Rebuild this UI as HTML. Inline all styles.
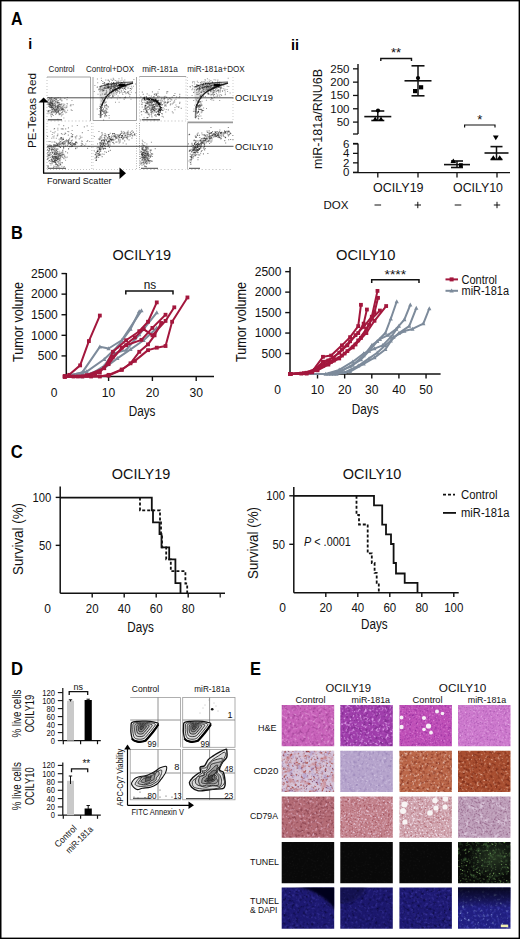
<!DOCTYPE html>
<html><head><meta charset="utf-8"><title>Figure</title>
<style>html,body{margin:0;padding:0;background:#fff;width:520px;height:939px;overflow:hidden}
text{font-family:"Liberation Sans", sans-serif}</style></head>
<body><svg width="520" height="939" viewBox="0 0 520 939" style="display:block;font-family:&quot;Liberation Sans&quot;, sans-serif"><rect x="0" y="0" width="520" height="1.4" fill="#000"/><rect x="0" y="937.6" width="520" height="1.4" fill="#000"/><rect x="0" y="0" width="1.5" height="939" fill="#000"/><rect x="518.6" y="0" width="1.4" height="939" fill="#000"/>
<text x="11.00" y="25.00" font-size="18" text-anchor="start" font-weight="bold" fill="#000" textLength="11.5" lengthAdjust="spacingAndGlyphs" >A</text>
<text x="11.00" y="238.50" font-size="18" text-anchor="start" font-weight="bold" fill="#000" textLength="11.8" lengthAdjust="spacingAndGlyphs" >B</text>
<text x="10.80" y="457.50" font-size="18" text-anchor="start" font-weight="bold" fill="#000" textLength="12" lengthAdjust="spacingAndGlyphs" >C</text>
<text x="11.00" y="674.50" font-size="18" text-anchor="start" font-weight="bold" fill="#000" textLength="12" lengthAdjust="spacingAndGlyphs" >D</text>
<text x="250.00" y="675.00" font-size="18" text-anchor="start" font-weight="bold" fill="#000" textLength="11" lengthAdjust="spacingAndGlyphs" >E</text>
<text x="28.30" y="48.80" font-size="14" text-anchor="start" font-weight="bold" fill="#000" >i</text>
<text x="291.00" y="49.80" font-size="14" text-anchor="start" font-weight="bold" fill="#000" textLength="8" lengthAdjust="spacingAndGlyphs" >ii</text>
<text x="61.60" y="72.30" font-size="8.6" text-anchor="middle" font-weight="normal" fill="#1a1a1a" textLength="26" lengthAdjust="spacingAndGlyphs" >Control</text>
<text x="110.00" y="72.30" font-size="8.6" text-anchor="middle" font-weight="normal" fill="#1a1a1a" textLength="48" lengthAdjust="spacingAndGlyphs" >Control+DOX</text>
<text x="160.00" y="72.30" font-size="8.6" text-anchor="middle" font-weight="normal" fill="#1a1a1a" textLength="35.7" lengthAdjust="spacingAndGlyphs" >miR-181a</text>
<text x="216.00" y="72.30" font-size="8.6" text-anchor="middle" font-weight="normal" fill="#1a1a1a" textLength="57.6" lengthAdjust="spacingAndGlyphs" >miR-181a+DOX</text>
<line x1="47.00" y1="77.00" x2="90.50" y2="77.00" stroke="#8a8a8a" stroke-width="0.8" />
<line x1="90.50" y1="77.00" x2="90.50" y2="121.00" stroke="#8a8a8a" stroke-width="0.8" />
<line x1="47.00" y1="77.00" x2="47.00" y2="121.00" stroke="#aaa" stroke-width="0.7" stroke-dasharray="1 2"/>
<line x1="47.00" y1="121.00" x2="90.50" y2="121.00" stroke="#bbb" stroke-width="0.7" stroke-dasharray="1.5 2"/>
<line x1="93.00" y1="77.00" x2="93.00" y2="120.50" stroke="#8a8a8a" stroke-width="0.8" />
<line x1="93.00" y1="120.50" x2="136.50" y2="120.50" stroke="#8a8a8a" stroke-width="0.8" />
<line x1="136.50" y1="77.00" x2="136.50" y2="120.50" stroke="#8a8a8a" stroke-width="0.8" />
<line x1="139.50" y1="76.50" x2="186.00" y2="76.50" stroke="#8a8a8a" stroke-width="0.8" />
<line x1="139.50" y1="76.50" x2="139.50" y2="121.00" stroke="#aaa" stroke-width="0.7" stroke-dasharray="1 2"/>
<line x1="186.00" y1="76.50" x2="186.00" y2="121.00" stroke="#aaa" stroke-width="0.7" stroke-dasharray="1 2"/>
<line x1="139.50" y1="121.00" x2="186.00" y2="121.00" stroke="#bbb" stroke-width="0.7" stroke-dasharray="1.5 2"/>
<line x1="187.50" y1="77.00" x2="187.50" y2="121.00" stroke="#bbb" stroke-width="0.7" stroke-dasharray="1 2"/>
<line x1="233.00" y1="77.00" x2="233.00" y2="121.00" stroke="#bbb" stroke-width="0.7" stroke-dasharray="1 2"/>
<line x1="47.00" y1="123.00" x2="47.00" y2="169.50" stroke="#aaa" stroke-width="0.7" stroke-dasharray="1 2"/>
<line x1="47.00" y1="169.50" x2="91.50" y2="169.50" stroke="#aaa" stroke-width="0.7" stroke-dasharray="1 2"/>
<line x1="91.50" y1="123.00" x2="91.50" y2="169.50" stroke="#bbb" stroke-width="0.7" stroke-dasharray="1 2"/>
<line x1="93.00" y1="123.00" x2="93.00" y2="169.50" stroke="#bbb" stroke-width="0.7" stroke-dasharray="1 2"/>
<line x1="93.00" y1="169.50" x2="136.50" y2="169.50" stroke="#bbb" stroke-width="0.7" stroke-dasharray="1 2"/>
<line x1="136.50" y1="123.00" x2="136.50" y2="169.50" stroke="#999" stroke-width="0.7" stroke-dasharray="1 1.5"/>
<line x1="139.50" y1="123.00" x2="139.50" y2="169.50" stroke="#999" stroke-width="0.9" stroke-dasharray="1 1.2"/>
<line x1="139.50" y1="169.50" x2="185.50" y2="169.50" stroke="#bbb" stroke-width="0.7" stroke-dasharray="1.5 2"/>
<line x1="187.50" y1="123.00" x2="187.50" y2="169.50" stroke="#aaa" stroke-width="0.8" />
<line x1="187.50" y1="169.50" x2="233.00" y2="169.50" stroke="#bbb" stroke-width="0.7" stroke-dasharray="1.5 2"/>
<path d="M54.4 108.3h1.1v1.1h-1.1zM59.6 106.8h1.1v1.1h-1.1zM51.9 102.9h1.1v1.1h-1.1zM52.8 114.9h1.1v1.1h-1.1zM58.0 106.8h1.1v1.1h-1.1zM57.2 97.3h1.1v1.1h-1.1zM57.4 105.1h1.1v1.1h-1.1zM55.9 98.3h1.1v1.1h-1.1zM49.6 106.8h1.1v1.1h-1.1zM59.9 106.3h1.1v1.1h-1.1zM49.2 112.5h1.1v1.1h-1.1zM50.2 114.3h1.1v1.1h-1.1zM52.8 103.2h1.1v1.1h-1.1zM49.9 104.7h1.1v1.1h-1.1zM52.3 108.9h1.1v1.1h-1.1zM54.7 107.0h1.1v1.1h-1.1zM53.7 103.4h1.1v1.1h-1.1zM57.0 106.8h1.1v1.1h-1.1zM53.2 104.9h1.1v1.1h-1.1zM58.9 113.7h1.1v1.1h-1.1zM58.2 97.2h1.1v1.1h-1.1zM55.1 113.9h1.1v1.1h-1.1zM56.0 109.3h1.1v1.1h-1.1zM51.3 97.4h1.1v1.1h-1.1zM58.5 114.2h1.1v1.1h-1.1zM55.1 102.1h1.1v1.1h-1.1zM61.3 104.5h1.1v1.1h-1.1zM48.0 110.0h1.1v1.1h-1.1zM55.2 111.2h1.1v1.1h-1.1zM47.6 111.3h1.1v1.1h-1.1zM62.6 105.7h1.1v1.1h-1.1zM48.9 102.2h1.1v1.1h-1.1zM49.2 101.9h1.1v1.1h-1.1zM50.7 107.5h1.1v1.1h-1.1zM58.1 107.2h1.1v1.1h-1.1zM57.3 118.8h1.1v1.1h-1.1zM51.8 105.0h1.1v1.1h-1.1zM59.0 106.0h1.1v1.1h-1.1zM62.2 107.8h1.1v1.1h-1.1zM60.8 115.4h1.1v1.1h-1.1zM63.9 111.2h1.1v1.1h-1.1zM52.0 106.9h1.1v1.1h-1.1zM58.0 106.6h1.1v1.1h-1.1zM55.0 106.3h1.1v1.1h-1.1zM57.2 104.4h1.1v1.1h-1.1zM51.3 114.1h1.1v1.1h-1.1zM61.4 109.3h1.1v1.1h-1.1zM54.9 109.5h1.1v1.1h-1.1zM54.1 110.3h1.1v1.1h-1.1zM58.6 105.6h1.1v1.1h-1.1zM51.2 102.0h1.1v1.1h-1.1zM54.5 97.7h1.1v1.1h-1.1zM47.4 103.2h1.1v1.1h-1.1zM51.5 106.3h1.1v1.1h-1.1zM50.3 103.5h1.1v1.1h-1.1zM50.3 100.4h1.1v1.1h-1.1zM48.0 104.2h1.1v1.1h-1.1zM50.4 100.0h1.1v1.1h-1.1zM49.9 100.5h1.1v1.1h-1.1zM54.2 102.2h1.1v1.1h-1.1zM51.0 108.6h1.1v1.1h-1.1zM52.3 99.4h1.1v1.1h-1.1zM49.2 104.5h1.1v1.1h-1.1zM50.9 101.7h1.1v1.1h-1.1zM52.6 103.4h1.1v1.1h-1.1zM49.6 112.6h1.1v1.1h-1.1zM52.6 98.6h1.1v1.1h-1.1zM50.3 99.1h1.1v1.1h-1.1zM49.0 104.1h1.1v1.1h-1.1zM49.0 102.0h1.1v1.1h-1.1zM49.6 104.1h1.1v1.1h-1.1zM47.4 99.9h1.1v1.1h-1.1zM51.6 104.7h1.1v1.1h-1.1zM60.9 111.9h1.1v1.1h-1.1zM70.7 109.3h1.1v1.1h-1.1zM66.8 97.0h1.1v1.1h-1.1zM70.4 104.0h1.1v1.1h-1.1zM58.3 103.4h1.1v1.1h-1.1zM53.6 106.2h1.1v1.1h-1.1zM69.8 105.2h1.1v1.1h-1.1zM61.0 108.6h1.1v1.1h-1.1zM58.2 112.8h1.1v1.1h-1.1zM66.5 106.5h1.1v1.1h-1.1zM62.5 113.6h1.1v1.1h-1.1zM71.4 100.0h1.1v1.1h-1.1zM57.7 111.3h1.1v1.1h-1.1z" fill="#000" fill-opacity="0.36400000000000005"/>
<path d="M54.5 103.7h1.1v1.1h-1.1zM57.0 106.5h1.1v1.1h-1.1zM56.7 105.2h1.1v1.1h-1.1zM57.7 112.0h1.1v1.1h-1.1zM53.7 100.2h1.1v1.1h-1.1zM55.6 112.6h1.1v1.1h-1.1zM49.6 110.0h1.1v1.1h-1.1zM57.9 102.1h1.1v1.1h-1.1zM61.2 108.6h1.1v1.1h-1.1zM56.4 107.8h1.1v1.1h-1.1zM59.3 108.4h1.1v1.1h-1.1zM57.7 104.6h1.1v1.1h-1.1zM59.6 105.6h1.1v1.1h-1.1zM54.9 103.8h1.1v1.1h-1.1zM60.0 110.2h1.1v1.1h-1.1zM57.7 105.5h1.1v1.1h-1.1zM55.4 110.5h1.1v1.1h-1.1zM53.7 109.1h1.1v1.1h-1.1zM54.5 105.1h1.1v1.1h-1.1zM48.6 103.5h1.1v1.1h-1.1zM56.2 112.0h1.1v1.1h-1.1zM59.6 103.8h1.1v1.1h-1.1zM56.3 109.0h1.1v1.1h-1.1zM60.5 109.6h1.1v1.1h-1.1zM51.9 114.0h1.1v1.1h-1.1zM57.0 107.7h1.1v1.1h-1.1zM52.5 111.1h1.1v1.1h-1.1zM56.7 102.1h1.1v1.1h-1.1zM61.4 114.3h1.1v1.1h-1.1zM50.5 105.4h1.1v1.1h-1.1zM57.6 111.0h1.1v1.1h-1.1zM59.5 109.8h1.1v1.1h-1.1zM59.1 102.3h1.1v1.1h-1.1zM58.3 103.9h1.1v1.1h-1.1zM60.8 109.1h1.1v1.1h-1.1zM51.7 109.2h1.1v1.1h-1.1zM56.6 110.0h1.1v1.1h-1.1zM52.0 100.8h1.1v1.1h-1.1zM55.2 108.3h1.1v1.1h-1.1zM49.8 101.8h1.1v1.1h-1.1zM50.7 98.1h1.1v1.1h-1.1zM55.2 108.3h1.1v1.1h-1.1zM54.2 109.8h1.1v1.1h-1.1zM55.4 106.4h1.1v1.1h-1.1zM57.2 100.1h1.1v1.1h-1.1zM53.9 97.9h1.1v1.1h-1.1zM55.4 108.7h1.1v1.1h-1.1zM54.3 111.3h1.1v1.1h-1.1zM59.4 105.5h1.1v1.1h-1.1zM58.9 108.4h1.1v1.1h-1.1zM55.5 97.4h1.1v1.1h-1.1zM62.8 108.3h1.1v1.1h-1.1zM47.5 99.2h1.1v1.1h-1.1zM52.9 108.1h1.1v1.1h-1.1zM51.2 97.1h1.1v1.1h-1.1zM51.6 104.9h1.1v1.1h-1.1zM50.7 97.9h1.1v1.1h-1.1zM50.2 103.2h1.1v1.1h-1.1zM48.7 103.0h1.1v1.1h-1.1zM52.2 103.9h1.1v1.1h-1.1zM51.7 107.2h1.1v1.1h-1.1zM50.8 111.9h1.1v1.1h-1.1zM51.4 106.3h1.1v1.1h-1.1zM52.7 100.6h1.1v1.1h-1.1zM49.4 106.7h1.1v1.1h-1.1zM50.5 106.6h1.1v1.1h-1.1zM48.0 97.0h1.1v1.1h-1.1zM50.5 97.7h1.1v1.1h-1.1zM49.7 109.7h1.1v1.1h-1.1zM50.9 105.5h1.1v1.1h-1.1zM50.7 105.1h1.1v1.1h-1.1zM50.4 99.3h1.1v1.1h-1.1zM51.3 103.0h1.1v1.1h-1.1zM56.2 111.3h1.1v1.1h-1.1zM66.8 103.3h1.1v1.1h-1.1zM65.9 106.7h1.1v1.1h-1.1zM55.3 99.3h1.1v1.1h-1.1zM64.6 110.7h1.1v1.1h-1.1zM58.2 110.2h1.1v1.1h-1.1zM66.5 102.9h1.1v1.1h-1.1zM52.5 107.5h1.1v1.1h-1.1zM59.8 103.8h1.1v1.1h-1.1zM63.3 103.5h1.1v1.1h-1.1zM65.1 112.2h1.1v1.1h-1.1zM66.3 105.2h1.1v1.1h-1.1zM61.7 107.8h1.1v1.1h-1.1z" fill="#000" fill-opacity="0.36400000000000005"/>
<path d="M51.7 104.3h1.1v1.1h-1.1zM48.8 110.2h1.1v1.1h-1.1zM57.5 101.9h1.1v1.1h-1.1zM53.0 101.4h1.1v1.1h-1.1zM53.4 112.2h1.1v1.1h-1.1zM47.4 103.7h1.1v1.1h-1.1zM58.1 110.7h1.1v1.1h-1.1zM53.6 98.5h1.1v1.1h-1.1zM56.9 101.4h1.1v1.1h-1.1zM61.8 108.9h1.1v1.1h-1.1zM47.6 102.0h1.1v1.1h-1.1zM56.7 109.0h1.1v1.1h-1.1zM51.9 110.7h1.1v1.1h-1.1zM61.1 99.8h1.1v1.1h-1.1zM56.8 106.2h1.1v1.1h-1.1zM58.5 108.6h1.1v1.1h-1.1zM54.1 107.6h1.1v1.1h-1.1zM56.6 102.6h1.1v1.1h-1.1zM59.5 99.0h1.1v1.1h-1.1zM54.1 108.9h1.1v1.1h-1.1zM54.9 106.5h1.1v1.1h-1.1zM66.4 99.1h1.1v1.1h-1.1zM49.3 97.1h1.1v1.1h-1.1zM61.3 100.3h1.1v1.1h-1.1zM59.4 104.5h1.1v1.1h-1.1zM61.4 99.8h1.1v1.1h-1.1zM55.9 106.1h1.1v1.1h-1.1zM55.4 110.0h1.1v1.1h-1.1zM52.8 110.3h1.1v1.1h-1.1zM54.7 105.3h1.1v1.1h-1.1zM54.7 98.5h1.1v1.1h-1.1zM55.5 109.9h1.1v1.1h-1.1zM51.8 101.2h1.1v1.1h-1.1zM56.6 102.9h1.1v1.1h-1.1zM59.0 112.7h1.1v1.1h-1.1zM63.0 104.8h1.1v1.1h-1.1zM55.3 104.4h1.1v1.1h-1.1zM66.1 111.7h1.1v1.1h-1.1zM47.7 111.1h1.1v1.1h-1.1zM56.6 106.5h1.1v1.1h-1.1zM62.3 110.9h1.1v1.1h-1.1zM52.5 104.8h1.1v1.1h-1.1zM55.6 100.9h1.1v1.1h-1.1zM54.9 98.5h1.1v1.1h-1.1zM47.9 105.8h1.1v1.1h-1.1zM52.4 108.3h1.1v1.1h-1.1zM62.1 110.8h1.1v1.1h-1.1zM57.8 110.4h1.1v1.1h-1.1zM50.8 106.5h1.1v1.1h-1.1zM56.3 105.8h1.1v1.1h-1.1zM52.7 108.6h1.1v1.1h-1.1zM52.2 99.9h1.1v1.1h-1.1zM49.4 97.8h1.1v1.1h-1.1zM48.4 101.4h1.1v1.1h-1.1zM48.5 103.4h1.1v1.1h-1.1zM50.3 100.8h1.1v1.1h-1.1zM50.0 102.2h1.1v1.1h-1.1zM51.6 104.6h1.1v1.1h-1.1zM49.7 103.9h1.1v1.1h-1.1zM49.2 104.4h1.1v1.1h-1.1zM51.3 102.8h1.1v1.1h-1.1zM50.1 103.5h1.1v1.1h-1.1zM49.2 110.5h1.1v1.1h-1.1zM51.5 101.5h1.1v1.1h-1.1zM50.4 104.7h1.1v1.1h-1.1zM49.4 103.3h1.1v1.1h-1.1zM52.3 101.6h1.1v1.1h-1.1zM50.3 104.7h1.1v1.1h-1.1zM51.7 103.0h1.1v1.1h-1.1zM51.4 111.8h1.1v1.1h-1.1zM50.1 104.9h1.1v1.1h-1.1zM48.8 106.0h1.1v1.1h-1.1zM48.2 103.3h1.1v1.1h-1.1zM72.6 104.1h1.1v1.1h-1.1zM61.4 107.4h1.1v1.1h-1.1zM64.1 109.6h1.1v1.1h-1.1zM54.1 109.5h1.1v1.1h-1.1zM55.4 100.4h1.1v1.1h-1.1zM60.7 106.9h1.1v1.1h-1.1zM61.9 111.9h1.1v1.1h-1.1zM57.4 109.7h1.1v1.1h-1.1zM64.3 98.0h1.1v1.1h-1.1zM63.3 117.4h1.1v1.1h-1.1zM62.7 109.0h1.1v1.1h-1.1zM61.4 105.9h1.1v1.1h-1.1zM60.4 112.9h1.1v1.1h-1.1z" fill="#000" fill-opacity="0.36400000000000005"/>
<path d="M59.9 107.8h1.1v1.1h-1.1zM57.5 108.2h1.1v1.1h-1.1zM56.7 107.6h1.1v1.1h-1.1zM54.1 104.9h1.1v1.1h-1.1zM52.2 106.8h1.1v1.1h-1.1zM55.0 101.0h1.1v1.1h-1.1zM61.2 107.4h1.1v1.1h-1.1zM51.6 102.5h1.1v1.1h-1.1zM51.0 110.8h1.1v1.1h-1.1zM57.5 108.5h1.1v1.1h-1.1zM54.7 111.1h1.1v1.1h-1.1zM55.9 111.8h1.1v1.1h-1.1zM61.3 103.0h1.1v1.1h-1.1zM60.5 98.5h1.1v1.1h-1.1zM56.1 108.6h1.1v1.1h-1.1zM63.5 107.2h1.1v1.1h-1.1zM51.0 106.8h1.1v1.1h-1.1zM65.2 107.4h1.1v1.1h-1.1zM55.2 110.7h1.1v1.1h-1.1zM59.8 97.5h1.1v1.1h-1.1zM58.6 106.2h1.1v1.1h-1.1zM59.1 104.0h1.1v1.1h-1.1zM57.9 100.2h1.1v1.1h-1.1zM55.5 99.2h1.1v1.1h-1.1zM47.6 113.2h1.1v1.1h-1.1zM60.0 113.6h1.1v1.1h-1.1zM61.1 104.0h1.1v1.1h-1.1zM55.8 112.7h1.1v1.1h-1.1zM47.9 99.5h1.1v1.1h-1.1zM53.1 106.7h1.1v1.1h-1.1zM53.2 111.4h1.1v1.1h-1.1zM56.1 99.0h1.1v1.1h-1.1zM49.3 104.8h1.1v1.1h-1.1zM58.6 109.6h1.1v1.1h-1.1zM54.3 102.9h1.1v1.1h-1.1zM57.7 110.4h1.1v1.1h-1.1zM51.4 103.5h1.1v1.1h-1.1zM57.9 108.1h1.1v1.1h-1.1zM56.7 101.6h1.1v1.1h-1.1zM53.9 100.1h1.1v1.1h-1.1zM62.7 109.9h1.1v1.1h-1.1zM57.3 107.5h1.1v1.1h-1.1zM52.9 105.4h1.1v1.1h-1.1zM57.1 111.2h1.1v1.1h-1.1zM51.7 109.5h1.1v1.1h-1.1zM57.4 106.4h1.1v1.1h-1.1zM59.5 99.5h1.1v1.1h-1.1zM60.4 104.3h1.1v1.1h-1.1zM56.9 111.7h1.1v1.1h-1.1zM54.5 109.2h1.1v1.1h-1.1zM57.7 105.2h1.1v1.1h-1.1zM51.7 107.2h1.1v1.1h-1.1zM50.5 104.4h1.1v1.1h-1.1zM48.8 99.1h1.1v1.1h-1.1zM50.1 102.2h1.1v1.1h-1.1zM48.9 103.6h1.1v1.1h-1.1zM51.2 105.9h1.1v1.1h-1.1zM49.3 98.0h1.1v1.1h-1.1zM51.3 101.8h1.1v1.1h-1.1zM51.4 112.8h1.1v1.1h-1.1zM51.3 99.1h1.1v1.1h-1.1zM52.3 103.6h1.1v1.1h-1.1zM53.1 103.5h1.1v1.1h-1.1zM49.3 106.3h1.1v1.1h-1.1zM52.9 108.0h1.1v1.1h-1.1zM47.7 110.6h1.1v1.1h-1.1zM50.4 102.2h1.1v1.1h-1.1zM51.2 102.5h1.1v1.1h-1.1zM49.7 100.6h1.1v1.1h-1.1zM49.3 103.5h1.1v1.1h-1.1zM50.5 106.5h1.1v1.1h-1.1zM49.4 106.0h1.1v1.1h-1.1zM64.2 104.3h1.1v1.1h-1.1zM62.3 106.5h1.1v1.1h-1.1zM50.8 116.1h1.1v1.1h-1.1zM52.5 106.2h1.1v1.1h-1.1zM71.6 110.0h1.1v1.1h-1.1zM63.2 108.9h1.1v1.1h-1.1zM59.3 113.8h1.1v1.1h-1.1zM70.5 105.2h1.1v1.1h-1.1zM61.7 109.0h1.1v1.1h-1.1zM57.4 107.3h1.1v1.1h-1.1zM57.6 107.6h1.1v1.1h-1.1zM67.0 109.7h1.1v1.1h-1.1zM58.5 102.4h1.1v1.1h-1.1zM64.4 106.6h1.1v1.1h-1.1z" fill="#000" fill-opacity="0.36400000000000005"/>
<g transform="translate(0,0)"><path d="M99.5,86.5 C106,83 118,82 133,82 C126,84.5 118,87 110,93 C105,97 102,101 100.5,106 C99.5,99 99,92 99.5,86.5 Z" fill="#cfcfcf" fill-opacity="0.65"/><path d="M100.5,111 C101.5,104 104,98 110,93 C116,88 124,85.5 133,83" fill="none" stroke="#222" stroke-width="1.5"/><path d="M99.5,87 C107,83.5 118,82.5 133,82" fill="none" stroke="#555" stroke-width="1.2"/><path d="M101,106 L100.5,118" fill="none" stroke="#777" stroke-width="1.6"/><path d="M101,90 C108,87 114,86 120,85" fill="none" stroke="#777" stroke-width="1"/><ellipse cx="122" cy="85" rx="3.5" ry="1.6" fill="#000"/></g>
<path d="M119.5 85.0h1.0v1.0h-1.0zM99.4 90.7h1.0v1.0h-1.0zM113.8 84.6h1.0v1.0h-1.0zM109.7 87.7h1.0v1.0h-1.0zM128.6 85.6h1.0v1.0h-1.0zM135.0 83.4h1.0v1.0h-1.0zM118.3 80.5h1.0v1.0h-1.0zM114.2 84.2h1.0v1.0h-1.0zM101.9 93.5h1.0v1.0h-1.0zM111.1 82.1h1.0v1.0h-1.0zM111.2 84.1h1.0v1.0h-1.0zM113.6 87.9h1.0v1.0h-1.0zM118.2 81.2h1.0v1.0h-1.0zM120.8 86.2h1.0v1.0h-1.0zM120.1 82.9h1.0v1.0h-1.0zM115.2 88.5h1.0v1.0h-1.0zM121.5 85.7h1.0v1.0h-1.0zM117.3 86.1h1.0v1.0h-1.0zM107.3 86.9h1.0v1.0h-1.0zM109.6 87.1h1.0v1.0h-1.0zM98.0 89.2h1.0v1.0h-1.0zM124.1 87.9h1.0v1.0h-1.0zM121.4 77.6h1.0v1.0h-1.0zM123.8 83.0h1.0v1.0h-1.0zM116.2 83.7h1.0v1.0h-1.0zM110.5 78.8h1.0v1.0h-1.0zM104.3 83.1h1.0v1.0h-1.0zM104.4 86.6h1.0v1.0h-1.0zM108.0 86.0h1.0v1.0h-1.0zM110.9 85.4h1.0v1.0h-1.0zM104.7 85.4h1.0v1.0h-1.0zM118.2 84.5h1.0v1.0h-1.0zM119.2 83.9h1.0v1.0h-1.0zM119.1 86.0h1.0v1.0h-1.0zM121.8 88.1h1.0v1.0h-1.0zM107.3 83.2h1.0v1.0h-1.0zM108.3 86.2h1.0v1.0h-1.0zM102.1 83.1h1.0v1.0h-1.0zM94.4 85.0h1.0v1.0h-1.0zM120.1 87.4h1.0v1.0h-1.0zM127.5 91.1h1.0v1.0h-1.0zM107.7 86.9h1.0v1.0h-1.0zM127.0 83.5h1.0v1.0h-1.0zM128.1 87.5h1.0v1.0h-1.0zM100.6 85.3h1.0v1.0h-1.0zM116.4 80.5h1.0v1.0h-1.0zM114.1 87.0h1.0v1.0h-1.0zM111.8 83.1h1.0v1.0h-1.0zM119.6 85.0h1.0v1.0h-1.0zM113.3 82.7h1.0v1.0h-1.0zM100.8 77.8h1.0v1.0h-1.0zM106.5 84.3h1.0v1.0h-1.0zM129.7 90.1h1.0v1.0h-1.0zM108.7 80.6h1.0v1.0h-1.0zM130.1 88.1h1.0v1.0h-1.0zM123.0 80.7h1.0v1.0h-1.0zM113.8 83.3h1.0v1.0h-1.0zM108.2 87.6h1.0v1.0h-1.0zM99.5 110.8h1.0v1.0h-1.0zM104.1 104.7h1.0v1.0h-1.0zM99.0 108.0h1.0v1.0h-1.0zM103.1 110.9h1.0v1.0h-1.0zM102.1 99.2h1.0v1.0h-1.0zM103.9 106.8h1.0v1.0h-1.0zM103.8 113.0h1.0v1.0h-1.0zM106.2 115.5h1.0v1.0h-1.0zM105.5 111.5h1.0v1.0h-1.0zM104.3 109.9h1.0v1.0h-1.0zM107.5 106.2h1.0v1.0h-1.0zM103.2 102.2h1.0v1.0h-1.0zM99.9 112.7h1.0v1.0h-1.0zM100.1 112.1h1.0v1.0h-1.0zM102.6 97.4h1.0v1.0h-1.0zM102.1 114.0h1.0v1.0h-1.0zM101.1 110.0h1.0v1.0h-1.0zM103.9 102.6h1.0v1.0h-1.0zM106.3 105.3h1.0v1.0h-1.0zM104.9 102.2h1.0v1.0h-1.0zM108.7 117.5h1.0v1.0h-1.0zM100.1 111.2h1.0v1.0h-1.0zM104.4 116.3h1.0v1.0h-1.0zM105.4 92.5h1.0v1.0h-1.0zM109.0 92.2h1.0v1.0h-1.0zM111.1 93.6h1.0v1.0h-1.0zM112.6 95.8h1.0v1.0h-1.0zM129.6 94.1h1.0v1.0h-1.0zM135.1 92.2h1.0v1.0h-1.0zM112.9 93.4h1.0v1.0h-1.0zM107.2 84.1h1.0v1.0h-1.0zM100.2 94.6h1.0v1.0h-1.0zM111.1 92.0h1.0v1.0h-1.0zM105.4 92.5h1.0v1.0h-1.0zM108.1 87.2h1.0v1.0h-1.0zM106.3 91.2h1.0v1.0h-1.0zM109.4 94.9h1.0v1.0h-1.0zM118.6 88.5h1.0v1.0h-1.0zM107.5 85.6h1.0v1.0h-1.0zM127.9 93.1h1.0v1.0h-1.0zM125.2 88.9h1.0v1.0h-1.0zM111.9 86.4h1.0v1.0h-1.0zM116.4 92.5h1.0v1.0h-1.0zM109.8 90.3h1.0v1.0h-1.0zM125.3 93.2h1.0v1.0h-1.0zM123.4 91.9h1.0v1.0h-1.0zM112.1 89.3h1.0v1.0h-1.0zM129.2 95.7h1.0v1.0h-1.0zM128.6 93.6h1.0v1.0h-1.0zM97.5 93.8h1.0v1.0h-1.0zM116.8 90.0h1.0v1.0h-1.0zM108.5 95.4h1.0v1.0h-1.0zM109.8 88.5h1.0v1.0h-1.0z" fill="#000" fill-opacity="0.41600000000000004"/>
<path d="M103.1 90.2h1.0v1.0h-1.0zM116.5 88.4h1.0v1.0h-1.0zM116.7 85.7h1.0v1.0h-1.0zM125.5 84.3h1.0v1.0h-1.0zM124.5 83.2h1.0v1.0h-1.0zM108.3 87.1h1.0v1.0h-1.0zM120.3 80.6h1.0v1.0h-1.0zM118.4 90.6h1.0v1.0h-1.0zM133.4 79.1h1.0v1.0h-1.0zM114.4 88.8h1.0v1.0h-1.0zM117.6 83.3h1.0v1.0h-1.0zM124.2 91.0h1.0v1.0h-1.0zM117.7 85.4h1.0v1.0h-1.0zM117.8 86.9h1.0v1.0h-1.0zM112.5 91.0h1.0v1.0h-1.0zM117.3 87.2h1.0v1.0h-1.0zM111.0 83.7h1.0v1.0h-1.0zM104.5 88.0h1.0v1.0h-1.0zM105.6 92.9h1.0v1.0h-1.0zM112.7 83.4h1.0v1.0h-1.0zM108.3 86.0h1.0v1.0h-1.0zM106.2 88.3h1.0v1.0h-1.0zM115.0 87.1h1.0v1.0h-1.0zM115.9 83.8h1.0v1.0h-1.0zM115.3 88.7h1.0v1.0h-1.0zM124.7 86.6h1.0v1.0h-1.0zM108.1 83.5h1.0v1.0h-1.0zM125.9 86.2h1.0v1.0h-1.0zM109.3 85.8h1.0v1.0h-1.0zM111.1 84.5h1.0v1.0h-1.0zM118.1 85.0h1.0v1.0h-1.0zM118.5 78.3h1.0v1.0h-1.0zM115.5 83.9h1.0v1.0h-1.0zM124.7 91.9h1.0v1.0h-1.0zM107.9 83.2h1.0v1.0h-1.0zM115.6 83.1h1.0v1.0h-1.0zM113.4 84.5h1.0v1.0h-1.0zM113.3 85.7h1.0v1.0h-1.0zM117.9 87.2h1.0v1.0h-1.0zM115.4 89.7h1.0v1.0h-1.0zM113.7 87.3h1.0v1.0h-1.0zM126.4 85.8h1.0v1.0h-1.0zM113.7 92.4h1.0v1.0h-1.0zM124.9 85.8h1.0v1.0h-1.0zM115.7 83.7h1.0v1.0h-1.0zM130.8 85.7h1.0v1.0h-1.0zM113.8 86.4h1.0v1.0h-1.0zM104.4 84.4h1.0v1.0h-1.0zM114.6 85.1h1.0v1.0h-1.0zM119.4 83.5h1.0v1.0h-1.0zM96.6 86.7h1.0v1.0h-1.0zM116.5 89.8h1.0v1.0h-1.0zM110.7 87.0h1.0v1.0h-1.0zM124.5 87.2h1.0v1.0h-1.0zM132.1 81.6h1.0v1.0h-1.0zM102.3 81.0h1.0v1.0h-1.0zM109.5 88.5h1.0v1.0h-1.0zM123.9 84.7h1.0v1.0h-1.0zM101.3 113.9h1.0v1.0h-1.0zM105.2 107.5h1.0v1.0h-1.0zM104.7 112.9h1.0v1.0h-1.0zM102.6 101.9h1.0v1.0h-1.0zM101.9 104.1h1.0v1.0h-1.0zM104.0 111.3h1.0v1.0h-1.0zM99.4 105.9h1.0v1.0h-1.0zM101.3 100.5h1.0v1.0h-1.0zM104.9 105.1h1.0v1.0h-1.0zM103.5 111.9h1.0v1.0h-1.0zM108.6 115.1h1.0v1.0h-1.0zM104.7 114.2h1.0v1.0h-1.0zM102.5 102.0h1.0v1.0h-1.0zM105.7 104.6h1.0v1.0h-1.0zM104.1 99.8h1.0v1.0h-1.0zM105.6 110.5h1.0v1.0h-1.0zM101.6 104.0h1.0v1.0h-1.0zM96.7 108.4h1.0v1.0h-1.0zM106.1 111.4h1.0v1.0h-1.0zM98.4 114.0h1.0v1.0h-1.0zM103.0 108.8h1.0v1.0h-1.0zM102.3 110.6h1.0v1.0h-1.0zM102.2 109.7h1.0v1.0h-1.0zM118.6 101.7h1.0v1.0h-1.0zM111.6 90.9h1.0v1.0h-1.0zM110.9 92.6h1.0v1.0h-1.0zM105.2 94.0h1.0v1.0h-1.0zM127.1 87.6h1.0v1.0h-1.0zM112.1 89.0h1.0v1.0h-1.0zM127.2 87.5h1.0v1.0h-1.0zM119.1 84.1h1.0v1.0h-1.0zM109.6 90.4h1.0v1.0h-1.0zM106.1 91.8h1.0v1.0h-1.0zM107.7 84.9h1.0v1.0h-1.0zM126.3 92.5h1.0v1.0h-1.0zM117.2 90.9h1.0v1.0h-1.0zM101.9 90.4h1.0v1.0h-1.0zM119.3 87.9h1.0v1.0h-1.0zM112.1 94.6h1.0v1.0h-1.0zM123.1 88.2h1.0v1.0h-1.0zM107.8 85.6h1.0v1.0h-1.0zM113.2 89.0h1.0v1.0h-1.0zM118.2 82.7h1.0v1.0h-1.0zM112.8 95.5h1.0v1.0h-1.0zM119.4 92.0h1.0v1.0h-1.0zM99.7 86.4h1.0v1.0h-1.0zM116.3 92.1h1.0v1.0h-1.0zM116.5 92.0h1.0v1.0h-1.0zM111.9 83.8h1.0v1.0h-1.0zM115.0 101.8h1.0v1.0h-1.0zM110.7 97.5h1.0v1.0h-1.0zM104.4 93.8h1.0v1.0h-1.0zM104.9 96.1h1.0v1.0h-1.0z" fill="#000" fill-opacity="0.41600000000000004"/>
<path d="M117.7 82.4h1.0v1.0h-1.0zM115.3 85.0h1.0v1.0h-1.0zM119.6 84.3h1.0v1.0h-1.0zM112.4 90.6h1.0v1.0h-1.0zM115.4 85.3h1.0v1.0h-1.0zM104.0 87.1h1.0v1.0h-1.0zM107.2 83.7h1.0v1.0h-1.0zM113.6 86.7h1.0v1.0h-1.0zM113.1 86.8h1.0v1.0h-1.0zM103.7 82.2h1.0v1.0h-1.0zM105.6 84.2h1.0v1.0h-1.0zM106.4 84.2h1.0v1.0h-1.0zM97.1 86.4h1.0v1.0h-1.0zM125.2 84.8h1.0v1.0h-1.0zM117.5 85.0h1.0v1.0h-1.0zM113.1 89.8h1.0v1.0h-1.0zM111.2 87.5h1.0v1.0h-1.0zM111.0 84.4h1.0v1.0h-1.0zM109.1 89.3h1.0v1.0h-1.0zM132.9 85.8h1.0v1.0h-1.0zM124.8 85.9h1.0v1.0h-1.0zM118.0 87.6h1.0v1.0h-1.0zM110.5 85.6h1.0v1.0h-1.0zM114.9 83.3h1.0v1.0h-1.0zM104.7 85.1h1.0v1.0h-1.0zM113.6 84.6h1.0v1.0h-1.0zM103.1 87.5h1.0v1.0h-1.0zM106.9 85.7h1.0v1.0h-1.0zM120.1 88.0h1.0v1.0h-1.0zM111.9 80.0h1.0v1.0h-1.0zM111.6 79.7h1.0v1.0h-1.0zM121.2 86.7h1.0v1.0h-1.0zM115.3 87.9h1.0v1.0h-1.0zM105.3 79.4h1.0v1.0h-1.0zM121.5 82.6h1.0v1.0h-1.0zM125.3 85.2h1.0v1.0h-1.0zM116.4 83.3h1.0v1.0h-1.0zM118.5 85.9h1.0v1.0h-1.0zM112.4 84.9h1.0v1.0h-1.0zM108.3 84.4h1.0v1.0h-1.0zM124.1 88.1h1.0v1.0h-1.0zM105.8 84.4h1.0v1.0h-1.0zM124.2 86.6h1.0v1.0h-1.0zM118.1 84.9h1.0v1.0h-1.0zM110.7 88.0h1.0v1.0h-1.0zM113.2 81.9h1.0v1.0h-1.0zM105.8 90.1h1.0v1.0h-1.0zM116.1 81.7h1.0v1.0h-1.0zM113.1 87.8h1.0v1.0h-1.0zM114.8 92.5h1.0v1.0h-1.0zM107.8 79.5h1.0v1.0h-1.0zM131.0 88.8h1.0v1.0h-1.0zM116.1 85.7h1.0v1.0h-1.0zM102.6 90.0h1.0v1.0h-1.0zM118.3 86.9h1.0v1.0h-1.0zM108.5 83.6h1.0v1.0h-1.0zM120.4 85.8h1.0v1.0h-1.0zM120.9 81.9h1.0v1.0h-1.0zM101.8 106.7h1.0v1.0h-1.0zM104.0 93.7h1.0v1.0h-1.0zM100.8 115.2h1.0v1.0h-1.0zM106.2 112.0h1.0v1.0h-1.0zM101.5 110.4h1.0v1.0h-1.0zM105.9 104.1h1.0v1.0h-1.0zM103.6 100.3h1.0v1.0h-1.0zM104.8 112.2h1.0v1.0h-1.0zM104.3 111.5h1.0v1.0h-1.0zM102.0 107.1h1.0v1.0h-1.0zM105.5 110.4h1.0v1.0h-1.0zM104.8 109.6h1.0v1.0h-1.0zM101.6 103.4h1.0v1.0h-1.0zM99.8 103.8h1.0v1.0h-1.0zM105.8 101.5h1.0v1.0h-1.0zM104.3 99.8h1.0v1.0h-1.0zM100.9 97.2h1.0v1.0h-1.0zM106.5 109.0h1.0v1.0h-1.0zM99.7 105.5h1.0v1.0h-1.0zM104.4 114.9h1.0v1.0h-1.0zM103.1 112.5h1.0v1.0h-1.0zM104.2 115.6h1.0v1.0h-1.0zM125.0 96.5h1.0v1.0h-1.0zM108.6 96.1h1.0v1.0h-1.0zM119.3 88.3h1.0v1.0h-1.0zM128.3 91.6h1.0v1.0h-1.0zM111.4 88.3h1.0v1.0h-1.0zM125.1 97.3h1.0v1.0h-1.0zM119.1 92.8h1.0v1.0h-1.0zM123.8 98.8h1.0v1.0h-1.0zM119.5 97.3h1.0v1.0h-1.0zM115.9 93.7h1.0v1.0h-1.0zM100.0 89.5h1.0v1.0h-1.0zM109.6 94.4h1.0v1.0h-1.0zM107.9 83.1h1.0v1.0h-1.0zM113.3 86.0h1.0v1.0h-1.0zM117.6 95.6h1.0v1.0h-1.0zM109.1 91.4h1.0v1.0h-1.0zM112.3 96.6h1.0v1.0h-1.0zM121.9 92.5h1.0v1.0h-1.0zM124.8 88.5h1.0v1.0h-1.0zM111.1 87.7h1.0v1.0h-1.0zM111.2 88.3h1.0v1.0h-1.0zM112.0 95.4h1.0v1.0h-1.0zM119.4 86.6h1.0v1.0h-1.0zM124.5 91.0h1.0v1.0h-1.0zM127.6 91.7h1.0v1.0h-1.0zM114.4 88.6h1.0v1.0h-1.0zM115.1 89.8h1.0v1.0h-1.0zM115.3 90.9h1.0v1.0h-1.0zM123.5 98.4h1.0v1.0h-1.0zM124.3 97.1h1.0v1.0h-1.0z" fill="#000" fill-opacity="0.41600000000000004"/>
<path d="M123.2 86.6h1.0v1.0h-1.0zM99.6 88.6h1.0v1.0h-1.0zM113.2 78.7h1.0v1.0h-1.0zM110.6 87.8h1.0v1.0h-1.0zM114.5 89.1h1.0v1.0h-1.0zM118.6 84.6h1.0v1.0h-1.0zM109.9 88.2h1.0v1.0h-1.0zM124.7 86.4h1.0v1.0h-1.0zM122.2 87.6h1.0v1.0h-1.0zM113.3 79.3h1.0v1.0h-1.0zM113.1 83.4h1.0v1.0h-1.0zM107.0 85.4h1.0v1.0h-1.0zM124.3 79.5h1.0v1.0h-1.0zM121.4 84.2h1.0v1.0h-1.0zM103.2 83.0h1.0v1.0h-1.0zM110.0 83.7h1.0v1.0h-1.0zM116.7 81.6h1.0v1.0h-1.0zM120.7 89.7h1.0v1.0h-1.0zM107.7 88.1h1.0v1.0h-1.0zM98.7 88.2h1.0v1.0h-1.0zM101.0 80.1h1.0v1.0h-1.0zM121.6 87.8h1.0v1.0h-1.0zM121.5 84.1h1.0v1.0h-1.0zM99.1 89.0h1.0v1.0h-1.0zM118.4 87.2h1.0v1.0h-1.0zM115.9 84.1h1.0v1.0h-1.0zM101.7 87.6h1.0v1.0h-1.0zM114.8 80.0h1.0v1.0h-1.0zM121.7 87.4h1.0v1.0h-1.0zM110.5 85.4h1.0v1.0h-1.0zM122.3 94.0h1.0v1.0h-1.0zM113.7 83.6h1.0v1.0h-1.0zM105.6 85.4h1.0v1.0h-1.0zM121.2 90.4h1.0v1.0h-1.0zM97.2 82.3h1.0v1.0h-1.0zM103.7 89.7h1.0v1.0h-1.0zM96.9 78.4h1.0v1.0h-1.0zM106.4 83.2h1.0v1.0h-1.0zM121.9 85.5h1.0v1.0h-1.0zM106.2 82.9h1.0v1.0h-1.0zM124.3 81.5h1.0v1.0h-1.0zM107.6 82.8h1.0v1.0h-1.0zM108.0 86.8h1.0v1.0h-1.0zM117.3 89.7h1.0v1.0h-1.0zM131.5 87.5h1.0v1.0h-1.0zM113.0 82.0h1.0v1.0h-1.0zM107.6 79.7h1.0v1.0h-1.0zM112.3 90.1h1.0v1.0h-1.0zM112.7 77.8h1.0v1.0h-1.0zM104.1 81.9h1.0v1.0h-1.0zM100.2 87.5h1.0v1.0h-1.0zM114.8 86.1h1.0v1.0h-1.0zM109.0 81.3h1.0v1.0h-1.0zM121.5 79.4h1.0v1.0h-1.0zM115.3 86.0h1.0v1.0h-1.0zM116.8 86.4h1.0v1.0h-1.0zM110.6 90.5h1.0v1.0h-1.0zM122.6 86.1h1.0v1.0h-1.0zM104.2 105.8h1.0v1.0h-1.0zM106.4 107.7h1.0v1.0h-1.0zM103.1 119.5h1.0v1.0h-1.0zM107.3 111.8h1.0v1.0h-1.0zM104.3 106.2h1.0v1.0h-1.0zM99.7 114.6h1.0v1.0h-1.0zM102.2 111.1h1.0v1.0h-1.0zM104.0 101.0h1.0v1.0h-1.0zM102.1 98.3h1.0v1.0h-1.0zM102.7 110.4h1.0v1.0h-1.0zM107.9 106.6h1.0v1.0h-1.0zM103.0 108.3h1.0v1.0h-1.0zM105.6 112.8h1.0v1.0h-1.0zM101.9 109.2h1.0v1.0h-1.0zM101.8 103.2h1.0v1.0h-1.0zM102.2 104.7h1.0v1.0h-1.0zM105.0 114.2h1.0v1.0h-1.0zM105.8 114.9h1.0v1.0h-1.0zM99.9 107.0h1.0v1.0h-1.0zM100.2 112.8h1.0v1.0h-1.0zM106.1 107.9h1.0v1.0h-1.0zM106.3 105.2h1.0v1.0h-1.0zM119.6 86.2h1.0v1.0h-1.0zM121.7 84.8h1.0v1.0h-1.0zM119.2 89.0h1.0v1.0h-1.0zM114.3 94.4h1.0v1.0h-1.0zM129.7 88.1h1.0v1.0h-1.0zM114.6 91.0h1.0v1.0h-1.0zM116.9 98.4h1.0v1.0h-1.0zM104.7 87.1h1.0v1.0h-1.0zM102.6 90.2h1.0v1.0h-1.0zM112.7 91.6h1.0v1.0h-1.0zM130.8 91.8h1.0v1.0h-1.0zM118.6 91.1h1.0v1.0h-1.0zM104.5 101.4h1.0v1.0h-1.0zM107.1 98.3h1.0v1.0h-1.0zM106.5 93.9h1.0v1.0h-1.0zM93.8 91.1h1.0v1.0h-1.0zM106.2 86.3h1.0v1.0h-1.0zM120.7 91.6h1.0v1.0h-1.0zM107.2 87.7h1.0v1.0h-1.0zM115.8 89.7h1.0v1.0h-1.0zM121.7 85.2h1.0v1.0h-1.0zM103.8 84.3h1.0v1.0h-1.0zM123.1 89.4h1.0v1.0h-1.0zM112.3 92.5h1.0v1.0h-1.0zM130.5 98.7h1.0v1.0h-1.0zM115.0 88.9h1.0v1.0h-1.0zM106.8 87.0h1.0v1.0h-1.0zM127.1 92.0h1.0v1.0h-1.0zM112.7 91.6h1.0v1.0h-1.0zM108.0 95.9h1.0v1.0h-1.0z" fill="#000" fill-opacity="0.41600000000000004"/>
<path d="M160.5 101.9h1.1v1.1h-1.1zM147.8 112.6h1.1v1.1h-1.1zM145.5 111.8h1.1v1.1h-1.1zM145.0 109.2h1.1v1.1h-1.1zM147.5 103.4h1.1v1.1h-1.1zM142.2 101.9h1.1v1.1h-1.1zM147.8 106.3h1.1v1.1h-1.1zM152.0 101.1h1.1v1.1h-1.1zM152.8 109.1h1.1v1.1h-1.1zM152.4 106.9h1.1v1.1h-1.1zM147.3 102.3h1.1v1.1h-1.1zM147.5 103.5h1.1v1.1h-1.1zM151.4 107.1h1.1v1.1h-1.1zM153.1 104.3h1.1v1.1h-1.1zM142.7 93.8h1.1v1.1h-1.1zM151.7 107.1h1.1v1.1h-1.1zM153.4 96.3h1.1v1.1h-1.1zM149.4 100.9h1.1v1.1h-1.1zM148.1 105.9h1.1v1.1h-1.1zM163.7 108.5h1.1v1.1h-1.1zM161.8 113.3h1.1v1.1h-1.1zM149.3 103.0h1.1v1.1h-1.1zM150.9 111.6h1.1v1.1h-1.1zM146.5 117.2h1.1v1.1h-1.1zM147.0 106.1h1.1v1.1h-1.1zM155.2 108.3h1.1v1.1h-1.1zM153.2 100.3h1.1v1.1h-1.1zM154.7 103.2h1.1v1.1h-1.1zM153.5 106.7h1.1v1.1h-1.1zM154.2 98.1h1.1v1.1h-1.1zM153.3 100.4h1.1v1.1h-1.1zM154.5 102.0h1.1v1.1h-1.1zM158.1 105.7h1.1v1.1h-1.1zM147.7 114.0h1.1v1.1h-1.1zM144.7 104.8h1.1v1.1h-1.1zM151.4 116.5h1.1v1.1h-1.1zM145.5 102.1h1.1v1.1h-1.1zM145.0 105.7h1.1v1.1h-1.1zM155.8 111.7h1.1v1.1h-1.1zM155.0 99.3h1.1v1.1h-1.1zM155.5 93.0h1.1v1.1h-1.1zM151.5 111.7h1.1v1.1h-1.1zM154.4 105.9h1.1v1.1h-1.1zM152.5 104.4h1.1v1.1h-1.1zM145.6 104.6h1.1v1.1h-1.1zM157.8 103.5h1.1v1.1h-1.1zM149.9 111.4h1.1v1.1h-1.1zM144.2 101.7h1.1v1.1h-1.1zM149.9 109.6h1.1v1.1h-1.1zM154.1 102.1h1.1v1.1h-1.1zM155.5 100.8h1.1v1.1h-1.1zM160.2 103.0h1.1v1.1h-1.1zM154.3 98.9h1.1v1.1h-1.1zM153.9 103.9h1.1v1.1h-1.1zM153.8 93.5h1.1v1.1h-1.1zM146.0 110.3h1.1v1.1h-1.1zM153.3 110.1h1.1v1.1h-1.1zM157.3 95.9h1.1v1.1h-1.1zM145.5 102.7h1.1v1.1h-1.1zM146.8 111.7h1.1v1.1h-1.1zM145.7 109.9h1.1v1.1h-1.1zM156.5 105.3h1.1v1.1h-1.1zM148.8 105.2h1.1v1.1h-1.1zM154.0 109.6h1.1v1.1h-1.1zM150.4 104.1h1.1v1.1h-1.1zM155.4 98.8h1.1v1.1h-1.1zM146.4 102.7h1.1v1.1h-1.1zM141.3 103.9h1.1v1.1h-1.1zM150.3 100.0h1.1v1.1h-1.1zM146.3 107.3h1.1v1.1h-1.1zM161.2 100.5h1.1v1.1h-1.1zM151.7 111.4h1.1v1.1h-1.1zM151.6 109.2h1.1v1.1h-1.1zM159.7 99.4h1.1v1.1h-1.1zM169.8 104.3h1.1v1.1h-1.1zM172.7 102.6h1.1v1.1h-1.1zM159.7 106.8h1.1v1.1h-1.1zM163.4 101.2h1.1v1.1h-1.1zM163.1 98.3h1.1v1.1h-1.1zM158.7 105.3h1.1v1.1h-1.1zM162.4 107.1h1.1v1.1h-1.1zM165.3 103.8h1.1v1.1h-1.1zM179.2 93.8h1.1v1.1h-1.1zM157.4 104.3h1.1v1.1h-1.1zM180.7 107.8h1.1v1.1h-1.1zM164.9 105.1h1.1v1.1h-1.1zM166.2 96.7h1.1v1.1h-1.1zM166.9 101.9h1.1v1.1h-1.1zM171.8 111.2h1.1v1.1h-1.1zM166.8 102.6h1.1v1.1h-1.1zM161.4 96.5h1.1v1.1h-1.1zM167.6 99.0h1.1v1.1h-1.1z" fill="#000" fill-opacity="0.39"/>
<path d="M147.3 103.4h1.1v1.1h-1.1zM161.7 103.9h1.1v1.1h-1.1zM142.1 97.8h1.1v1.1h-1.1zM156.1 94.0h1.1v1.1h-1.1zM157.4 96.7h1.1v1.1h-1.1zM154.3 115.0h1.1v1.1h-1.1zM151.2 115.5h1.1v1.1h-1.1zM141.2 99.3h1.1v1.1h-1.1zM155.1 113.9h1.1v1.1h-1.1zM156.8 105.3h1.1v1.1h-1.1zM150.3 105.3h1.1v1.1h-1.1zM152.5 99.2h1.1v1.1h-1.1zM152.5 109.1h1.1v1.1h-1.1zM146.9 102.0h1.1v1.1h-1.1zM148.8 100.2h1.1v1.1h-1.1zM151.3 111.0h1.1v1.1h-1.1zM141.8 91.6h1.1v1.1h-1.1zM143.7 100.0h1.1v1.1h-1.1zM151.7 108.8h1.1v1.1h-1.1zM153.8 119.2h1.1v1.1h-1.1zM155.7 98.4h1.1v1.1h-1.1zM151.8 107.5h1.1v1.1h-1.1zM153.9 109.4h1.1v1.1h-1.1zM162.9 116.4h1.1v1.1h-1.1zM151.3 109.5h1.1v1.1h-1.1zM153.0 104.2h1.1v1.1h-1.1zM151.7 105.7h1.1v1.1h-1.1zM148.7 104.0h1.1v1.1h-1.1zM146.5 101.0h1.1v1.1h-1.1zM152.0 107.6h1.1v1.1h-1.1zM157.5 95.4h1.1v1.1h-1.1zM155.5 115.9h1.1v1.1h-1.1zM145.2 107.9h1.1v1.1h-1.1zM144.7 112.2h1.1v1.1h-1.1zM150.4 105.2h1.1v1.1h-1.1zM153.9 106.0h1.1v1.1h-1.1zM150.7 102.8h1.1v1.1h-1.1zM150.9 108.5h1.1v1.1h-1.1zM151.4 101.9h1.1v1.1h-1.1zM141.1 114.2h1.1v1.1h-1.1zM155.7 94.8h1.1v1.1h-1.1zM147.9 101.2h1.1v1.1h-1.1zM160.8 103.5h1.1v1.1h-1.1zM148.7 101.8h1.1v1.1h-1.1zM155.8 103.9h1.1v1.1h-1.1zM150.7 112.1h1.1v1.1h-1.1zM150.5 109.8h1.1v1.1h-1.1zM154.1 114.5h1.1v1.1h-1.1zM152.6 112.5h1.1v1.1h-1.1zM145.5 103.0h1.1v1.1h-1.1zM156.5 107.7h1.1v1.1h-1.1zM154.3 109.9h1.1v1.1h-1.1zM150.8 95.6h1.1v1.1h-1.1zM151.8 105.0h1.1v1.1h-1.1zM147.3 101.8h1.1v1.1h-1.1zM147.8 109.0h1.1v1.1h-1.1zM155.9 111.7h1.1v1.1h-1.1zM155.0 104.4h1.1v1.1h-1.1zM159.8 100.5h1.1v1.1h-1.1zM143.5 117.2h1.1v1.1h-1.1zM141.3 99.9h1.1v1.1h-1.1zM141.5 103.4h1.1v1.1h-1.1zM158.1 99.8h1.1v1.1h-1.1zM144.9 104.9h1.1v1.1h-1.1zM143.2 111.0h1.1v1.1h-1.1zM149.7 102.0h1.1v1.1h-1.1zM153.8 107.9h1.1v1.1h-1.1zM143.9 98.4h1.1v1.1h-1.1zM153.6 109.6h1.1v1.1h-1.1zM162.3 109.7h1.1v1.1h-1.1zM146.8 117.2h1.1v1.1h-1.1zM150.7 101.3h1.1v1.1h-1.1zM149.2 108.4h1.1v1.1h-1.1zM165.0 101.5h1.1v1.1h-1.1zM167.6 101.8h1.1v1.1h-1.1zM169.6 98.2h1.1v1.1h-1.1zM153.0 109.3h1.1v1.1h-1.1zM165.8 96.7h1.1v1.1h-1.1zM170.3 98.6h1.1v1.1h-1.1zM161.2 98.7h1.1v1.1h-1.1zM175.4 104.5h1.1v1.1h-1.1zM176.4 106.1h1.1v1.1h-1.1zM171.8 103.4h1.1v1.1h-1.1zM165.6 96.9h1.1v1.1h-1.1zM166.2 92.6h1.1v1.1h-1.1zM174.1 101.5h1.1v1.1h-1.1zM156.3 103.5h1.1v1.1h-1.1zM174.1 95.0h1.1v1.1h-1.1zM167.4 98.3h1.1v1.1h-1.1zM175.4 98.7h1.1v1.1h-1.1zM179.1 103.0h1.1v1.1h-1.1z" fill="#000" fill-opacity="0.39"/>
<path d="M165.2 111.5h1.1v1.1h-1.1zM147.6 102.4h1.1v1.1h-1.1zM153.0 100.9h1.1v1.1h-1.1zM161.5 108.4h1.1v1.1h-1.1zM146.6 93.3h1.1v1.1h-1.1zM155.1 103.6h1.1v1.1h-1.1zM153.0 99.0h1.1v1.1h-1.1zM156.5 100.6h1.1v1.1h-1.1zM146.8 111.3h1.1v1.1h-1.1zM157.6 110.7h1.1v1.1h-1.1zM167.8 109.3h1.1v1.1h-1.1zM160.3 102.1h1.1v1.1h-1.1zM153.0 106.4h1.1v1.1h-1.1zM161.6 115.8h1.1v1.1h-1.1zM148.4 106.6h1.1v1.1h-1.1zM161.2 98.0h1.1v1.1h-1.1zM154.3 106.6h1.1v1.1h-1.1zM155.3 108.7h1.1v1.1h-1.1zM151.1 104.6h1.1v1.1h-1.1zM159.2 96.1h1.1v1.1h-1.1zM146.7 107.1h1.1v1.1h-1.1zM149.9 98.0h1.1v1.1h-1.1zM154.1 100.9h1.1v1.1h-1.1zM162.4 109.9h1.1v1.1h-1.1zM140.3 119.3h1.1v1.1h-1.1zM150.8 100.5h1.1v1.1h-1.1zM154.8 99.1h1.1v1.1h-1.1zM155.5 114.8h1.1v1.1h-1.1zM150.9 109.5h1.1v1.1h-1.1zM150.8 99.3h1.1v1.1h-1.1zM150.5 105.5h1.1v1.1h-1.1zM149.2 108.1h1.1v1.1h-1.1zM157.8 112.0h1.1v1.1h-1.1zM161.8 110.0h1.1v1.1h-1.1zM155.3 104.6h1.1v1.1h-1.1zM150.3 101.7h1.1v1.1h-1.1zM157.4 98.5h1.1v1.1h-1.1zM149.0 107.3h1.1v1.1h-1.1zM157.4 92.9h1.1v1.1h-1.1zM152.3 100.1h1.1v1.1h-1.1zM157.7 107.8h1.1v1.1h-1.1zM149.4 105.0h1.1v1.1h-1.1zM158.6 102.2h1.1v1.1h-1.1zM149.5 101.1h1.1v1.1h-1.1zM148.7 113.6h1.1v1.1h-1.1zM148.4 104.7h1.1v1.1h-1.1zM157.3 109.4h1.1v1.1h-1.1zM144.7 107.3h1.1v1.1h-1.1zM146.0 110.8h1.1v1.1h-1.1zM148.8 115.4h1.1v1.1h-1.1zM143.1 109.1h1.1v1.1h-1.1zM146.5 112.6h1.1v1.1h-1.1zM151.8 98.6h1.1v1.1h-1.1zM152.2 97.5h1.1v1.1h-1.1zM145.6 107.4h1.1v1.1h-1.1zM153.9 94.1h1.1v1.1h-1.1zM149.4 104.2h1.1v1.1h-1.1zM140.6 111.3h1.1v1.1h-1.1zM144.9 104.7h1.1v1.1h-1.1zM148.5 98.9h1.1v1.1h-1.1zM157.6 103.9h1.1v1.1h-1.1zM153.7 110.1h1.1v1.1h-1.1zM158.6 89.0h1.1v1.1h-1.1zM152.8 109.0h1.1v1.1h-1.1zM148.5 114.1h1.1v1.1h-1.1zM144.5 105.6h1.1v1.1h-1.1zM151.6 102.6h1.1v1.1h-1.1zM152.3 105.8h1.1v1.1h-1.1zM161.1 113.0h1.1v1.1h-1.1zM144.3 108.5h1.1v1.1h-1.1zM153.3 100.8h1.1v1.1h-1.1zM147.4 116.9h1.1v1.1h-1.1zM174.0 99.7h1.1v1.1h-1.1zM178.1 107.0h1.1v1.1h-1.1zM163.7 96.5h1.1v1.1h-1.1zM153.2 103.8h1.1v1.1h-1.1zM172.6 112.3h1.1v1.1h-1.1zM176.0 96.5h1.1v1.1h-1.1zM157.5 99.9h1.1v1.1h-1.1zM164.8 101.8h1.1v1.1h-1.1zM161.4 105.0h1.1v1.1h-1.1zM165.8 105.4h1.1v1.1h-1.1zM179.3 101.8h1.1v1.1h-1.1zM171.7 96.6h1.1v1.1h-1.1zM169.7 100.8h1.1v1.1h-1.1zM164.2 98.0h1.1v1.1h-1.1zM167.2 100.6h1.1v1.1h-1.1zM173.2 101.5h1.1v1.1h-1.1zM164.7 95.7h1.1v1.1h-1.1zM178.6 97.2h1.1v1.1h-1.1zM158.8 103.1h1.1v1.1h-1.1z" fill="#000" fill-opacity="0.39"/>
<path d="M148.5 94.7h1.1v1.1h-1.1zM141.1 110.9h1.1v1.1h-1.1zM155.7 105.5h1.1v1.1h-1.1zM155.6 94.3h1.1v1.1h-1.1zM150.1 107.5h1.1v1.1h-1.1zM145.0 99.8h1.1v1.1h-1.1zM159.9 111.1h1.1v1.1h-1.1zM144.2 106.6h1.1v1.1h-1.1zM146.0 109.6h1.1v1.1h-1.1zM152.2 102.0h1.1v1.1h-1.1zM155.7 100.3h1.1v1.1h-1.1zM157.4 91.4h1.1v1.1h-1.1zM141.0 101.2h1.1v1.1h-1.1zM151.1 113.2h1.1v1.1h-1.1zM168.1 101.5h1.1v1.1h-1.1zM152.3 103.9h1.1v1.1h-1.1zM151.9 91.3h1.1v1.1h-1.1zM151.3 108.5h1.1v1.1h-1.1zM150.7 101.6h1.1v1.1h-1.1zM155.3 110.5h1.1v1.1h-1.1zM154.2 99.3h1.1v1.1h-1.1zM158.3 115.0h1.1v1.1h-1.1zM154.6 111.5h1.1v1.1h-1.1zM149.6 101.9h1.1v1.1h-1.1zM164.0 105.3h1.1v1.1h-1.1zM152.4 105.3h1.1v1.1h-1.1zM153.8 111.3h1.1v1.1h-1.1zM150.6 101.6h1.1v1.1h-1.1zM144.9 99.3h1.1v1.1h-1.1zM151.1 103.5h1.1v1.1h-1.1zM156.7 101.8h1.1v1.1h-1.1zM146.3 111.3h1.1v1.1h-1.1zM155.9 94.5h1.1v1.1h-1.1zM157.6 103.5h1.1v1.1h-1.1zM152.5 108.0h1.1v1.1h-1.1zM158.8 106.4h1.1v1.1h-1.1zM154.2 106.3h1.1v1.1h-1.1zM142.3 98.9h1.1v1.1h-1.1zM147.1 109.5h1.1v1.1h-1.1zM151.8 110.9h1.1v1.1h-1.1zM163.8 101.8h1.1v1.1h-1.1zM145.5 108.4h1.1v1.1h-1.1zM155.6 93.8h1.1v1.1h-1.1zM148.4 102.3h1.1v1.1h-1.1zM156.8 111.0h1.1v1.1h-1.1zM153.5 107.7h1.1v1.1h-1.1zM155.5 98.5h1.1v1.1h-1.1zM146.8 101.1h1.1v1.1h-1.1zM156.6 105.9h1.1v1.1h-1.1zM152.6 107.3h1.1v1.1h-1.1zM154.5 108.2h1.1v1.1h-1.1zM143.5 97.6h1.1v1.1h-1.1zM153.3 96.3h1.1v1.1h-1.1zM146.3 102.7h1.1v1.1h-1.1zM150.7 100.5h1.1v1.1h-1.1zM145.5 105.5h1.1v1.1h-1.1zM155.7 102.9h1.1v1.1h-1.1zM153.2 105.6h1.1v1.1h-1.1zM149.3 100.0h1.1v1.1h-1.1zM155.8 108.8h1.1v1.1h-1.1zM144.3 108.5h1.1v1.1h-1.1zM161.6 103.9h1.1v1.1h-1.1zM155.8 101.4h1.1v1.1h-1.1zM146.3 99.5h1.1v1.1h-1.1zM156.1 105.6h1.1v1.1h-1.1zM150.7 114.1h1.1v1.1h-1.1zM154.2 107.6h1.1v1.1h-1.1zM152.1 100.2h1.1v1.1h-1.1zM147.0 102.7h1.1v1.1h-1.1zM151.5 107.2h1.1v1.1h-1.1zM140.3 96.3h1.1v1.1h-1.1zM141.7 106.5h1.1v1.1h-1.1zM163.8 99.5h1.1v1.1h-1.1zM163.9 103.5h1.1v1.1h-1.1zM174.4 106.9h1.1v1.1h-1.1zM169.0 97.7h1.1v1.1h-1.1zM161.7 100.3h1.1v1.1h-1.1zM163.4 103.2h1.1v1.1h-1.1zM165.7 109.0h1.1v1.1h-1.1zM174.4 109.2h1.1v1.1h-1.1zM166.6 102.2h1.1v1.1h-1.1zM179.1 95.8h1.1v1.1h-1.1zM163.6 96.5h1.1v1.1h-1.1zM164.0 98.2h1.1v1.1h-1.1zM170.2 103.3h1.1v1.1h-1.1zM173.0 95.0h1.1v1.1h-1.1zM174.4 93.0h1.1v1.1h-1.1zM178.3 106.1h1.1v1.1h-1.1zM167.2 91.1h1.1v1.1h-1.1zM166.4 91.1h1.1v1.1h-1.1zM171.2 99.3h1.1v1.1h-1.1z" fill="#000" fill-opacity="0.39"/>
<path d="M159.6 105.9h1.2v1.2h-1.2zM154.3 100.1h1.2v1.2h-1.2zM147.8 97.9h1.2v1.2h-1.2zM147.1 98.6h1.2v1.2h-1.2zM155.1 100.2h1.2v1.2h-1.2zM156.8 101.7h1.2v1.2h-1.2zM143.8 96.8h1.2v1.2h-1.2zM154.6 100.6h1.2v1.2h-1.2zM158.9 108.3h1.2v1.2h-1.2zM157.0 101.0h1.2v1.2h-1.2zM152.6 98.5h1.2v1.2h-1.2zM158.2 103.5h1.2v1.2h-1.2zM160.2 109.6h1.2v1.2h-1.2zM144.0 98.7h1.2v1.2h-1.2zM147.8 99.2h1.2v1.2h-1.2zM151.0 98.5h1.2v1.2h-1.2zM160.8 109.0h1.2v1.2h-1.2zM159.8 108.4h1.2v1.2h-1.2zM157.7 110.6h1.2v1.2h-1.2zM160.4 106.9h1.2v1.2h-1.2zM149.0 98.8h1.2v1.2h-1.2zM156.2 101.2h1.2v1.2h-1.2zM159.7 109.0h1.2v1.2h-1.2z" fill="#000" fill-opacity="0.7150000000000001"/>
<path d="M159.1 102.7h1.2v1.2h-1.2zM159.3 106.0h1.2v1.2h-1.2zM158.3 109.1h1.2v1.2h-1.2zM151.0 98.7h1.2v1.2h-1.2zM143.9 97.8h1.2v1.2h-1.2zM143.5 97.5h1.2v1.2h-1.2zM153.6 100.0h1.2v1.2h-1.2zM153.4 100.0h1.2v1.2h-1.2zM157.5 113.5h1.2v1.2h-1.2zM143.8 98.0h1.2v1.2h-1.2zM155.9 101.3h1.2v1.2h-1.2zM145.8 98.5h1.2v1.2h-1.2zM158.7 104.9h1.2v1.2h-1.2zM157.5 101.6h1.2v1.2h-1.2zM159.2 103.7h1.2v1.2h-1.2zM157.6 102.1h1.2v1.2h-1.2zM160.4 107.5h1.2v1.2h-1.2zM156.0 100.2h1.2v1.2h-1.2zM159.4 111.9h1.2v1.2h-1.2zM144.1 97.7h1.2v1.2h-1.2zM158.8 103.7h1.2v1.2h-1.2zM157.8 101.7h1.2v1.2h-1.2zM159.0 108.9h1.2v1.2h-1.2z" fill="#000" fill-opacity="0.7150000000000001"/>
<path d="M158.2 103.0h1.2v1.2h-1.2zM156.6 102.8h1.2v1.2h-1.2zM148.9 97.6h1.2v1.2h-1.2zM150.1 97.8h1.2v1.2h-1.2zM145.7 96.3h1.2v1.2h-1.2zM159.9 104.2h1.2v1.2h-1.2zM159.5 110.1h1.2v1.2h-1.2zM155.4 99.7h1.2v1.2h-1.2zM148.6 99.0h1.2v1.2h-1.2zM160.6 106.9h1.2v1.2h-1.2zM159.9 104.3h1.2v1.2h-1.2zM158.8 113.7h1.2v1.2h-1.2zM157.2 113.8h1.2v1.2h-1.2zM154.7 99.8h1.2v1.2h-1.2zM152.7 99.3h1.2v1.2h-1.2zM156.6 100.9h1.2v1.2h-1.2zM156.4 101.7h1.2v1.2h-1.2zM150.5 99.4h1.2v1.2h-1.2zM154.6 98.8h1.2v1.2h-1.2zM158.4 102.6h1.2v1.2h-1.2zM147.2 97.7h1.2v1.2h-1.2zM158.7 113.7h1.2v1.2h-1.2z" fill="#000" fill-opacity="0.7150000000000001"/>
<path d="M154.5 100.1h1.2v1.2h-1.2zM154.4 101.0h1.2v1.2h-1.2zM157.1 100.2h1.2v1.2h-1.2zM146.9 98.6h1.2v1.2h-1.2zM159.0 103.7h1.2v1.2h-1.2zM152.0 99.1h1.2v1.2h-1.2zM159.9 107.6h1.2v1.2h-1.2zM143.5 97.5h1.2v1.2h-1.2zM145.8 97.6h1.2v1.2h-1.2zM159.2 110.0h1.2v1.2h-1.2zM148.9 98.9h1.2v1.2h-1.2zM158.6 114.3h1.2v1.2h-1.2zM152.7 100.3h1.2v1.2h-1.2zM157.5 102.3h1.2v1.2h-1.2zM151.2 98.9h1.2v1.2h-1.2zM158.1 110.5h1.2v1.2h-1.2zM158.5 102.9h1.2v1.2h-1.2zM157.0 100.3h1.2v1.2h-1.2zM159.7 110.1h1.2v1.2h-1.2zM158.2 112.4h1.2v1.2h-1.2zM158.1 103.9h1.2v1.2h-1.2zM147.4 98.2h1.2v1.2h-1.2z" fill="#000" fill-opacity="0.7150000000000001"/>
<g transform="translate(95,0)"><path d="M99.5,86.5 C106,83 118,82 133,82 C126,84.5 118,87 110,93 C105,97 102,101 100.5,106 C99.5,99 99,92 99.5,86.5 Z" fill="#cfcfcf" fill-opacity="0.65"/><path d="M100.5,111 C101.5,104 104,98 110,93 C116,88 124,85.5 133,83" fill="none" stroke="#222" stroke-width="1.5"/><path d="M99.5,87 C107,83.5 118,82.5 133,82" fill="none" stroke="#555" stroke-width="1.2"/><path d="M101,106 L100.5,118" fill="none" stroke="#777" stroke-width="1.6"/><path d="M101,90 C108,87 114,86 120,85" fill="none" stroke="#777" stroke-width="1"/><ellipse cx="122" cy="85" rx="3.5" ry="1.6" fill="#000"/></g>
<path d="M203.3 85.8h1.0v1.0h-1.0zM212.5 92.1h1.0v1.0h-1.0zM202.1 87.4h1.0v1.0h-1.0zM205.1 83.3h1.0v1.0h-1.0zM194.2 83.5h1.0v1.0h-1.0zM213.6 79.3h1.0v1.0h-1.0zM203.0 83.3h1.0v1.0h-1.0zM199.9 85.9h1.0v1.0h-1.0zM199.1 86.5h1.0v1.0h-1.0zM206.8 81.5h1.0v1.0h-1.0zM198.8 89.8h1.0v1.0h-1.0zM208.4 86.2h1.0v1.0h-1.0zM194.1 81.6h1.0v1.0h-1.0zM205.9 87.0h1.0v1.0h-1.0zM201.6 90.2h1.0v1.0h-1.0zM220.6 86.8h1.0v1.0h-1.0zM218.8 83.6h1.0v1.0h-1.0zM211.3 87.0h1.0v1.0h-1.0zM196.1 83.9h1.0v1.0h-1.0zM209.8 82.8h1.0v1.0h-1.0zM209.8 82.5h1.0v1.0h-1.0zM218.4 86.9h1.0v1.0h-1.0zM206.9 78.3h1.0v1.0h-1.0zM203.1 83.3h1.0v1.0h-1.0zM220.4 87.3h1.0v1.0h-1.0zM220.4 84.0h1.0v1.0h-1.0zM209.2 80.9h1.0v1.0h-1.0zM213.3 83.7h1.0v1.0h-1.0zM215.7 89.6h1.0v1.0h-1.0zM198.5 89.8h1.0v1.0h-1.0zM227.1 91.1h1.0v1.0h-1.0zM206.9 84.2h1.0v1.0h-1.0zM210.0 91.1h1.0v1.0h-1.0zM201.0 91.5h1.0v1.0h-1.0zM217.3 89.7h1.0v1.0h-1.0zM213.6 93.7h1.0v1.0h-1.0zM218.8 86.5h1.0v1.0h-1.0zM197.6 84.4h1.0v1.0h-1.0zM204.3 86.5h1.0v1.0h-1.0zM203.7 87.2h1.0v1.0h-1.0zM205.8 82.8h1.0v1.0h-1.0zM215.0 82.5h1.0v1.0h-1.0zM196.3 84.8h1.0v1.0h-1.0zM206.7 92.5h1.0v1.0h-1.0zM218.4 83.8h1.0v1.0h-1.0zM196.0 86.6h1.0v1.0h-1.0zM210.4 84.0h1.0v1.0h-1.0zM204.8 85.9h1.0v1.0h-1.0zM204.8 82.7h1.0v1.0h-1.0zM212.1 89.5h1.0v1.0h-1.0zM210.5 84.3h1.0v1.0h-1.0zM206.6 86.2h1.0v1.0h-1.0zM211.6 82.7h1.0v1.0h-1.0zM199.2 88.9h1.0v1.0h-1.0zM220.8 82.4h1.0v1.0h-1.0zM189.8 86.6h1.0v1.0h-1.0zM206.4 86.0h1.0v1.0h-1.0zM223.2 88.2h1.0v1.0h-1.0zM197.8 101.9h1.0v1.0h-1.0zM199.5 105.5h1.0v1.0h-1.0zM197.8 111.0h1.0v1.0h-1.0zM201.5 100.8h1.0v1.0h-1.0zM195.7 108.8h1.0v1.0h-1.0zM200.6 108.9h1.0v1.0h-1.0zM197.5 115.1h1.0v1.0h-1.0zM201.0 109.4h1.0v1.0h-1.0zM201.3 104.5h1.0v1.0h-1.0zM199.2 105.1h1.0v1.0h-1.0zM195.3 111.2h1.0v1.0h-1.0zM203.1 110.0h1.0v1.0h-1.0zM200.4 105.2h1.0v1.0h-1.0zM195.9 112.4h1.0v1.0h-1.0zM198.0 105.3h1.0v1.0h-1.0zM197.9 112.0h1.0v1.0h-1.0zM196.0 103.9h1.0v1.0h-1.0zM199.1 106.9h1.0v1.0h-1.0zM197.1 112.2h1.0v1.0h-1.0zM197.5 106.7h1.0v1.0h-1.0zM201.5 111.6h1.0v1.0h-1.0zM201.4 117.9h1.0v1.0h-1.0zM213.4 90.1h1.0v1.0h-1.0zM202.9 91.3h1.0v1.0h-1.0zM193.7 91.4h1.0v1.0h-1.0zM212.2 98.1h1.0v1.0h-1.0zM213.1 90.4h1.0v1.0h-1.0zM210.8 96.9h1.0v1.0h-1.0zM213.8 87.4h1.0v1.0h-1.0zM210.9 98.0h1.0v1.0h-1.0zM199.8 101.0h1.0v1.0h-1.0zM210.6 85.8h1.0v1.0h-1.0zM207.7 93.4h1.0v1.0h-1.0zM221.4 87.8h1.0v1.0h-1.0zM215.1 89.1h1.0v1.0h-1.0zM210.3 99.1h1.0v1.0h-1.0zM205.5 85.7h1.0v1.0h-1.0zM207.7 92.4h1.0v1.0h-1.0zM219.8 91.6h1.0v1.0h-1.0zM207.7 93.9h1.0v1.0h-1.0zM207.9 87.4h1.0v1.0h-1.0zM213.1 94.4h1.0v1.0h-1.0zM203.1 94.4h1.0v1.0h-1.0zM210.3 91.5h1.0v1.0h-1.0zM218.7 94.5h1.0v1.0h-1.0zM220.4 94.1h1.0v1.0h-1.0zM198.6 90.7h1.0v1.0h-1.0zM206.4 86.8h1.0v1.0h-1.0zM208.5 93.4h1.0v1.0h-1.0zM200.2 95.7h1.0v1.0h-1.0zM222.0 90.7h1.0v1.0h-1.0zM209.7 93.8h1.0v1.0h-1.0z" fill="#000" fill-opacity="0.41600000000000004"/>
<path d="M213.6 82.9h1.0v1.0h-1.0zM206.2 85.0h1.0v1.0h-1.0zM220.3 85.7h1.0v1.0h-1.0zM207.0 89.2h1.0v1.0h-1.0zM219.3 81.5h1.0v1.0h-1.0zM221.1 83.7h1.0v1.0h-1.0zM199.8 84.5h1.0v1.0h-1.0zM208.8 87.8h1.0v1.0h-1.0zM201.6 84.4h1.0v1.0h-1.0zM216.1 84.4h1.0v1.0h-1.0zM192.2 88.3h1.0v1.0h-1.0zM212.1 87.7h1.0v1.0h-1.0zM204.9 83.8h1.0v1.0h-1.0zM212.7 89.2h1.0v1.0h-1.0zM203.1 82.9h1.0v1.0h-1.0zM203.2 88.7h1.0v1.0h-1.0zM211.5 85.4h1.0v1.0h-1.0zM208.9 84.1h1.0v1.0h-1.0zM202.0 83.8h1.0v1.0h-1.0zM201.5 86.2h1.0v1.0h-1.0zM215.0 85.3h1.0v1.0h-1.0zM203.1 84.8h1.0v1.0h-1.0zM209.6 86.2h1.0v1.0h-1.0zM211.6 82.1h1.0v1.0h-1.0zM193.8 89.2h1.0v1.0h-1.0zM209.6 87.9h1.0v1.0h-1.0zM199.8 95.3h1.0v1.0h-1.0zM208.7 79.5h1.0v1.0h-1.0zM200.4 83.5h1.0v1.0h-1.0zM212.2 84.0h1.0v1.0h-1.0zM228.3 85.9h1.0v1.0h-1.0zM197.8 91.6h1.0v1.0h-1.0zM207.6 84.7h1.0v1.0h-1.0zM216.1 88.0h1.0v1.0h-1.0zM204.1 85.5h1.0v1.0h-1.0zM219.3 82.0h1.0v1.0h-1.0zM198.9 87.7h1.0v1.0h-1.0zM218.6 81.9h1.0v1.0h-1.0zM209.4 85.5h1.0v1.0h-1.0zM209.9 87.0h1.0v1.0h-1.0zM201.6 82.3h1.0v1.0h-1.0zM209.7 90.0h1.0v1.0h-1.0zM205.0 83.0h1.0v1.0h-1.0zM194.3 86.4h1.0v1.0h-1.0zM197.6 84.9h1.0v1.0h-1.0zM217.4 79.5h1.0v1.0h-1.0zM212.4 87.5h1.0v1.0h-1.0zM205.2 82.2h1.0v1.0h-1.0zM201.9 85.2h1.0v1.0h-1.0zM213.8 86.2h1.0v1.0h-1.0zM196.8 80.7h1.0v1.0h-1.0zM200.4 86.6h1.0v1.0h-1.0zM199.6 88.3h1.0v1.0h-1.0zM206.8 86.6h1.0v1.0h-1.0zM220.4 86.2h1.0v1.0h-1.0zM198.8 86.9h1.0v1.0h-1.0zM203.6 81.8h1.0v1.0h-1.0zM199.4 108.8h1.0v1.0h-1.0zM202.1 110.1h1.0v1.0h-1.0zM197.0 112.7h1.0v1.0h-1.0zM200.5 102.6h1.0v1.0h-1.0zM199.7 104.5h1.0v1.0h-1.0zM196.4 105.1h1.0v1.0h-1.0zM196.0 106.4h1.0v1.0h-1.0zM199.6 101.2h1.0v1.0h-1.0zM198.0 106.3h1.0v1.0h-1.0zM199.4 101.9h1.0v1.0h-1.0zM200.0 105.8h1.0v1.0h-1.0zM198.2 118.4h1.0v1.0h-1.0zM198.0 111.0h1.0v1.0h-1.0zM199.3 105.1h1.0v1.0h-1.0zM199.0 113.7h1.0v1.0h-1.0zM199.1 105.3h1.0v1.0h-1.0zM198.5 101.6h1.0v1.0h-1.0zM199.7 108.9h1.0v1.0h-1.0zM193.2 99.9h1.0v1.0h-1.0zM198.6 115.7h1.0v1.0h-1.0zM194.3 104.7h1.0v1.0h-1.0zM200.7 112.3h1.0v1.0h-1.0zM196.1 115.9h1.0v1.0h-1.0zM200.6 91.6h1.0v1.0h-1.0zM213.1 95.4h1.0v1.0h-1.0zM229.6 92.4h1.0v1.0h-1.0zM214.1 94.1h1.0v1.0h-1.0zM205.4 90.1h1.0v1.0h-1.0zM212.8 91.4h1.0v1.0h-1.0zM211.5 91.2h1.0v1.0h-1.0zM208.5 89.4h1.0v1.0h-1.0zM224.7 91.4h1.0v1.0h-1.0zM214.0 96.8h1.0v1.0h-1.0zM222.2 90.2h1.0v1.0h-1.0zM217.6 85.2h1.0v1.0h-1.0zM220.1 90.3h1.0v1.0h-1.0zM211.1 94.1h1.0v1.0h-1.0zM199.6 95.9h1.0v1.0h-1.0zM201.7 85.3h1.0v1.0h-1.0zM214.4 91.7h1.0v1.0h-1.0zM201.1 97.6h1.0v1.0h-1.0zM202.8 85.3h1.0v1.0h-1.0zM217.8 90.5h1.0v1.0h-1.0zM219.6 90.2h1.0v1.0h-1.0zM219.2 100.1h1.0v1.0h-1.0zM216.7 87.8h1.0v1.0h-1.0zM191.6 95.0h1.0v1.0h-1.0zM218.3 88.9h1.0v1.0h-1.0zM197.9 93.7h1.0v1.0h-1.0zM226.6 89.0h1.0v1.0h-1.0zM206.4 89.0h1.0v1.0h-1.0zM214.6 85.8h1.0v1.0h-1.0zM197.2 88.1h1.0v1.0h-1.0z" fill="#000" fill-opacity="0.41600000000000004"/>
<path d="M217.1 82.4h1.0v1.0h-1.0zM212.6 88.2h1.0v1.0h-1.0zM207.6 86.1h1.0v1.0h-1.0zM207.6 89.6h1.0v1.0h-1.0zM199.9 82.1h1.0v1.0h-1.0zM203.4 90.6h1.0v1.0h-1.0zM216.1 86.6h1.0v1.0h-1.0zM205.7 86.9h1.0v1.0h-1.0zM210.1 86.5h1.0v1.0h-1.0zM219.0 83.5h1.0v1.0h-1.0zM217.9 87.0h1.0v1.0h-1.0zM206.7 83.3h1.0v1.0h-1.0zM205.6 84.7h1.0v1.0h-1.0zM217.6 82.3h1.0v1.0h-1.0zM205.0 82.9h1.0v1.0h-1.0zM202.8 84.1h1.0v1.0h-1.0zM197.6 82.1h1.0v1.0h-1.0zM212.2 82.4h1.0v1.0h-1.0zM208.1 83.0h1.0v1.0h-1.0zM209.3 85.8h1.0v1.0h-1.0zM208.7 84.1h1.0v1.0h-1.0zM216.5 84.4h1.0v1.0h-1.0zM209.7 83.2h1.0v1.0h-1.0zM199.8 91.7h1.0v1.0h-1.0zM219.3 87.0h1.0v1.0h-1.0zM207.8 88.9h1.0v1.0h-1.0zM210.9 89.6h1.0v1.0h-1.0zM206.9 88.3h1.0v1.0h-1.0zM192.1 82.3h1.0v1.0h-1.0zM227.7 77.7h1.0v1.0h-1.0zM217.1 89.7h1.0v1.0h-1.0zM204.6 79.0h1.0v1.0h-1.0zM202.0 85.4h1.0v1.0h-1.0zM214.8 88.1h1.0v1.0h-1.0zM202.1 88.5h1.0v1.0h-1.0zM207.7 87.5h1.0v1.0h-1.0zM207.6 85.9h1.0v1.0h-1.0zM202.1 87.2h1.0v1.0h-1.0zM192.5 80.9h1.0v1.0h-1.0zM217.2 80.8h1.0v1.0h-1.0zM198.9 93.3h1.0v1.0h-1.0zM208.1 82.4h1.0v1.0h-1.0zM200.7 82.6h1.0v1.0h-1.0zM198.4 85.0h1.0v1.0h-1.0zM211.1 83.3h1.0v1.0h-1.0zM210.3 84.8h1.0v1.0h-1.0zM215.2 87.3h1.0v1.0h-1.0zM192.5 86.3h1.0v1.0h-1.0zM202.9 87.6h1.0v1.0h-1.0zM207.1 83.0h1.0v1.0h-1.0zM211.3 88.7h1.0v1.0h-1.0zM206.7 82.9h1.0v1.0h-1.0zM213.7 84.6h1.0v1.0h-1.0zM208.8 82.4h1.0v1.0h-1.0zM198.8 86.3h1.0v1.0h-1.0zM191.8 85.1h1.0v1.0h-1.0zM210.4 80.1h1.0v1.0h-1.0zM198.6 101.1h1.0v1.0h-1.0zM195.6 110.8h1.0v1.0h-1.0zM206.0 108.1h1.0v1.0h-1.0zM195.9 107.1h1.0v1.0h-1.0zM198.7 109.1h1.0v1.0h-1.0zM199.0 104.3h1.0v1.0h-1.0zM196.5 105.7h1.0v1.0h-1.0zM192.9 110.8h1.0v1.0h-1.0zM199.1 106.0h1.0v1.0h-1.0zM196.8 100.8h1.0v1.0h-1.0zM199.4 108.8h1.0v1.0h-1.0zM197.9 104.8h1.0v1.0h-1.0zM196.6 105.3h1.0v1.0h-1.0zM200.6 94.2h1.0v1.0h-1.0zM200.8 110.6h1.0v1.0h-1.0zM205.9 99.8h1.0v1.0h-1.0zM199.5 106.6h1.0v1.0h-1.0zM197.8 118.0h1.0v1.0h-1.0zM195.1 117.5h1.0v1.0h-1.0zM200.4 115.4h1.0v1.0h-1.0zM196.2 104.4h1.0v1.0h-1.0zM197.0 111.4h1.0v1.0h-1.0zM200.5 103.4h1.0v1.0h-1.0zM217.1 94.5h1.0v1.0h-1.0zM211.7 93.5h1.0v1.0h-1.0zM196.4 92.0h1.0v1.0h-1.0zM218.3 92.3h1.0v1.0h-1.0zM198.9 87.6h1.0v1.0h-1.0zM201.5 87.3h1.0v1.0h-1.0zM218.2 90.0h1.0v1.0h-1.0zM208.0 93.3h1.0v1.0h-1.0zM201.2 92.1h1.0v1.0h-1.0zM218.5 85.7h1.0v1.0h-1.0zM210.4 89.3h1.0v1.0h-1.0zM203.3 89.2h1.0v1.0h-1.0zM214.2 90.8h1.0v1.0h-1.0zM204.8 92.3h1.0v1.0h-1.0zM213.8 85.7h1.0v1.0h-1.0zM204.8 96.0h1.0v1.0h-1.0zM213.7 87.6h1.0v1.0h-1.0zM205.6 89.2h1.0v1.0h-1.0zM219.3 95.7h1.0v1.0h-1.0zM213.2 99.8h1.0v1.0h-1.0zM215.7 91.3h1.0v1.0h-1.0zM196.5 93.6h1.0v1.0h-1.0zM197.4 97.9h1.0v1.0h-1.0zM202.9 96.0h1.0v1.0h-1.0zM196.2 99.8h1.0v1.0h-1.0zM220.5 87.4h1.0v1.0h-1.0zM217.1 95.7h1.0v1.0h-1.0zM211.0 88.2h1.0v1.0h-1.0zM195.5 98.5h1.0v1.0h-1.0zM212.5 87.9h1.0v1.0h-1.0z" fill="#000" fill-opacity="0.41600000000000004"/>
<path d="M215.6 86.8h1.0v1.0h-1.0zM196.9 86.3h1.0v1.0h-1.0zM213.3 86.0h1.0v1.0h-1.0zM210.9 85.5h1.0v1.0h-1.0zM203.7 87.5h1.0v1.0h-1.0zM207.8 81.7h1.0v1.0h-1.0zM196.6 94.1h1.0v1.0h-1.0zM226.7 85.8h1.0v1.0h-1.0zM206.0 88.1h1.0v1.0h-1.0zM213.4 86.5h1.0v1.0h-1.0zM214.3 84.0h1.0v1.0h-1.0zM203.6 86.8h1.0v1.0h-1.0zM215.2 79.4h1.0v1.0h-1.0zM214.0 84.5h1.0v1.0h-1.0zM217.2 86.7h1.0v1.0h-1.0zM207.0 85.6h1.0v1.0h-1.0zM206.6 86.7h1.0v1.0h-1.0zM196.9 84.5h1.0v1.0h-1.0zM204.8 80.2h1.0v1.0h-1.0zM195.5 86.2h1.0v1.0h-1.0zM213.3 85.8h1.0v1.0h-1.0zM211.8 87.1h1.0v1.0h-1.0zM219.0 85.1h1.0v1.0h-1.0zM219.9 88.8h1.0v1.0h-1.0zM191.5 89.3h1.0v1.0h-1.0zM209.2 87.6h1.0v1.0h-1.0zM218.4 90.8h1.0v1.0h-1.0zM189.6 86.1h1.0v1.0h-1.0zM213.2 91.9h1.0v1.0h-1.0zM207.9 86.2h1.0v1.0h-1.0zM213.0 86.6h1.0v1.0h-1.0zM210.8 85.4h1.0v1.0h-1.0zM204.7 86.1h1.0v1.0h-1.0zM214.4 89.9h1.0v1.0h-1.0zM215.8 84.0h1.0v1.0h-1.0zM208.2 86.7h1.0v1.0h-1.0zM203.5 81.2h1.0v1.0h-1.0zM201.8 87.6h1.0v1.0h-1.0zM208.1 89.9h1.0v1.0h-1.0zM210.9 84.9h1.0v1.0h-1.0zM223.4 85.5h1.0v1.0h-1.0zM206.4 82.4h1.0v1.0h-1.0zM210.6 89.8h1.0v1.0h-1.0zM209.4 87.2h1.0v1.0h-1.0zM216.3 90.8h1.0v1.0h-1.0zM196.0 89.6h1.0v1.0h-1.0zM212.1 81.8h1.0v1.0h-1.0zM208.8 83.7h1.0v1.0h-1.0zM207.2 85.9h1.0v1.0h-1.0zM205.5 87.6h1.0v1.0h-1.0zM211.8 81.2h1.0v1.0h-1.0zM197.6 88.0h1.0v1.0h-1.0zM222.5 84.6h1.0v1.0h-1.0zM198.1 84.9h1.0v1.0h-1.0zM213.5 82.7h1.0v1.0h-1.0zM201.4 80.9h1.0v1.0h-1.0zM213.2 87.0h1.0v1.0h-1.0zM202.1 110.1h1.0v1.0h-1.0zM203.1 107.4h1.0v1.0h-1.0zM198.2 111.4h1.0v1.0h-1.0zM200.5 108.8h1.0v1.0h-1.0zM196.1 106.4h1.0v1.0h-1.0zM201.3 104.4h1.0v1.0h-1.0zM197.8 116.3h1.0v1.0h-1.0zM193.7 111.0h1.0v1.0h-1.0zM197.2 105.7h1.0v1.0h-1.0zM198.0 110.8h1.0v1.0h-1.0zM199.8 95.5h1.0v1.0h-1.0zM202.1 110.2h1.0v1.0h-1.0zM197.2 106.4h1.0v1.0h-1.0zM198.0 108.3h1.0v1.0h-1.0zM198.1 102.2h1.0v1.0h-1.0zM201.3 105.2h1.0v1.0h-1.0zM193.5 108.5h1.0v1.0h-1.0zM199.5 104.5h1.0v1.0h-1.0zM198.1 106.2h1.0v1.0h-1.0zM198.2 109.3h1.0v1.0h-1.0zM201.4 108.8h1.0v1.0h-1.0zM197.7 104.9h1.0v1.0h-1.0zM212.6 92.9h1.0v1.0h-1.0zM215.6 95.7h1.0v1.0h-1.0zM211.5 99.6h1.0v1.0h-1.0zM199.5 88.9h1.0v1.0h-1.0zM203.9 91.1h1.0v1.0h-1.0zM209.8 90.1h1.0v1.0h-1.0zM213.4 88.1h1.0v1.0h-1.0zM207.6 92.4h1.0v1.0h-1.0zM212.3 94.2h1.0v1.0h-1.0zM213.7 82.9h1.0v1.0h-1.0zM221.1 95.0h1.0v1.0h-1.0zM219.4 83.2h1.0v1.0h-1.0zM216.9 85.3h1.0v1.0h-1.0zM224.3 90.1h1.0v1.0h-1.0zM193.0 91.9h1.0v1.0h-1.0zM224.5 88.8h1.0v1.0h-1.0zM217.8 85.4h1.0v1.0h-1.0zM203.5 88.8h1.0v1.0h-1.0zM215.9 93.2h1.0v1.0h-1.0zM224.9 93.4h1.0v1.0h-1.0zM197.5 86.1h1.0v1.0h-1.0zM212.8 89.4h1.0v1.0h-1.0zM210.5 95.2h1.0v1.0h-1.0zM219.8 87.8h1.0v1.0h-1.0zM205.3 88.6h1.0v1.0h-1.0zM224.7 94.2h1.0v1.0h-1.0zM210.5 90.4h1.0v1.0h-1.0zM208.3 90.9h1.0v1.0h-1.0zM202.5 90.4h1.0v1.0h-1.0zM207.4 85.6h1.0v1.0h-1.0z" fill="#000" fill-opacity="0.41600000000000004"/>
<path d="M58.3 161.0h1.1v1.1h-1.1zM53.0 161.1h1.1v1.1h-1.1zM52.1 161.3h1.1v1.1h-1.1zM48.8 147.5h1.1v1.1h-1.1zM54.5 150.6h1.1v1.1h-1.1zM54.6 153.7h1.1v1.1h-1.1zM60.2 158.7h1.1v1.1h-1.1zM55.2 149.5h1.1v1.1h-1.1zM58.4 166.6h1.1v1.1h-1.1zM59.2 157.9h1.1v1.1h-1.1zM56.7 144.3h1.1v1.1h-1.1zM54.0 144.3h1.1v1.1h-1.1zM54.2 157.7h1.1v1.1h-1.1zM48.4 140.9h1.1v1.1h-1.1zM61.5 155.6h1.1v1.1h-1.1zM57.2 158.2h1.1v1.1h-1.1zM56.9 166.5h1.1v1.1h-1.1zM52.8 156.4h1.1v1.1h-1.1zM55.9 167.4h1.1v1.1h-1.1zM51.8 155.9h1.1v1.1h-1.1zM51.1 158.3h1.1v1.1h-1.1zM55.7 159.9h1.1v1.1h-1.1zM53.1 146.0h1.1v1.1h-1.1zM54.0 161.1h1.1v1.1h-1.1zM47.9 165.6h1.1v1.1h-1.1zM62.0 149.8h1.1v1.1h-1.1zM65.3 157.2h1.1v1.1h-1.1zM58.1 144.8h1.1v1.1h-1.1zM58.7 146.2h1.1v1.1h-1.1zM47.1 146.6h1.1v1.1h-1.1zM59.8 160.3h1.1v1.1h-1.1zM52.7 156.3h1.1v1.1h-1.1zM54.9 164.1h1.1v1.1h-1.1zM55.1 161.4h1.1v1.1h-1.1zM63.4 153.8h1.1v1.1h-1.1zM57.9 153.2h1.1v1.1h-1.1zM58.0 165.5h1.1v1.1h-1.1zM64.2 155.6h1.1v1.1h-1.1zM50.5 154.0h1.1v1.1h-1.1zM52.0 156.2h1.1v1.1h-1.1zM53.1 157.6h1.1v1.1h-1.1zM54.7 152.1h1.1v1.1h-1.1zM49.0 154.6h1.1v1.1h-1.1zM62.6 149.5h1.1v1.1h-1.1zM54.4 160.5h1.1v1.1h-1.1zM62.2 151.2h1.1v1.1h-1.1zM58.0 156.0h1.1v1.1h-1.1zM56.2 148.3h1.1v1.1h-1.1zM57.3 154.7h1.1v1.1h-1.1zM58.3 155.8h1.1v1.1h-1.1zM54.2 145.4h1.1v1.1h-1.1zM61.4 153.5h1.1v1.1h-1.1zM55.2 155.9h1.1v1.1h-1.1zM53.2 165.6h1.1v1.1h-1.1zM54.1 152.8h1.1v1.1h-1.1zM60.0 146.9h1.1v1.1h-1.1zM50.9 148.7h1.1v1.1h-1.1zM50.7 149.1h1.1v1.1h-1.1zM49.2 162.7h1.1v1.1h-1.1zM54.5 166.1h1.1v1.1h-1.1zM50.9 159.3h1.1v1.1h-1.1zM54.6 156.9h1.1v1.1h-1.1zM55.1 161.9h1.1v1.1h-1.1zM57.6 157.3h1.1v1.1h-1.1zM60.2 152.9h1.1v1.1h-1.1zM59.4 152.4h1.1v1.1h-1.1zM52.8 157.8h1.1v1.1h-1.1zM60.0 156.5h1.1v1.1h-1.1zM60.0 164.0h1.1v1.1h-1.1zM55.4 163.5h1.1v1.1h-1.1zM57.4 164.8h1.1v1.1h-1.1zM51.9 152.6h1.1v1.1h-1.1zM50.3 162.9h1.1v1.1h-1.1zM54.2 162.0h1.1v1.1h-1.1zM56.1 158.1h1.1v1.1h-1.1zM49.7 152.1h1.1v1.1h-1.1zM65.0 159.7h1.1v1.1h-1.1zM58.7 144.5h1.1v1.1h-1.1zM62.2 138.6h1.1v1.1h-1.1zM63.7 141.5h1.1v1.1h-1.1zM84.2 145.0h1.1v1.1h-1.1zM62.6 137.5h1.1v1.1h-1.1zM76.0 141.8h1.1v1.1h-1.1zM60.6 137.3h1.1v1.1h-1.1zM60.8 144.5h1.1v1.1h-1.1zM63.7 143.3h1.1v1.1h-1.1zM71.4 135.8h1.1v1.1h-1.1zM67.0 145.0h1.1v1.1h-1.1zM81.8 142.9h1.1v1.1h-1.1zM76.7 142.5h1.1v1.1h-1.1zM75.0 142.1h1.1v1.1h-1.1zM73.4 142.9h1.1v1.1h-1.1zM68.2 139.3h1.1v1.1h-1.1zM66.0 139.2h1.1v1.1h-1.1zM75.1 147.6h1.1v1.1h-1.1zM73.7 144.2h1.1v1.1h-1.1zM53.7 141.3h1.1v1.1h-1.1zM53.3 137.5h1.1v1.1h-1.1zM72.0 136.0h1.1v1.1h-1.1zM82.3 144.1h1.1v1.1h-1.1zM53.7 132.4h1.1v1.1h-1.1zM62.4 128.6h1.1v1.1h-1.1zM55.8 137.7h1.1v1.1h-1.1zM60.9 133.1h1.1v1.1h-1.1zM79.6 135.6h1.1v1.1h-1.1zM70.8 133.0h1.1v1.1h-1.1zM65.1 128.3h1.1v1.1h-1.1zM67.3 130.9h1.1v1.1h-1.1zM71.9 145.6h1.1v1.1h-1.1zM68.2 131.2h1.1v1.1h-1.1zM71.7 125.5h1.1v1.1h-1.1zM53.6 135.4h1.1v1.1h-1.1zM76.8 124.9h1.1v1.1h-1.1zM59.1 142.7h1.1v1.1h-1.1zM67.9 141.1h1.1v1.1h-1.1zM57.9 143.8h1.1v1.1h-1.1zM60.1 141.1h1.1v1.1h-1.1zM50.7 145.1h1.1v1.1h-1.1zM68.4 143.4h1.1v1.1h-1.1zM58.5 144.6h1.1v1.1h-1.1zM56.3 144.9h1.1v1.1h-1.1zM54.8 144.4h1.1v1.1h-1.1zM72.3 143.0h1.1v1.1h-1.1zM61.9 142.5h1.1v1.1h-1.1zM73.1 143.8h1.1v1.1h-1.1zM60.7 142.9h1.1v1.1h-1.1zM54.7 145.4h1.1v1.1h-1.1zM59.4 143.3h1.1v1.1h-1.1z" fill="#000" fill-opacity="0.39"/>
<path d="M56.6 153.0h1.1v1.1h-1.1zM67.0 152.3h1.1v1.1h-1.1zM57.5 158.4h1.1v1.1h-1.1zM53.3 158.6h1.1v1.1h-1.1zM47.2 165.6h1.1v1.1h-1.1zM57.4 148.6h1.1v1.1h-1.1zM54.6 146.4h1.1v1.1h-1.1zM62.1 151.8h1.1v1.1h-1.1zM48.5 154.0h1.1v1.1h-1.1zM51.2 148.6h1.1v1.1h-1.1zM58.8 162.7h1.1v1.1h-1.1zM48.4 145.5h1.1v1.1h-1.1zM47.0 148.7h1.1v1.1h-1.1zM56.0 150.1h1.1v1.1h-1.1zM57.0 159.1h1.1v1.1h-1.1zM51.3 151.5h1.1v1.1h-1.1zM56.7 148.5h1.1v1.1h-1.1zM49.0 148.4h1.1v1.1h-1.1zM63.5 155.2h1.1v1.1h-1.1zM47.2 158.0h1.1v1.1h-1.1zM57.3 164.6h1.1v1.1h-1.1zM47.2 152.0h1.1v1.1h-1.1zM57.6 157.0h1.1v1.1h-1.1zM58.1 162.7h1.1v1.1h-1.1zM56.3 149.2h1.1v1.1h-1.1zM56.1 157.5h1.1v1.1h-1.1zM51.5 141.4h1.1v1.1h-1.1zM55.0 156.2h1.1v1.1h-1.1zM53.0 155.9h1.1v1.1h-1.1zM47.3 156.3h1.1v1.1h-1.1zM56.8 158.3h1.1v1.1h-1.1zM54.2 153.5h1.1v1.1h-1.1zM52.4 149.1h1.1v1.1h-1.1zM56.7 144.6h1.1v1.1h-1.1zM56.0 155.9h1.1v1.1h-1.1zM55.0 156.4h1.1v1.1h-1.1zM57.6 161.6h1.1v1.1h-1.1zM47.5 155.3h1.1v1.1h-1.1zM54.0 155.9h1.1v1.1h-1.1zM52.4 152.1h1.1v1.1h-1.1zM53.2 143.9h1.1v1.1h-1.1zM54.5 154.7h1.1v1.1h-1.1zM48.7 160.0h1.1v1.1h-1.1zM54.2 154.0h1.1v1.1h-1.1zM51.9 159.8h1.1v1.1h-1.1zM62.8 139.0h1.1v1.1h-1.1zM63.0 146.6h1.1v1.1h-1.1zM61.8 162.3h1.1v1.1h-1.1zM47.3 153.8h1.1v1.1h-1.1zM51.2 137.7h1.1v1.1h-1.1zM54.5 160.1h1.1v1.1h-1.1zM48.3 150.7h1.1v1.1h-1.1zM52.7 158.0h1.1v1.1h-1.1zM55.5 157.9h1.1v1.1h-1.1zM58.6 153.2h1.1v1.1h-1.1zM52.5 151.2h1.1v1.1h-1.1zM52.8 152.2h1.1v1.1h-1.1zM54.8 157.6h1.1v1.1h-1.1zM60.1 163.5h1.1v1.1h-1.1zM53.4 161.2h1.1v1.1h-1.1zM50.9 150.2h1.1v1.1h-1.1zM52.2 156.6h1.1v1.1h-1.1zM55.8 157.0h1.1v1.1h-1.1zM54.2 147.7h1.1v1.1h-1.1zM54.6 159.1h1.1v1.1h-1.1zM54.2 153.1h1.1v1.1h-1.1zM60.2 154.8h1.1v1.1h-1.1zM54.1 148.0h1.1v1.1h-1.1zM62.2 152.1h1.1v1.1h-1.1zM56.1 154.0h1.1v1.1h-1.1zM48.3 160.7h1.1v1.1h-1.1zM56.1 152.0h1.1v1.1h-1.1zM59.2 156.3h1.1v1.1h-1.1zM47.2 151.9h1.1v1.1h-1.1zM47.9 154.3h1.1v1.1h-1.1zM49.2 145.3h1.1v1.1h-1.1zM55.2 156.1h1.1v1.1h-1.1zM80.0 137.3h1.1v1.1h-1.1zM76.2 135.3h1.1v1.1h-1.1zM66.7 139.9h1.1v1.1h-1.1zM61.4 139.7h1.1v1.1h-1.1zM65.7 140.7h1.1v1.1h-1.1zM48.0 147.3h1.1v1.1h-1.1zM74.4 144.2h1.1v1.1h-1.1zM81.1 144.6h1.1v1.1h-1.1zM67.6 142.5h1.1v1.1h-1.1zM60.5 138.6h1.1v1.1h-1.1zM75.3 138.2h1.1v1.1h-1.1zM68.2 139.7h1.1v1.1h-1.1zM68.0 147.9h1.1v1.1h-1.1zM63.2 146.1h1.1v1.1h-1.1zM71.7 143.8h1.1v1.1h-1.1zM63.0 142.6h1.1v1.1h-1.1zM68.0 140.0h1.1v1.1h-1.1zM75.3 136.6h1.1v1.1h-1.1zM65.3 141.6h1.1v1.1h-1.1zM85.2 143.5h1.1v1.1h-1.1zM71.9 145.3h1.1v1.1h-1.1zM64.1 133.8h1.1v1.1h-1.1zM64.7 132.5h1.1v1.1h-1.1zM71.9 136.3h1.1v1.1h-1.1zM72.2 134.0h1.1v1.1h-1.1zM52.4 136.2h1.1v1.1h-1.1zM87.6 129.9h1.1v1.1h-1.1zM63.1 125.1h1.1v1.1h-1.1zM62.2 128.2h1.1v1.1h-1.1zM70.9 140.5h1.1v1.1h-1.1zM60.3 141.3h1.1v1.1h-1.1zM78.7 138.3h1.1v1.1h-1.1zM67.9 127.3h1.1v1.1h-1.1zM81.8 132.1h1.1v1.1h-1.1zM57.3 133.5h1.1v1.1h-1.1zM56.7 143.6h1.1v1.1h-1.1zM62.2 143.6h1.1v1.1h-1.1zM51.3 146.0h1.1v1.1h-1.1zM58.9 143.7h1.1v1.1h-1.1zM55.9 142.4h1.1v1.1h-1.1zM61.6 142.5h1.1v1.1h-1.1zM49.6 146.4h1.1v1.1h-1.1zM70.3 144.0h1.1v1.1h-1.1zM53.1 144.6h1.1v1.1h-1.1zM69.3 141.7h1.1v1.1h-1.1zM64.2 143.1h1.1v1.1h-1.1zM48.9 148.4h1.1v1.1h-1.1zM67.8 140.9h1.1v1.1h-1.1zM69.7 141.9h1.1v1.1h-1.1zM64.9 142.6h1.1v1.1h-1.1z" fill="#000" fill-opacity="0.39"/>
<path d="M54.2 151.8h1.1v1.1h-1.1zM56.1 160.2h1.1v1.1h-1.1zM50.6 159.1h1.1v1.1h-1.1zM54.7 148.7h1.1v1.1h-1.1zM50.4 154.5h1.1v1.1h-1.1zM47.3 166.8h1.1v1.1h-1.1zM57.7 158.8h1.1v1.1h-1.1zM51.7 160.5h1.1v1.1h-1.1zM49.2 144.2h1.1v1.1h-1.1zM49.1 159.9h1.1v1.1h-1.1zM54.6 148.4h1.1v1.1h-1.1zM59.7 162.3h1.1v1.1h-1.1zM54.0 159.6h1.1v1.1h-1.1zM53.8 153.2h1.1v1.1h-1.1zM59.5 157.8h1.1v1.1h-1.1zM51.3 162.2h1.1v1.1h-1.1zM63.0 157.4h1.1v1.1h-1.1zM50.1 152.4h1.1v1.1h-1.1zM58.8 154.2h1.1v1.1h-1.1zM53.0 149.1h1.1v1.1h-1.1zM49.1 154.8h1.1v1.1h-1.1zM62.6 153.8h1.1v1.1h-1.1zM64.4 156.4h1.1v1.1h-1.1zM58.7 155.2h1.1v1.1h-1.1zM56.4 157.2h1.1v1.1h-1.1zM49.0 152.7h1.1v1.1h-1.1zM59.8 154.7h1.1v1.1h-1.1zM55.9 163.2h1.1v1.1h-1.1zM59.2 150.7h1.1v1.1h-1.1zM55.5 159.8h1.1v1.1h-1.1zM48.1 157.6h1.1v1.1h-1.1zM49.5 156.6h1.1v1.1h-1.1zM61.3 165.7h1.1v1.1h-1.1zM49.0 148.1h1.1v1.1h-1.1zM55.9 164.2h1.1v1.1h-1.1zM54.6 152.6h1.1v1.1h-1.1zM61.4 162.0h1.1v1.1h-1.1zM47.0 149.4h1.1v1.1h-1.1zM54.4 154.1h1.1v1.1h-1.1zM52.3 156.7h1.1v1.1h-1.1zM55.8 153.2h1.1v1.1h-1.1zM56.6 156.8h1.1v1.1h-1.1zM47.8 144.7h1.1v1.1h-1.1zM50.4 144.8h1.1v1.1h-1.1zM58.9 159.1h1.1v1.1h-1.1zM54.5 150.6h1.1v1.1h-1.1zM50.4 164.5h1.1v1.1h-1.1zM51.7 163.2h1.1v1.1h-1.1zM49.6 140.9h1.1v1.1h-1.1zM56.8 161.2h1.1v1.1h-1.1zM62.0 157.0h1.1v1.1h-1.1zM48.2 150.1h1.1v1.1h-1.1zM58.9 160.0h1.1v1.1h-1.1zM52.8 161.3h1.1v1.1h-1.1zM55.1 154.1h1.1v1.1h-1.1zM57.7 155.7h1.1v1.1h-1.1zM55.9 157.6h1.1v1.1h-1.1zM64.2 156.5h1.1v1.1h-1.1zM54.4 161.2h1.1v1.1h-1.1zM54.8 151.2h1.1v1.1h-1.1zM55.6 154.0h1.1v1.1h-1.1zM56.5 157.1h1.1v1.1h-1.1zM50.8 160.6h1.1v1.1h-1.1zM63.2 144.3h1.1v1.1h-1.1zM56.7 152.3h1.1v1.1h-1.1zM50.3 157.0h1.1v1.1h-1.1zM54.8 156.3h1.1v1.1h-1.1zM55.0 162.5h1.1v1.1h-1.1zM57.4 151.0h1.1v1.1h-1.1zM54.7 157.0h1.1v1.1h-1.1zM66.6 156.6h1.1v1.1h-1.1zM60.0 155.4h1.1v1.1h-1.1zM59.4 165.0h1.1v1.1h-1.1zM56.9 158.8h1.1v1.1h-1.1zM55.7 154.1h1.1v1.1h-1.1zM58.3 154.2h1.1v1.1h-1.1zM53.4 160.3h1.1v1.1h-1.1zM62.6 139.0h1.1v1.1h-1.1zM75.8 141.9h1.1v1.1h-1.1zM70.3 145.8h1.1v1.1h-1.1zM61.0 136.9h1.1v1.1h-1.1zM86.4 140.9h1.1v1.1h-1.1zM75.3 141.0h1.1v1.1h-1.1zM71.2 145.1h1.1v1.1h-1.1zM81.7 140.8h1.1v1.1h-1.1zM66.8 140.6h1.1v1.1h-1.1zM62.2 133.7h1.1v1.1h-1.1zM81.4 136.7h1.1v1.1h-1.1zM70.3 142.6h1.1v1.1h-1.1zM71.4 142.4h1.1v1.1h-1.1zM65.0 145.7h1.1v1.1h-1.1zM58.5 138.7h1.1v1.1h-1.1zM81.0 140.5h1.1v1.1h-1.1zM74.7 136.4h1.1v1.1h-1.1zM70.0 144.0h1.1v1.1h-1.1zM64.5 140.5h1.1v1.1h-1.1zM71.0 145.3h1.1v1.1h-1.1zM65.4 140.1h1.1v1.1h-1.1zM71.8 139.6h1.1v1.1h-1.1zM54.6 131.2h1.1v1.1h-1.1zM50.2 130.7h1.1v1.1h-1.1zM52.3 131.9h1.1v1.1h-1.1zM86.6 125.3h1.1v1.1h-1.1zM70.7 136.3h1.1v1.1h-1.1zM71.8 134.5h1.1v1.1h-1.1zM65.1 132.9h1.1v1.1h-1.1zM51.7 133.9h1.1v1.1h-1.1zM53.6 128.4h1.1v1.1h-1.1zM56.7 135.3h1.1v1.1h-1.1zM70.7 140.2h1.1v1.1h-1.1zM71.6 129.9h1.1v1.1h-1.1zM65.2 144.5h1.1v1.1h-1.1zM75.0 142.0h1.1v1.1h-1.1zM58.8 142.1h1.1v1.1h-1.1zM60.1 143.8h1.1v1.1h-1.1zM55.3 144.6h1.1v1.1h-1.1zM62.2 141.8h1.1v1.1h-1.1zM71.9 142.2h1.1v1.1h-1.1zM67.4 142.3h1.1v1.1h-1.1zM74.5 143.7h1.1v1.1h-1.1zM67.6 143.7h1.1v1.1h-1.1zM73.4 143.1h1.1v1.1h-1.1zM69.1 142.8h1.1v1.1h-1.1zM68.6 142.8h1.1v1.1h-1.1zM67.3 143.7h1.1v1.1h-1.1zM59.1 140.5h1.1v1.1h-1.1zM55.2 144.8h1.1v1.1h-1.1z" fill="#000" fill-opacity="0.39"/>
<path d="M53.8 157.3h1.1v1.1h-1.1zM57.6 154.1h1.1v1.1h-1.1zM58.3 154.4h1.1v1.1h-1.1zM47.5 152.2h1.1v1.1h-1.1zM51.8 152.1h1.1v1.1h-1.1zM54.1 159.9h1.1v1.1h-1.1zM49.3 148.6h1.1v1.1h-1.1zM56.0 150.2h1.1v1.1h-1.1zM57.5 159.5h1.1v1.1h-1.1zM53.0 166.9h1.1v1.1h-1.1zM63.0 147.8h1.1v1.1h-1.1zM52.5 147.5h1.1v1.1h-1.1zM54.8 158.1h1.1v1.1h-1.1zM56.8 150.9h1.1v1.1h-1.1zM63.5 158.2h1.1v1.1h-1.1zM56.2 165.9h1.1v1.1h-1.1zM60.3 156.7h1.1v1.1h-1.1zM47.8 154.8h1.1v1.1h-1.1zM56.4 155.3h1.1v1.1h-1.1zM52.7 158.7h1.1v1.1h-1.1zM57.0 164.3h1.1v1.1h-1.1zM65.1 151.1h1.1v1.1h-1.1zM53.2 147.1h1.1v1.1h-1.1zM57.4 156.5h1.1v1.1h-1.1zM59.4 164.0h1.1v1.1h-1.1zM55.4 159.9h1.1v1.1h-1.1zM53.9 149.6h1.1v1.1h-1.1zM54.0 156.0h1.1v1.1h-1.1zM58.4 157.7h1.1v1.1h-1.1zM58.5 152.2h1.1v1.1h-1.1zM49.3 148.3h1.1v1.1h-1.1zM50.8 147.1h1.1v1.1h-1.1zM53.0 154.2h1.1v1.1h-1.1zM56.6 156.1h1.1v1.1h-1.1zM60.9 151.8h1.1v1.1h-1.1zM62.2 153.9h1.1v1.1h-1.1zM63.0 146.9h1.1v1.1h-1.1zM55.9 156.4h1.1v1.1h-1.1zM58.8 145.8h1.1v1.1h-1.1zM60.7 154.3h1.1v1.1h-1.1zM51.6 159.2h1.1v1.1h-1.1zM52.1 147.9h1.1v1.1h-1.1zM53.5 144.8h1.1v1.1h-1.1zM47.1 158.8h1.1v1.1h-1.1zM61.7 154.4h1.1v1.1h-1.1zM54.5 161.6h1.1v1.1h-1.1zM56.1 143.0h1.1v1.1h-1.1zM50.3 161.0h1.1v1.1h-1.1zM57.4 157.7h1.1v1.1h-1.1zM51.5 147.0h1.1v1.1h-1.1zM55.4 159.9h1.1v1.1h-1.1zM53.8 157.5h1.1v1.1h-1.1zM61.9 153.7h1.1v1.1h-1.1zM52.4 149.4h1.1v1.1h-1.1zM56.2 151.7h1.1v1.1h-1.1zM56.9 153.5h1.1v1.1h-1.1zM59.3 154.8h1.1v1.1h-1.1zM63.2 166.7h1.1v1.1h-1.1zM52.0 155.0h1.1v1.1h-1.1zM55.7 159.4h1.1v1.1h-1.1zM49.5 145.7h1.1v1.1h-1.1zM51.4 155.9h1.1v1.1h-1.1zM60.3 152.5h1.1v1.1h-1.1zM56.0 153.2h1.1v1.1h-1.1zM57.9 157.8h1.1v1.1h-1.1zM56.5 164.0h1.1v1.1h-1.1zM51.0 149.5h1.1v1.1h-1.1zM48.7 150.1h1.1v1.1h-1.1zM57.0 153.3h1.1v1.1h-1.1zM51.9 156.7h1.1v1.1h-1.1zM55.1 162.2h1.1v1.1h-1.1zM52.2 161.0h1.1v1.1h-1.1zM61.3 155.5h1.1v1.1h-1.1zM63.7 165.9h1.1v1.1h-1.1zM54.7 159.1h1.1v1.1h-1.1zM59.2 153.3h1.1v1.1h-1.1zM89.2 141.0h1.1v1.1h-1.1zM75.0 144.2h1.1v1.1h-1.1zM88.4 145.9h1.1v1.1h-1.1zM54.6 141.7h1.1v1.1h-1.1zM80.8 142.7h1.1v1.1h-1.1zM70.6 146.1h1.1v1.1h-1.1zM68.6 139.2h1.1v1.1h-1.1zM74.7 142.9h1.1v1.1h-1.1zM59.8 146.8h1.1v1.1h-1.1zM51.9 149.0h1.1v1.1h-1.1zM75.1 148.1h1.1v1.1h-1.1zM63.8 141.2h1.1v1.1h-1.1zM76.6 147.2h1.1v1.1h-1.1zM87.0 147.8h1.1v1.1h-1.1zM61.8 142.8h1.1v1.1h-1.1zM68.0 148.6h1.1v1.1h-1.1zM74.9 143.1h1.1v1.1h-1.1zM80.5 145.0h1.1v1.1h-1.1zM62.8 138.6h1.1v1.1h-1.1zM68.9 146.1h1.1v1.1h-1.1zM59.7 138.3h1.1v1.1h-1.1zM73.4 144.5h1.1v1.1h-1.1zM63.1 147.6h1.1v1.1h-1.1zM83.8 126.3h1.1v1.1h-1.1zM58.4 124.2h1.1v1.1h-1.1zM57.3 127.7h1.1v1.1h-1.1zM57.3 129.5h1.1v1.1h-1.1zM54.0 128.0h1.1v1.1h-1.1zM87.1 140.1h1.1v1.1h-1.1zM69.1 137.8h1.1v1.1h-1.1zM67.8 134.6h1.1v1.1h-1.1zM60.8 128.3h1.1v1.1h-1.1zM61.0 138.2h1.1v1.1h-1.1zM57.2 134.7h1.1v1.1h-1.1zM60.3 137.1h1.1v1.1h-1.1zM47.0 136.0h1.1v1.1h-1.1zM70.3 143.5h1.1v1.1h-1.1zM73.3 144.1h1.1v1.1h-1.1zM69.8 141.9h1.1v1.1h-1.1zM68.6 143.0h1.1v1.1h-1.1zM57.9 142.9h1.1v1.1h-1.1zM57.1 144.8h1.1v1.1h-1.1zM63.2 141.1h1.1v1.1h-1.1zM68.0 141.9h1.1v1.1h-1.1zM74.1 142.9h1.1v1.1h-1.1zM63.4 141.4h1.1v1.1h-1.1zM55.7 144.9h1.1v1.1h-1.1zM62.9 143.4h1.1v1.1h-1.1zM75.2 143.5h1.1v1.1h-1.1zM57.8 142.8h1.1v1.1h-1.1zM56.7 143.6h1.1v1.1h-1.1z" fill="#000" fill-opacity="0.39"/>
<path d="M107.3 141.4h1.1v1.1h-1.1zM101.6 146.0h1.1v1.1h-1.1zM126.4 134.5h1.1v1.1h-1.1zM108.9 137.9h1.1v1.1h-1.1zM103.5 142.3h1.1v1.1h-1.1zM119.5 137.1h1.1v1.1h-1.1zM95.8 159.1h1.1v1.1h-1.1zM108.7 140.0h1.1v1.1h-1.1zM110.5 139.2h1.1v1.1h-1.1zM115.2 137.2h1.1v1.1h-1.1zM98.2 153.5h1.1v1.1h-1.1zM124.1 132.9h1.1v1.1h-1.1zM96.5 156.3h1.1v1.1h-1.1zM132.6 131.9h1.1v1.1h-1.1zM100.2 145.8h1.1v1.1h-1.1zM97.0 150.9h1.1v1.1h-1.1zM122.0 135.1h1.1v1.1h-1.1zM131.2 133.5h1.1v1.1h-1.1zM96.5 152.9h1.1v1.1h-1.1zM108.1 144.1h1.1v1.1h-1.1zM97.0 152.9h1.1v1.1h-1.1zM100.1 149.2h1.1v1.1h-1.1zM113.9 136.0h1.1v1.1h-1.1zM94.6 154.1h1.1v1.1h-1.1zM133.7 134.5h1.1v1.1h-1.1zM111.1 139.2h1.1v1.1h-1.1zM131.4 137.6h1.1v1.1h-1.1zM131.1 133.1h1.1v1.1h-1.1zM123.9 131.8h1.1v1.1h-1.1zM102.1 146.6h1.1v1.1h-1.1zM118.5 136.1h1.1v1.1h-1.1zM97.3 154.4h1.1v1.1h-1.1zM94.6 157.6h1.1v1.1h-1.1zM96.4 147.5h1.1v1.1h-1.1zM111.0 138.8h1.1v1.1h-1.1zM97.9 152.9h1.1v1.1h-1.1zM114.7 136.6h1.1v1.1h-1.1zM93.9 150.4h1.1v1.1h-1.1zM101.3 143.7h1.1v1.1h-1.1zM100.8 142.7h1.1v1.1h-1.1zM101.3 142.9h1.1v1.1h-1.1zM109.5 144.7h1.1v1.1h-1.1zM99.9 148.7h1.1v1.1h-1.1zM108.9 146.8h1.1v1.1h-1.1zM99.1 147.5h1.1v1.1h-1.1zM109.4 137.7h1.1v1.1h-1.1zM105.0 148.2h1.1v1.1h-1.1zM102.6 148.3h1.1v1.1h-1.1zM104.2 134.7h1.1v1.1h-1.1zM102.4 147.4h1.1v1.1h-1.1zM101.3 145.8h1.1v1.1h-1.1zM100.1 136.3h1.1v1.1h-1.1zM108.2 141.0h1.1v1.1h-1.1zM105.3 134.6h1.1v1.1h-1.1zM108.1 134.3h1.1v1.1h-1.1zM101.7 153.5h1.1v1.1h-1.1zM104.0 137.7h1.1v1.1h-1.1zM107.4 143.1h1.1v1.1h-1.1zM101.6 140.2h1.1v1.1h-1.1zM105.9 140.5h1.1v1.1h-1.1zM107.9 134.3h1.1v1.1h-1.1zM118.6 142.4h1.1v1.1h-1.1zM115.4 141.6h1.1v1.1h-1.1zM108.0 135.6h1.1v1.1h-1.1zM117.6 136.6h1.1v1.1h-1.1zM113.9 133.0h1.1v1.1h-1.1zM122.6 142.4h1.1v1.1h-1.1zM126.7 135.7h1.1v1.1h-1.1zM112.0 139.1h1.1v1.1h-1.1zM107.8 137.5h1.1v1.1h-1.1zM124.4 136.8h1.1v1.1h-1.1zM124.1 140.3h1.1v1.1h-1.1zM108.8 136.3h1.1v1.1h-1.1zM112.0 133.1h1.1v1.1h-1.1zM102.2 134.4h1.1v1.1h-1.1zM116.4 134.1h1.1v1.1h-1.1zM112.8 133.0h1.1v1.1h-1.1zM121.0 136.9h1.1v1.1h-1.1zM134.2 133.1h1.1v1.1h-1.1zM116.6 134.3h1.1v1.1h-1.1zM119.9 133.2h1.1v1.1h-1.1z" fill="#000" fill-opacity="0.42900000000000005"/>
<path d="M96.7 150.9h1.1v1.1h-1.1zM104.3 147.8h1.1v1.1h-1.1zM97.2 147.0h1.1v1.1h-1.1zM127.8 132.5h1.1v1.1h-1.1zM125.0 135.5h1.1v1.1h-1.1zM99.5 148.0h1.1v1.1h-1.1zM121.5 136.1h1.1v1.1h-1.1zM127.2 133.8h1.1v1.1h-1.1zM96.0 157.3h1.1v1.1h-1.1zM130.3 133.4h1.1v1.1h-1.1zM118.9 137.1h1.1v1.1h-1.1zM105.7 143.5h1.1v1.1h-1.1zM109.7 141.4h1.1v1.1h-1.1zM99.1 148.2h1.1v1.1h-1.1zM112.5 141.9h1.1v1.1h-1.1zM125.4 132.5h1.1v1.1h-1.1zM98.4 146.7h1.1v1.1h-1.1zM121.0 133.0h1.1v1.1h-1.1zM129.8 131.8h1.1v1.1h-1.1zM128.1 134.1h1.1v1.1h-1.1zM95.7 151.9h1.1v1.1h-1.1zM131.7 130.2h1.1v1.1h-1.1zM106.6 138.6h1.1v1.1h-1.1zM97.4 150.6h1.1v1.1h-1.1zM129.4 134.3h1.1v1.1h-1.1zM103.8 144.9h1.1v1.1h-1.1zM98.1 156.8h1.1v1.1h-1.1zM116.2 136.7h1.1v1.1h-1.1zM95.8 160.0h1.1v1.1h-1.1zM117.9 138.4h1.1v1.1h-1.1zM131.1 130.7h1.1v1.1h-1.1zM109.9 138.4h1.1v1.1h-1.1zM118.1 139.2h1.1v1.1h-1.1zM100.1 142.9h1.1v1.1h-1.1zM107.7 140.9h1.1v1.1h-1.1zM122.6 133.5h1.1v1.1h-1.1zM111.0 138.7h1.1v1.1h-1.1zM101.8 145.8h1.1v1.1h-1.1zM108.0 145.1h1.1v1.1h-1.1zM101.2 137.3h1.1v1.1h-1.1zM101.4 142.7h1.1v1.1h-1.1zM104.1 140.1h1.1v1.1h-1.1zM99.2 148.3h1.1v1.1h-1.1zM107.2 137.1h1.1v1.1h-1.1zM104.6 142.5h1.1v1.1h-1.1zM107.0 137.5h1.1v1.1h-1.1zM99.8 142.9h1.1v1.1h-1.1zM99.3 142.3h1.1v1.1h-1.1zM104.4 136.5h1.1v1.1h-1.1zM101.6 133.5h1.1v1.1h-1.1zM99.2 148.9h1.1v1.1h-1.1zM99.4 136.7h1.1v1.1h-1.1zM98.4 131.0h1.1v1.1h-1.1zM99.6 142.8h1.1v1.1h-1.1zM99.6 144.4h1.1v1.1h-1.1zM105.6 138.9h1.1v1.1h-1.1zM109.8 149.8h1.1v1.1h-1.1zM103.0 143.0h1.1v1.1h-1.1zM109.4 143.4h1.1v1.1h-1.1zM99.0 139.1h1.1v1.1h-1.1zM122.4 137.9h1.1v1.1h-1.1zM118.0 140.4h1.1v1.1h-1.1zM126.7 137.4h1.1v1.1h-1.1zM118.9 135.1h1.1v1.1h-1.1zM121.1 137.2h1.1v1.1h-1.1zM123.5 136.2h1.1v1.1h-1.1zM111.8 138.6h1.1v1.1h-1.1zM128.5 139.3h1.1v1.1h-1.1zM126.6 135.7h1.1v1.1h-1.1zM119.4 141.7h1.1v1.1h-1.1zM132.1 135.3h1.1v1.1h-1.1zM114.8 134.3h1.1v1.1h-1.1zM112.4 135.9h1.1v1.1h-1.1zM104.5 133.0h1.1v1.1h-1.1zM110.3 138.9h1.1v1.1h-1.1zM121.0 134.9h1.1v1.1h-1.1zM121.8 134.9h1.1v1.1h-1.1zM113.8 135.4h1.1v1.1h-1.1zM128.2 136.2h1.1v1.1h-1.1zM104.4 135.1h1.1v1.1h-1.1zM125.7 143.5h1.1v1.1h-1.1z" fill="#000" fill-opacity="0.42900000000000005"/>
<path d="M99.6 153.7h1.1v1.1h-1.1zM112.4 140.0h1.1v1.1h-1.1zM117.7 136.0h1.1v1.1h-1.1zM100.2 154.5h1.1v1.1h-1.1zM127.2 131.7h1.1v1.1h-1.1zM107.2 142.3h1.1v1.1h-1.1zM95.5 159.9h1.1v1.1h-1.1zM118.6 134.7h1.1v1.1h-1.1zM114.7 136.2h1.1v1.1h-1.1zM99.2 154.2h1.1v1.1h-1.1zM115.8 137.8h1.1v1.1h-1.1zM126.6 133.1h1.1v1.1h-1.1zM101.8 142.1h1.1v1.1h-1.1zM127.7 130.5h1.1v1.1h-1.1zM104.9 146.0h1.1v1.1h-1.1zM131.5 134.8h1.1v1.1h-1.1zM97.1 149.6h1.1v1.1h-1.1zM120.7 136.7h1.1v1.1h-1.1zM95.4 152.6h1.1v1.1h-1.1zM104.2 139.7h1.1v1.1h-1.1zM98.9 151.8h1.1v1.1h-1.1zM108.4 139.3h1.1v1.1h-1.1zM129.6 135.6h1.1v1.1h-1.1zM117.3 135.2h1.1v1.1h-1.1zM101.3 147.5h1.1v1.1h-1.1zM109.4 138.5h1.1v1.1h-1.1zM96.8 151.1h1.1v1.1h-1.1zM104.9 143.5h1.1v1.1h-1.1zM125.7 137.1h1.1v1.1h-1.1zM134.4 134.6h1.1v1.1h-1.1zM96.6 150.5h1.1v1.1h-1.1zM104.0 140.6h1.1v1.1h-1.1zM100.1 150.9h1.1v1.1h-1.1zM110.6 139.7h1.1v1.1h-1.1zM96.3 154.5h1.1v1.1h-1.1zM113.2 139.4h1.1v1.1h-1.1zM96.2 155.5h1.1v1.1h-1.1zM102.1 139.3h1.1v1.1h-1.1zM112.4 141.8h1.1v1.1h-1.1zM104.6 138.6h1.1v1.1h-1.1zM101.0 135.3h1.1v1.1h-1.1zM102.9 143.9h1.1v1.1h-1.1zM101.6 156.1h1.1v1.1h-1.1zM108.0 150.8h1.1v1.1h-1.1zM98.5 150.6h1.1v1.1h-1.1zM109.1 141.1h1.1v1.1h-1.1zM100.1 146.7h1.1v1.1h-1.1zM102.1 139.7h1.1v1.1h-1.1zM103.5 153.8h1.1v1.1h-1.1zM97.0 143.3h1.1v1.1h-1.1zM103.2 139.1h1.1v1.1h-1.1zM103.2 144.2h1.1v1.1h-1.1zM104.4 139.1h1.1v1.1h-1.1zM102.9 148.2h1.1v1.1h-1.1zM99.2 154.9h1.1v1.1h-1.1zM108.5 134.0h1.1v1.1h-1.1zM99.7 144.3h1.1v1.1h-1.1zM98.8 148.6h1.1v1.1h-1.1zM100.9 139.8h1.1v1.1h-1.1zM103.0 143.7h1.1v1.1h-1.1zM113.5 139.3h1.1v1.1h-1.1zM115.5 137.0h1.1v1.1h-1.1zM119.4 140.6h1.1v1.1h-1.1zM116.4 141.5h1.1v1.1h-1.1zM110.2 138.8h1.1v1.1h-1.1zM105.8 136.2h1.1v1.1h-1.1zM107.8 133.9h1.1v1.1h-1.1zM108.7 135.9h1.1v1.1h-1.1zM112.6 137.5h1.1v1.1h-1.1zM99.2 138.0h1.1v1.1h-1.1zM112.2 133.3h1.1v1.1h-1.1zM114.1 135.2h1.1v1.1h-1.1zM103.7 136.9h1.1v1.1h-1.1zM111.1 135.5h1.1v1.1h-1.1zM114.7 135.3h1.1v1.1h-1.1zM123.2 133.2h1.1v1.1h-1.1zM124.8 134.8h1.1v1.1h-1.1zM121.9 138.6h1.1v1.1h-1.1zM119.8 134.1h1.1v1.1h-1.1zM121.1 135.2h1.1v1.1h-1.1z" fill="#000" fill-opacity="0.42900000000000005"/>
<path d="M129.7 133.8h1.1v1.1h-1.1zM114.9 138.4h1.1v1.1h-1.1zM103.4 143.1h1.1v1.1h-1.1zM122.0 135.4h1.1v1.1h-1.1zM98.7 148.3h1.1v1.1h-1.1zM123.2 137.1h1.1v1.1h-1.1zM119.7 134.3h1.1v1.1h-1.1zM98.2 153.3h1.1v1.1h-1.1zM98.0 155.0h1.1v1.1h-1.1zM132.8 131.4h1.1v1.1h-1.1zM118.1 134.4h1.1v1.1h-1.1zM95.1 154.1h1.1v1.1h-1.1zM112.6 138.9h1.1v1.1h-1.1zM124.4 134.6h1.1v1.1h-1.1zM98.8 154.6h1.1v1.1h-1.1zM96.1 156.0h1.1v1.1h-1.1zM105.4 143.4h1.1v1.1h-1.1zM107.1 144.5h1.1v1.1h-1.1zM98.7 149.1h1.1v1.1h-1.1zM101.9 145.9h1.1v1.1h-1.1zM119.6 139.3h1.1v1.1h-1.1zM99.0 153.6h1.1v1.1h-1.1zM107.2 140.9h1.1v1.1h-1.1zM122.6 137.2h1.1v1.1h-1.1zM95.9 156.7h1.1v1.1h-1.1zM100.1 144.9h1.1v1.1h-1.1zM121.3 132.1h1.1v1.1h-1.1zM110.6 140.0h1.1v1.1h-1.1zM100.5 147.4h1.1v1.1h-1.1zM100.0 150.2h1.1v1.1h-1.1zM102.4 145.0h1.1v1.1h-1.1zM102.6 144.1h1.1v1.1h-1.1zM100.5 147.6h1.1v1.1h-1.1zM95.6 156.6h1.1v1.1h-1.1zM126.7 131.7h1.1v1.1h-1.1zM103.0 148.4h1.1v1.1h-1.1zM97.1 151.2h1.1v1.1h-1.1zM98.5 146.9h1.1v1.1h-1.1zM107.3 145.9h1.1v1.1h-1.1zM110.2 138.7h1.1v1.1h-1.1zM93.8 136.0h1.1v1.1h-1.1zM97.9 138.5h1.1v1.1h-1.1zM103.1 142.6h1.1v1.1h-1.1zM103.0 140.0h1.1v1.1h-1.1zM107.0 142.3h1.1v1.1h-1.1zM108.3 140.4h1.1v1.1h-1.1zM101.0 140.6h1.1v1.1h-1.1zM100.3 141.7h1.1v1.1h-1.1zM99.6 142.1h1.1v1.1h-1.1zM104.5 147.8h1.1v1.1h-1.1zM104.2 151.2h1.1v1.1h-1.1zM102.8 143.4h1.1v1.1h-1.1zM102.5 144.5h1.1v1.1h-1.1zM101.4 132.1h1.1v1.1h-1.1zM104.4 145.1h1.1v1.1h-1.1zM101.1 143.9h1.1v1.1h-1.1zM100.9 140.3h1.1v1.1h-1.1zM100.4 149.0h1.1v1.1h-1.1zM105.9 151.8h1.1v1.1h-1.1zM110.9 140.3h1.1v1.1h-1.1zM103.4 141.4h1.1v1.1h-1.1zM122.7 131.2h1.1v1.1h-1.1zM120.8 130.8h1.1v1.1h-1.1zM126.8 138.3h1.1v1.1h-1.1zM109.2 136.3h1.1v1.1h-1.1zM103.7 140.7h1.1v1.1h-1.1zM116.6 137.7h1.1v1.1h-1.1zM108.3 141.6h1.1v1.1h-1.1zM109.7 132.7h1.1v1.1h-1.1zM106.0 139.9h1.1v1.1h-1.1zM110.9 136.8h1.1v1.1h-1.1zM112.8 135.2h1.1v1.1h-1.1zM123.1 138.4h1.1v1.1h-1.1zM99.8 138.4h1.1v1.1h-1.1zM115.5 135.9h1.1v1.1h-1.1zM99.9 138.5h1.1v1.1h-1.1zM126.4 136.9h1.1v1.1h-1.1zM113.4 143.1h1.1v1.1h-1.1zM133.8 134.0h1.1v1.1h-1.1zM114.0 133.3h1.1v1.1h-1.1z" fill="#000" fill-opacity="0.42900000000000005"/>
<path d="M143.4 164.2h1.1v1.1h-1.1zM147.4 152.8h1.1v1.1h-1.1zM143.1 157.7h1.1v1.1h-1.1zM147.6 151.1h1.1v1.1h-1.1zM142.0 149.3h1.1v1.1h-1.1zM144.3 165.8h1.1v1.1h-1.1zM148.1 146.4h1.1v1.1h-1.1zM147.1 158.1h1.1v1.1h-1.1zM146.2 161.6h1.1v1.1h-1.1zM144.7 156.0h1.1v1.1h-1.1zM144.1 150.2h1.1v1.1h-1.1zM143.8 151.2h1.1v1.1h-1.1zM144.4 157.0h1.1v1.1h-1.1zM144.2 151.5h1.1v1.1h-1.1zM146.6 154.3h1.1v1.1h-1.1zM141.0 154.0h1.1v1.1h-1.1zM142.3 147.9h1.1v1.1h-1.1zM140.0 163.5h1.1v1.1h-1.1zM146.3 158.2h1.1v1.1h-1.1zM147.9 155.3h1.1v1.1h-1.1zM145.1 149.5h1.1v1.1h-1.1zM143.1 157.2h1.1v1.1h-1.1zM147.5 153.2h1.1v1.1h-1.1zM140.2 160.7h1.1v1.1h-1.1zM144.1 157.9h1.1v1.1h-1.1zM143.7 155.2h1.1v1.1h-1.1zM142.8 163.5h1.1v1.1h-1.1zM144.7 156.9h1.1v1.1h-1.1zM144.4 158.9h1.1v1.1h-1.1zM145.4 155.7h1.1v1.1h-1.1zM142.0 156.3h1.1v1.1h-1.1zM142.1 154.6h1.1v1.1h-1.1zM151.2 152.9h1.1v1.1h-1.1zM149.1 154.3h1.1v1.1h-1.1zM142.9 151.8h1.1v1.1h-1.1zM146.5 155.5h1.1v1.1h-1.1zM142.5 149.5h1.1v1.1h-1.1zM145.7 150.7h1.1v1.1h-1.1zM145.3 147.8h1.1v1.1h-1.1zM145.3 157.5h1.1v1.1h-1.1zM145.5 165.9h1.1v1.1h-1.1zM141.6 156.8h1.1v1.1h-1.1zM144.4 155.8h1.1v1.1h-1.1zM147.5 153.4h1.1v1.1h-1.1zM146.3 145.8h1.1v1.1h-1.1zM141.5 148.6h1.1v1.1h-1.1zM146.8 157.7h1.1v1.1h-1.1zM141.1 156.7h1.1v1.1h-1.1zM141.7 142.9h1.1v1.1h-1.1zM143.1 151.7h1.1v1.1h-1.1zM145.2 146.6h1.1v1.1h-1.1zM142.5 161.8h1.1v1.1h-1.1zM141.8 139.7h1.1v1.1h-1.1zM143.6 152.9h1.1v1.1h-1.1zM145.8 146.7h1.1v1.1h-1.1zM147.9 148.3h1.1v1.1h-1.1z" fill="#000" fill-opacity="0.41600000000000004"/>
<path d="M145.6 150.5h1.1v1.1h-1.1zM140.7 154.0h1.1v1.1h-1.1zM141.5 162.4h1.1v1.1h-1.1zM146.1 163.5h1.1v1.1h-1.1zM141.4 160.0h1.1v1.1h-1.1zM140.3 151.8h1.1v1.1h-1.1zM141.9 144.5h1.1v1.1h-1.1zM142.6 154.2h1.1v1.1h-1.1zM145.8 160.8h1.1v1.1h-1.1zM144.9 146.7h1.1v1.1h-1.1zM140.3 150.6h1.1v1.1h-1.1zM149.4 161.3h1.1v1.1h-1.1zM142.0 154.8h1.1v1.1h-1.1zM144.5 155.2h1.1v1.1h-1.1zM149.7 156.8h1.1v1.1h-1.1zM146.2 148.5h1.1v1.1h-1.1zM140.4 156.3h1.1v1.1h-1.1zM145.0 154.3h1.1v1.1h-1.1zM143.3 145.0h1.1v1.1h-1.1zM142.5 161.7h1.1v1.1h-1.1zM148.3 160.9h1.1v1.1h-1.1zM141.5 158.8h1.1v1.1h-1.1zM142.3 156.2h1.1v1.1h-1.1zM144.2 157.3h1.1v1.1h-1.1zM141.1 153.7h1.1v1.1h-1.1zM143.1 162.0h1.1v1.1h-1.1zM147.5 155.2h1.1v1.1h-1.1zM146.2 156.6h1.1v1.1h-1.1zM145.0 152.9h1.1v1.1h-1.1zM143.0 147.0h1.1v1.1h-1.1zM142.1 151.9h1.1v1.1h-1.1zM147.3 159.2h1.1v1.1h-1.1zM152.1 153.6h1.1v1.1h-1.1zM145.9 147.3h1.1v1.1h-1.1zM148.3 159.5h1.1v1.1h-1.1zM147.5 153.0h1.1v1.1h-1.1zM141.0 151.4h1.1v1.1h-1.1zM144.2 145.0h1.1v1.1h-1.1zM143.3 159.8h1.1v1.1h-1.1zM142.4 152.7h1.1v1.1h-1.1zM141.5 164.7h1.1v1.1h-1.1zM150.8 155.4h1.1v1.1h-1.1zM148.5 160.0h1.1v1.1h-1.1zM151.1 153.6h1.1v1.1h-1.1zM146.7 160.6h1.1v1.1h-1.1zM149.6 149.3h1.1v1.1h-1.1zM142.4 141.1h1.1v1.1h-1.1zM144.6 149.2h1.1v1.1h-1.1zM145.7 156.8h1.1v1.1h-1.1zM146.4 153.8h1.1v1.1h-1.1zM144.7 159.6h1.1v1.1h-1.1zM146.6 154.4h1.1v1.1h-1.1zM146.7 147.6h1.1v1.1h-1.1zM141.5 152.9h1.1v1.1h-1.1zM147.7 159.8h1.1v1.1h-1.1z" fill="#000" fill-opacity="0.41600000000000004"/>
<path d="M143.4 148.8h1.1v1.1h-1.1zM149.7 156.1h1.1v1.1h-1.1zM142.7 149.3h1.1v1.1h-1.1zM140.9 163.2h1.1v1.1h-1.1zM145.1 160.8h1.1v1.1h-1.1zM143.3 152.2h1.1v1.1h-1.1zM140.0 157.9h1.1v1.1h-1.1zM145.6 166.3h1.1v1.1h-1.1zM141.1 152.9h1.1v1.1h-1.1zM142.3 153.5h1.1v1.1h-1.1zM141.9 159.4h1.1v1.1h-1.1zM145.2 153.0h1.1v1.1h-1.1zM143.3 160.8h1.1v1.1h-1.1zM143.7 157.0h1.1v1.1h-1.1zM142.3 157.7h1.1v1.1h-1.1zM145.9 160.0h1.1v1.1h-1.1zM144.6 162.1h1.1v1.1h-1.1zM141.3 148.4h1.1v1.1h-1.1zM145.7 162.7h1.1v1.1h-1.1zM143.6 157.1h1.1v1.1h-1.1zM151.3 160.3h1.1v1.1h-1.1zM143.0 156.0h1.1v1.1h-1.1zM147.2 153.4h1.1v1.1h-1.1zM147.8 156.2h1.1v1.1h-1.1zM150.8 149.6h1.1v1.1h-1.1zM144.2 152.4h1.1v1.1h-1.1zM147.0 159.3h1.1v1.1h-1.1zM142.7 154.1h1.1v1.1h-1.1zM144.4 151.7h1.1v1.1h-1.1zM144.0 149.7h1.1v1.1h-1.1zM143.7 163.0h1.1v1.1h-1.1zM142.1 158.9h1.1v1.1h-1.1zM144.2 165.4h1.1v1.1h-1.1zM150.1 160.2h1.1v1.1h-1.1zM147.3 158.6h1.1v1.1h-1.1zM141.7 157.1h1.1v1.1h-1.1zM149.9 152.2h1.1v1.1h-1.1zM150.1 150.2h1.1v1.1h-1.1zM146.3 143.4h1.1v1.1h-1.1zM143.7 156.8h1.1v1.1h-1.1zM143.6 158.9h1.1v1.1h-1.1zM144.4 154.6h1.1v1.1h-1.1zM141.2 150.9h1.1v1.1h-1.1zM148.9 162.7h1.1v1.1h-1.1zM144.1 160.5h1.1v1.1h-1.1zM141.9 152.3h1.1v1.1h-1.1zM141.6 147.4h1.1v1.1h-1.1zM147.9 159.8h1.1v1.1h-1.1zM141.6 154.7h1.1v1.1h-1.1zM147.6 157.5h1.1v1.1h-1.1zM141.2 154.8h1.1v1.1h-1.1zM144.2 155.3h1.1v1.1h-1.1zM144.0 154.0h1.1v1.1h-1.1zM141.2 154.8h1.1v1.1h-1.1zM150.9 141.7h1.1v1.1h-1.1z" fill="#000" fill-opacity="0.41600000000000004"/>
<path d="M144.8 158.6h1.1v1.1h-1.1zM144.3 142.2h1.1v1.1h-1.1zM142.6 153.9h1.1v1.1h-1.1zM146.6 157.1h1.1v1.1h-1.1zM150.2 154.6h1.1v1.1h-1.1zM144.9 149.5h1.1v1.1h-1.1zM146.4 153.3h1.1v1.1h-1.1zM143.1 156.7h1.1v1.1h-1.1zM151.8 155.9h1.1v1.1h-1.1zM145.0 149.4h1.1v1.1h-1.1zM148.7 157.9h1.1v1.1h-1.1zM144.5 157.0h1.1v1.1h-1.1zM140.5 162.1h1.1v1.1h-1.1zM142.6 144.6h1.1v1.1h-1.1zM151.4 160.9h1.1v1.1h-1.1zM147.0 150.6h1.1v1.1h-1.1zM145.3 152.6h1.1v1.1h-1.1zM146.4 148.8h1.1v1.1h-1.1zM141.9 147.1h1.1v1.1h-1.1zM143.2 150.1h1.1v1.1h-1.1zM149.5 156.0h1.1v1.1h-1.1zM141.8 153.7h1.1v1.1h-1.1zM140.8 145.4h1.1v1.1h-1.1zM146.0 151.6h1.1v1.1h-1.1zM144.8 162.1h1.1v1.1h-1.1zM145.8 153.1h1.1v1.1h-1.1zM146.3 154.8h1.1v1.1h-1.1zM145.9 148.8h1.1v1.1h-1.1zM147.5 152.4h1.1v1.1h-1.1zM142.4 154.5h1.1v1.1h-1.1zM149.4 160.0h1.1v1.1h-1.1zM146.4 151.5h1.1v1.1h-1.1zM142.8 151.8h1.1v1.1h-1.1zM145.6 158.6h1.1v1.1h-1.1zM141.6 147.1h1.1v1.1h-1.1zM142.7 145.2h1.1v1.1h-1.1zM148.0 154.1h1.1v1.1h-1.1zM146.3 151.2h1.1v1.1h-1.1zM147.1 147.1h1.1v1.1h-1.1zM147.3 162.3h1.1v1.1h-1.1zM144.1 155.0h1.1v1.1h-1.1zM146.7 153.4h1.1v1.1h-1.1zM144.5 159.4h1.1v1.1h-1.1zM149.4 155.7h1.1v1.1h-1.1zM146.3 163.2h1.1v1.1h-1.1zM147.2 151.9h1.1v1.1h-1.1zM149.6 150.5h1.1v1.1h-1.1zM145.3 150.2h1.1v1.1h-1.1zM154.7 148.1h1.1v1.1h-1.1zM148.1 155.2h1.1v1.1h-1.1zM142.1 148.8h1.1v1.1h-1.1zM145.3 155.6h1.1v1.1h-1.1zM142.6 157.6h1.1v1.1h-1.1zM148.6 160.3h1.1v1.1h-1.1zM144.5 152.6h1.1v1.1h-1.1z" fill="#000" fill-opacity="0.41600000000000004"/>
<path d="M219.3 132.3h1.1v1.1h-1.1zM219.3 129.5h1.1v1.1h-1.1zM211.4 135.6h1.1v1.1h-1.1zM192.6 149.1h1.1v1.1h-1.1zM196.5 145.4h1.1v1.1h-1.1zM194.0 143.4h1.1v1.1h-1.1zM203.7 143.4h1.1v1.1h-1.1zM215.0 131.9h1.1v1.1h-1.1zM204.1 140.5h1.1v1.1h-1.1zM214.4 135.0h1.1v1.1h-1.1zM191.0 157.1h1.1v1.1h-1.1zM194.2 147.8h1.1v1.1h-1.1zM194.9 150.5h1.1v1.1h-1.1zM195.5 151.0h1.1v1.1h-1.1zM189.7 153.5h1.1v1.1h-1.1zM220.7 132.0h1.1v1.1h-1.1zM197.5 144.4h1.1v1.1h-1.1zM195.1 146.5h1.1v1.1h-1.1zM227.8 131.5h1.1v1.1h-1.1zM201.6 142.6h1.1v1.1h-1.1zM202.5 140.0h1.1v1.1h-1.1zM208.6 137.4h1.1v1.1h-1.1zM215.1 134.1h1.1v1.1h-1.1zM202.3 139.6h1.1v1.1h-1.1zM210.5 137.6h1.1v1.1h-1.1zM197.6 143.4h1.1v1.1h-1.1zM190.3 163.9h1.1v1.1h-1.1zM192.1 153.8h1.1v1.1h-1.1zM191.1 158.9h1.1v1.1h-1.1zM228.7 131.1h1.1v1.1h-1.1zM194.4 150.1h1.1v1.1h-1.1zM210.1 138.4h1.1v1.1h-1.1zM224.9 132.6h1.1v1.1h-1.1zM230.2 133.1h1.1v1.1h-1.1zM221.4 133.3h1.1v1.1h-1.1zM188.8 151.0h1.1v1.1h-1.1zM211.1 137.6h1.1v1.1h-1.1zM205.3 140.2h1.1v1.1h-1.1zM212.2 134.9h1.1v1.1h-1.1zM194.5 154.9h1.1v1.1h-1.1zM204.0 145.9h1.1v1.1h-1.1zM202.2 140.0h1.1v1.1h-1.1zM203.1 140.7h1.1v1.1h-1.1zM210.4 133.0h1.1v1.1h-1.1zM217.8 133.4h1.1v1.1h-1.1zM202.5 142.0h1.1v1.1h-1.1zM193.7 147.8h1.1v1.1h-1.1zM199.2 145.1h1.1v1.1h-1.1zM197.5 146.3h1.1v1.1h-1.1zM203.4 139.5h1.1v1.1h-1.1zM198.2 154.3h1.1v1.1h-1.1zM195.3 146.2h1.1v1.1h-1.1zM204.7 138.1h1.1v1.1h-1.1zM197.2 142.9h1.1v1.1h-1.1zM200.1 152.7h1.1v1.1h-1.1zM192.7 149.2h1.1v1.1h-1.1zM195.5 152.0h1.1v1.1h-1.1zM199.2 148.7h1.1v1.1h-1.1zM195.5 149.8h1.1v1.1h-1.1zM189.4 150.5h1.1v1.1h-1.1zM202.9 153.3h1.1v1.1h-1.1zM194.3 151.9h1.1v1.1h-1.1zM199.2 154.5h1.1v1.1h-1.1zM199.2 136.9h1.1v1.1h-1.1zM197.2 151.6h1.1v1.1h-1.1zM196.8 146.7h1.1v1.1h-1.1zM200.0 142.8h1.1v1.1h-1.1zM196.8 149.4h1.1v1.1h-1.1zM188.9 150.0h1.1v1.1h-1.1zM198.8 143.7h1.1v1.1h-1.1zM201.0 142.0h1.1v1.1h-1.1zM214.5 133.9h1.1v1.1h-1.1zM208.6 136.4h1.1v1.1h-1.1zM203.9 138.0h1.1v1.1h-1.1zM228.3 130.4h1.1v1.1h-1.1zM230.1 139.0h1.1v1.1h-1.1zM219.3 129.5h1.1v1.1h-1.1zM224.2 140.1h1.1v1.1h-1.1zM220.4 133.6h1.1v1.1h-1.1zM210.4 141.6h1.1v1.1h-1.1zM218.0 132.0h1.1v1.1h-1.1zM217.8 136.4h1.1v1.1h-1.1zM220.8 135.6h1.1v1.1h-1.1zM226.9 132.5h1.1v1.1h-1.1zM208.0 140.0h1.1v1.1h-1.1zM196.8 133.4h1.1v1.1h-1.1zM205.2 139.5h1.1v1.1h-1.1zM225.0 137.2h1.1v1.1h-1.1zM203.3 134.3h1.1v1.1h-1.1zM215.3 134.4h1.1v1.1h-1.1zM220.3 134.9h1.1v1.1h-1.1zM207.5 132.0h1.1v1.1h-1.1zM205.5 136.0h1.1v1.1h-1.1zM224.6 131.1h1.1v1.1h-1.1zM222.8 135.6h1.1v1.1h-1.1zM209.4 137.7h1.1v1.1h-1.1zM210.4 126.9h1.1v1.1h-1.1z" fill="#000" fill-opacity="0.46799999999999997"/>
<path d="M203.7 139.9h1.1v1.1h-1.1zM188.5 160.5h1.1v1.1h-1.1zM195.9 147.0h1.1v1.1h-1.1zM205.0 140.1h1.1v1.1h-1.1zM204.5 135.5h1.1v1.1h-1.1zM190.4 159.2h1.1v1.1h-1.1zM218.8 137.2h1.1v1.1h-1.1zM220.2 132.8h1.1v1.1h-1.1zM205.4 142.4h1.1v1.1h-1.1zM194.7 147.0h1.1v1.1h-1.1zM210.3 137.2h1.1v1.1h-1.1zM213.2 133.4h1.1v1.1h-1.1zM206.0 137.5h1.1v1.1h-1.1zM215.8 135.8h1.1v1.1h-1.1zM224.0 130.3h1.1v1.1h-1.1zM193.8 153.7h1.1v1.1h-1.1zM212.1 134.9h1.1v1.1h-1.1zM224.8 131.2h1.1v1.1h-1.1zM200.3 147.4h1.1v1.1h-1.1zM193.8 152.2h1.1v1.1h-1.1zM189.6 156.0h1.1v1.1h-1.1zM203.7 142.2h1.1v1.1h-1.1zM197.0 144.2h1.1v1.1h-1.1zM196.2 150.1h1.1v1.1h-1.1zM206.5 134.5h1.1v1.1h-1.1zM193.3 149.8h1.1v1.1h-1.1zM213.3 132.9h1.1v1.1h-1.1zM189.6 159.1h1.1v1.1h-1.1zM197.2 146.7h1.1v1.1h-1.1zM196.0 149.1h1.1v1.1h-1.1zM197.6 146.4h1.1v1.1h-1.1zM214.4 133.1h1.1v1.1h-1.1zM190.3 149.9h1.1v1.1h-1.1zM190.5 160.3h1.1v1.1h-1.1zM210.7 135.1h1.1v1.1h-1.1zM193.1 153.5h1.1v1.1h-1.1zM198.2 143.6h1.1v1.1h-1.1zM192.6 155.6h1.1v1.1h-1.1zM222.8 132.3h1.1v1.1h-1.1zM195.1 154.7h1.1v1.1h-1.1zM194.4 155.5h1.1v1.1h-1.1zM220.4 132.9h1.1v1.1h-1.1zM189.8 161.9h1.1v1.1h-1.1zM194.8 147.0h1.1v1.1h-1.1zM195.0 153.5h1.1v1.1h-1.1zM194.5 139.9h1.1v1.1h-1.1zM192.8 148.1h1.1v1.1h-1.1zM203.8 146.3h1.1v1.1h-1.1zM204.1 137.0h1.1v1.1h-1.1zM197.6 149.3h1.1v1.1h-1.1zM202.6 138.0h1.1v1.1h-1.1zM203.5 148.5h1.1v1.1h-1.1zM196.1 143.9h1.1v1.1h-1.1zM197.9 150.0h1.1v1.1h-1.1zM192.8 156.0h1.1v1.1h-1.1zM195.1 142.0h1.1v1.1h-1.1zM201.4 141.9h1.1v1.1h-1.1zM189.4 149.6h1.1v1.1h-1.1zM197.7 140.4h1.1v1.1h-1.1zM197.4 159.2h1.1v1.1h-1.1zM193.5 151.4h1.1v1.1h-1.1zM197.2 145.4h1.1v1.1h-1.1zM194.1 144.1h1.1v1.1h-1.1zM194.8 135.6h1.1v1.1h-1.1zM199.8 139.5h1.1v1.1h-1.1zM200.5 145.0h1.1v1.1h-1.1zM199.6 147.4h1.1v1.1h-1.1zM207.3 152.9h1.1v1.1h-1.1zM197.5 148.4h1.1v1.1h-1.1zM198.8 148.8h1.1v1.1h-1.1zM204.7 147.9h1.1v1.1h-1.1zM208.1 141.1h1.1v1.1h-1.1zM208.7 133.2h1.1v1.1h-1.1zM203.8 134.5h1.1v1.1h-1.1zM214.6 131.8h1.1v1.1h-1.1zM209.0 138.2h1.1v1.1h-1.1zM211.1 137.0h1.1v1.1h-1.1zM195.7 136.8h1.1v1.1h-1.1zM209.9 132.6h1.1v1.1h-1.1zM216.1 133.0h1.1v1.1h-1.1zM201.7 134.2h1.1v1.1h-1.1zM206.8 131.7h1.1v1.1h-1.1zM214.5 133.8h1.1v1.1h-1.1zM204.3 137.5h1.1v1.1h-1.1zM195.6 135.9h1.1v1.1h-1.1zM188.5 134.1h1.1v1.1h-1.1zM217.7 132.9h1.1v1.1h-1.1zM210.1 137.5h1.1v1.1h-1.1zM208.6 139.3h1.1v1.1h-1.1zM220.0 137.4h1.1v1.1h-1.1zM213.8 136.1h1.1v1.1h-1.1zM206.5 134.0h1.1v1.1h-1.1zM224.3 136.3h1.1v1.1h-1.1zM207.2 135.6h1.1v1.1h-1.1zM205.6 138.7h1.1v1.1h-1.1zM225.1 142.4h1.1v1.1h-1.1zM217.8 134.9h1.1v1.1h-1.1z" fill="#000" fill-opacity="0.46799999999999997"/>
<path d="M213.2 133.4h1.1v1.1h-1.1zM214.7 134.7h1.1v1.1h-1.1zM218.5 134.3h1.1v1.1h-1.1zM227.8 126.9h1.1v1.1h-1.1zM190.3 162.5h1.1v1.1h-1.1zM190.8 157.6h1.1v1.1h-1.1zM217.3 133.5h1.1v1.1h-1.1zM220.1 132.3h1.1v1.1h-1.1zM222.6 134.6h1.1v1.1h-1.1zM218.1 134.0h1.1v1.1h-1.1zM210.2 135.4h1.1v1.1h-1.1zM190.5 156.3h1.1v1.1h-1.1zM226.4 130.8h1.1v1.1h-1.1zM228.1 130.8h1.1v1.1h-1.1zM201.6 142.5h1.1v1.1h-1.1zM216.9 135.0h1.1v1.1h-1.1zM193.5 149.7h1.1v1.1h-1.1zM197.2 146.1h1.1v1.1h-1.1zM203.7 138.1h1.1v1.1h-1.1zM196.9 142.9h1.1v1.1h-1.1zM199.9 143.6h1.1v1.1h-1.1zM206.7 139.4h1.1v1.1h-1.1zM206.8 138.2h1.1v1.1h-1.1zM215.3 132.5h1.1v1.1h-1.1zM197.4 145.2h1.1v1.1h-1.1zM213.6 134.5h1.1v1.1h-1.1zM212.1 134.0h1.1v1.1h-1.1zM206.1 141.3h1.1v1.1h-1.1zM194.5 146.2h1.1v1.1h-1.1zM226.3 132.4h1.1v1.1h-1.1zM192.1 149.3h1.1v1.1h-1.1zM198.0 149.7h1.1v1.1h-1.1zM193.8 146.3h1.1v1.1h-1.1zM190.8 154.2h1.1v1.1h-1.1zM192.5 149.3h1.1v1.1h-1.1zM213.0 134.2h1.1v1.1h-1.1zM223.3 133.4h1.1v1.1h-1.1zM202.7 143.0h1.1v1.1h-1.1zM217.5 133.7h1.1v1.1h-1.1zM208.2 136.2h1.1v1.1h-1.1zM215.2 135.7h1.1v1.1h-1.1zM191.1 151.2h1.1v1.1h-1.1zM191.1 155.8h1.1v1.1h-1.1zM201.3 137.9h1.1v1.1h-1.1zM211.7 132.4h1.1v1.1h-1.1zM190.7 145.8h1.1v1.1h-1.1zM194.9 149.3h1.1v1.1h-1.1zM194.0 148.8h1.1v1.1h-1.1zM196.4 150.9h1.1v1.1h-1.1zM195.2 137.0h1.1v1.1h-1.1zM201.5 149.9h1.1v1.1h-1.1zM204.1 149.3h1.1v1.1h-1.1zM193.9 142.7h1.1v1.1h-1.1zM194.3 143.5h1.1v1.1h-1.1zM200.9 144.1h1.1v1.1h-1.1zM199.5 146.0h1.1v1.1h-1.1zM197.3 152.1h1.1v1.1h-1.1zM198.8 148.3h1.1v1.1h-1.1zM193.5 146.2h1.1v1.1h-1.1zM191.5 144.2h1.1v1.1h-1.1zM192.7 146.9h1.1v1.1h-1.1zM196.4 140.3h1.1v1.1h-1.1zM197.5 149.6h1.1v1.1h-1.1zM196.3 143.4h1.1v1.1h-1.1zM194.8 147.0h1.1v1.1h-1.1zM198.6 143.4h1.1v1.1h-1.1zM201.3 132.4h1.1v1.1h-1.1zM202.8 147.3h1.1v1.1h-1.1zM193.4 140.1h1.1v1.1h-1.1zM192.9 145.0h1.1v1.1h-1.1zM200.9 146.0h1.1v1.1h-1.1zM211.7 134.1h1.1v1.1h-1.1zM217.5 136.8h1.1v1.1h-1.1zM214.8 134.2h1.1v1.1h-1.1zM216.5 131.6h1.1v1.1h-1.1zM209.0 135.1h1.1v1.1h-1.1zM214.6 130.9h1.1v1.1h-1.1zM208.7 137.7h1.1v1.1h-1.1zM224.3 131.6h1.1v1.1h-1.1zM219.1 136.5h1.1v1.1h-1.1zM202.7 137.5h1.1v1.1h-1.1zM218.8 131.1h1.1v1.1h-1.1zM196.6 134.4h1.1v1.1h-1.1zM209.0 143.0h1.1v1.1h-1.1zM199.9 140.1h1.1v1.1h-1.1zM210.9 132.1h1.1v1.1h-1.1zM227.9 135.3h1.1v1.1h-1.1zM209.6 135.8h1.1v1.1h-1.1zM197.9 142.2h1.1v1.1h-1.1zM220.8 137.7h1.1v1.1h-1.1zM212.9 136.5h1.1v1.1h-1.1zM212.0 130.9h1.1v1.1h-1.1zM208.7 134.2h1.1v1.1h-1.1zM211.3 140.3h1.1v1.1h-1.1zM228.1 139.2h1.1v1.1h-1.1zM197.6 132.5h1.1v1.1h-1.1zM187.9 143.3h1.1v1.1h-1.1z" fill="#000" fill-opacity="0.46799999999999997"/>
<path d="M205.2 138.9h1.1v1.1h-1.1zM199.2 140.3h1.1v1.1h-1.1zM216.8 135.3h1.1v1.1h-1.1zM192.0 150.1h1.1v1.1h-1.1zM227.5 134.1h1.1v1.1h-1.1zM207.1 140.9h1.1v1.1h-1.1zM221.4 131.7h1.1v1.1h-1.1zM208.7 133.1h1.1v1.1h-1.1zM211.6 138.4h1.1v1.1h-1.1zM197.0 145.6h1.1v1.1h-1.1zM201.0 143.1h1.1v1.1h-1.1zM194.4 147.7h1.1v1.1h-1.1zM205.1 138.2h1.1v1.1h-1.1zM220.5 131.8h1.1v1.1h-1.1zM203.4 140.3h1.1v1.1h-1.1zM192.4 157.6h1.1v1.1h-1.1zM192.3 157.0h1.1v1.1h-1.1zM200.6 139.7h1.1v1.1h-1.1zM192.9 152.0h1.1v1.1h-1.1zM193.8 148.9h1.1v1.1h-1.1zM196.9 149.0h1.1v1.1h-1.1zM193.8 151.8h1.1v1.1h-1.1zM195.0 152.2h1.1v1.1h-1.1zM192.9 149.5h1.1v1.1h-1.1zM223.8 132.6h1.1v1.1h-1.1zM215.3 136.1h1.1v1.1h-1.1zM200.7 138.5h1.1v1.1h-1.1zM191.4 154.9h1.1v1.1h-1.1zM203.9 143.5h1.1v1.1h-1.1zM198.8 148.1h1.1v1.1h-1.1zM192.1 147.5h1.1v1.1h-1.1zM209.4 140.3h1.1v1.1h-1.1zM191.3 151.3h1.1v1.1h-1.1zM218.3 135.1h1.1v1.1h-1.1zM199.6 145.8h1.1v1.1h-1.1zM229.7 132.8h1.1v1.1h-1.1zM200.9 140.8h1.1v1.1h-1.1zM229.5 132.3h1.1v1.1h-1.1zM224.8 132.0h1.1v1.1h-1.1zM198.4 144.0h1.1v1.1h-1.1zM200.2 141.5h1.1v1.1h-1.1zM206.0 137.8h1.1v1.1h-1.1zM221.2 131.9h1.1v1.1h-1.1zM190.4 156.2h1.1v1.1h-1.1zM192.3 144.8h1.1v1.1h-1.1zM195.6 144.3h1.1v1.1h-1.1zM194.0 147.6h1.1v1.1h-1.1zM194.2 142.8h1.1v1.1h-1.1zM196.8 147.0h1.1v1.1h-1.1zM193.6 146.4h1.1v1.1h-1.1zM203.8 144.7h1.1v1.1h-1.1zM195.2 140.6h1.1v1.1h-1.1zM197.5 156.9h1.1v1.1h-1.1zM190.6 148.8h1.1v1.1h-1.1zM195.9 144.0h1.1v1.1h-1.1zM195.2 144.3h1.1v1.1h-1.1zM196.3 154.1h1.1v1.1h-1.1zM199.3 148.0h1.1v1.1h-1.1zM198.8 134.8h1.1v1.1h-1.1zM195.1 148.2h1.1v1.1h-1.1zM198.1 148.5h1.1v1.1h-1.1zM200.3 147.1h1.1v1.1h-1.1zM196.8 150.0h1.1v1.1h-1.1zM199.8 146.3h1.1v1.1h-1.1zM204.1 144.5h1.1v1.1h-1.1zM195.3 141.6h1.1v1.1h-1.1zM193.7 139.5h1.1v1.1h-1.1zM195.9 148.1h1.1v1.1h-1.1zM194.9 145.2h1.1v1.1h-1.1zM191.4 142.8h1.1v1.1h-1.1zM200.8 150.8h1.1v1.1h-1.1zM206.5 130.5h1.1v1.1h-1.1zM209.2 136.3h1.1v1.1h-1.1zM202.3 141.6h1.1v1.1h-1.1zM219.1 137.0h1.1v1.1h-1.1zM208.6 130.3h1.1v1.1h-1.1zM207.1 137.4h1.1v1.1h-1.1zM197.0 135.0h1.1v1.1h-1.1zM204.5 134.5h1.1v1.1h-1.1zM216.2 135.3h1.1v1.1h-1.1zM232.4 139.1h1.1v1.1h-1.1zM216.4 135.0h1.1v1.1h-1.1zM220.3 138.5h1.1v1.1h-1.1zM216.5 131.0h1.1v1.1h-1.1zM209.1 132.4h1.1v1.1h-1.1zM216.8 134.1h1.1v1.1h-1.1zM218.4 135.9h1.1v1.1h-1.1zM229.5 132.3h1.1v1.1h-1.1zM228.9 134.1h1.1v1.1h-1.1zM232.3 135.0h1.1v1.1h-1.1zM205.1 135.0h1.1v1.1h-1.1zM210.9 132.1h1.1v1.1h-1.1zM226.6 130.7h1.1v1.1h-1.1zM218.3 135.3h1.1v1.1h-1.1zM202.0 141.0h1.1v1.1h-1.1zM225.0 136.9h1.1v1.1h-1.1zM189.0 133.8h1.1v1.1h-1.1z" fill="#000" fill-opacity="0.46799999999999997"/>
<line x1="48.00" y1="119.80" x2="62.00" y2="119.80" stroke="#333" stroke-width="1.1" />
<line x1="142.00" y1="119.80" x2="160.00" y2="119.80" stroke="#333" stroke-width="1.1" />
<line x1="187.50" y1="122.30" x2="233.00" y2="122.30" stroke="#9a9a9a" stroke-width="1.8" />
<line x1="48.00" y1="168.30" x2="66.00" y2="168.30" stroke="#444" stroke-width="1.0" />
<line x1="141.00" y1="168.30" x2="158.00" y2="168.30" stroke="#444" stroke-width="1.0" />
<line x1="189.00" y1="168.30" x2="200.00" y2="168.30" stroke="#444" stroke-width="1.0" />
<line x1="47.00" y1="97.80" x2="233.50" y2="97.80" stroke="#222" stroke-width="0.8" />
<line x1="47.00" y1="146.30" x2="233.50" y2="146.30" stroke="#222" stroke-width="0.8" />
<text x="235.00" y="101.30" font-size="9.4" text-anchor="start" font-weight="normal" fill="#111" textLength="38" lengthAdjust="spacingAndGlyphs" >OCILY19</text>
<text x="235.00" y="150.20" font-size="9.4" text-anchor="start" font-weight="normal" fill="#111" textLength="38" lengthAdjust="spacingAndGlyphs" >OCILY10</text>
<line x1="43.60" y1="102.00" x2="43.60" y2="173.20" stroke="#000" stroke-width="1.3" />
<line x1="43.00" y1="173.20" x2="120.00" y2="173.20" stroke="#000" stroke-width="1.3" />
<path d="M38.5,102.5 L43.6,97.6 L48.7,102.5 Z" fill="#000"/>
<path d="M119.5,167.5 L126,173.2 L119.5,178.9 Z" fill="#000"/>
<text x="0" y="0" font-size="11.6" text-anchor="middle" font-weight="normal" fill="#111" transform="translate(36.00,110.50) rotate(-90)" textLength="75" lengthAdjust="spacingAndGlyphs">PE-Texas Red</text>
<text x="47.00" y="184.00" font-size="9.2" text-anchor="start" font-weight="normal" fill="#111" textLength="64.5" lengthAdjust="spacingAndGlyphs" >Forward Scatter</text>
<line x1="358.00" y1="64.00" x2="358.00" y2="134.00" stroke="#111" stroke-width="1.4" />
<line x1="358.00" y1="143.50" x2="358.00" y2="172.60" stroke="#111" stroke-width="1.4" />
<line x1="353.00" y1="172.60" x2="510.00" y2="172.60" stroke="#111" stroke-width="1.4" />
<line x1="353.00" y1="134.00" x2="358.00" y2="134.00" stroke="#111" stroke-width="1.3" />
<line x1="353.00" y1="143.50" x2="358.00" y2="143.50" stroke="#111" stroke-width="1.3" />
<line x1="353.00" y1="68.83" x2="358.00" y2="68.83" stroke="#111" stroke-width="1.3" />
<text x="349.50" y="72.83" font-size="11.5" text-anchor="end" font-weight="normal" fill="#111" >250</text>
<line x1="353.00" y1="82.14" x2="358.00" y2="82.14" stroke="#111" stroke-width="1.3" />
<text x="349.50" y="86.14" font-size="11.5" text-anchor="end" font-weight="normal" fill="#111" >200</text>
<line x1="353.00" y1="95.46" x2="358.00" y2="95.46" stroke="#111" stroke-width="1.3" />
<text x="349.50" y="99.46" font-size="11.5" text-anchor="end" font-weight="normal" fill="#111" >150</text>
<line x1="353.00" y1="108.77" x2="358.00" y2="108.77" stroke="#111" stroke-width="1.3" />
<text x="349.50" y="112.77" font-size="11.5" text-anchor="end" font-weight="normal" fill="#111" >100</text>
<line x1="353.00" y1="122.09" x2="358.00" y2="122.09" stroke="#111" stroke-width="1.3" />
<text x="349.50" y="126.09" font-size="11.5" text-anchor="end" font-weight="normal" fill="#111" >50</text>
<line x1="353.00" y1="143.92" x2="358.00" y2="143.92" stroke="#111" stroke-width="1.3" />
<text x="349.50" y="147.92" font-size="11.5" text-anchor="end" font-weight="normal" fill="#111" >6</text>
<line x1="353.00" y1="153.38" x2="358.00" y2="153.38" stroke="#111" stroke-width="1.3" />
<text x="349.50" y="157.38" font-size="11.5" text-anchor="end" font-weight="normal" fill="#111" >4</text>
<line x1="353.00" y1="162.84" x2="358.00" y2="162.84" stroke="#111" stroke-width="1.3" />
<text x="349.50" y="166.84" font-size="11.5" text-anchor="end" font-weight="normal" fill="#111" >2</text>
<line x1="353.00" y1="172.30" x2="358.00" y2="172.30" stroke="#111" stroke-width="1.3" />
<text x="349.50" y="176.30" font-size="11.5" text-anchor="end" font-weight="normal" fill="#111" >0</text>
<text x="0" y="0" font-size="12.5" text-anchor="middle" font-weight="normal" fill="#111" transform="translate(322.00,119.00) rotate(-90)" textLength="100" lengthAdjust="spacingAndGlyphs">miR-181a/RNU6B</text>
<line x1="377.80" y1="172.60" x2="377.80" y2="177.50" stroke="#111" stroke-width="1.3" />
<line x1="418.00" y1="172.60" x2="418.00" y2="177.50" stroke="#111" stroke-width="1.3" />
<line x1="457.00" y1="172.60" x2="457.00" y2="177.50" stroke="#111" stroke-width="1.3" />
<line x1="497.00" y1="172.60" x2="497.00" y2="177.50" stroke="#111" stroke-width="1.3" />
<line x1="364.30" y1="116.60" x2="391.30" y2="116.60" stroke="#111" stroke-width="1.6" />
<line x1="377.80" y1="111.00" x2="377.80" y2="120.50" stroke="#111" stroke-width="1.5" />
<line x1="371.30" y1="111.00" x2="384.30" y2="111.00" stroke="#111" stroke-width="1.6" />
<line x1="371.30" y1="120.50" x2="384.30" y2="120.50" stroke="#111" stroke-width="1.6" />
<circle cx="378" cy="110.6" r="2.1" fill="#000"/>
<path d="M372.5,121 L375.2,116.5 L377.9,121 Z M378.3,121 L381,116.5 L383.7,121 Z" fill="#000"/>
<line x1="404.50" y1="80.80" x2="431.50" y2="80.80" stroke="#111" stroke-width="1.6" />
<line x1="418.00" y1="65.80" x2="418.00" y2="95.80" stroke="#111" stroke-width="1.5" />
<line x1="411.50" y1="65.80" x2="424.50" y2="65.80" stroke="#111" stroke-width="1.6" />
<line x1="411.50" y1="95.80" x2="424.50" y2="95.80" stroke="#111" stroke-width="1.6" />
<circle cx="418" cy="78" r="2.1" fill="#000"/>
<rect x="419" y="85.2" width="4.2" height="4.2" fill="#000"/><rect x="413" y="89" width="4.2" height="4.2" fill="#000"/>
<line x1="444.00" y1="164.60" x2="470.00" y2="164.60" stroke="#111" stroke-width="1.6" />
<line x1="457.00" y1="161.00" x2="457.00" y2="167.50" stroke="#111" stroke-width="1.5" />
<line x1="451.00" y1="161.00" x2="463.00" y2="161.00" stroke="#111" stroke-width="1.6" />
<line x1="451.00" y1="167.50" x2="463.00" y2="167.50" stroke="#111" stroke-width="1.6" />
<path d="M450.5,163 L453.3,158.6 L456.1,163 Z" fill="#000"/><rect x="459" y="163.2" width="3.8" height="3.8" fill="#000"/>
<line x1="484.50" y1="153.00" x2="508.50" y2="153.00" stroke="#111" stroke-width="1.6" />
<line x1="496.50" y1="146.60" x2="496.50" y2="159.50" stroke="#111" stroke-width="1.5" />
<line x1="490.50" y1="146.60" x2="502.50" y2="146.60" stroke="#111" stroke-width="1.6" />
<line x1="490.50" y1="159.50" x2="502.50" y2="159.50" stroke="#111" stroke-width="1.6" />
<path d="M492.9,135.6 L498.7,135.6 L495.8,140.3 Z" fill="#000"/>
<path d="M490.5,159.6 L493.3,155.2 L496.1,159.6 Z M496.9,159.6 L499.7,155.2 L502.5,159.6 Z" fill="#000"/>
<path d="M380.8,61 V58.5 H411.5 V61" fill="none" stroke="#111" stroke-width="1.4"/>
<text x="396.00" y="57.00" font-size="13" text-anchor="middle" font-weight="normal" fill="#111" >**</text>
<path d="M464.6,127.5 V125 H495 V127.5" fill="none" stroke="#111" stroke-width="1.2"/>
<text x="479.80" y="123.50" font-size="13" text-anchor="middle" font-weight="normal" fill="#111" >*</text>
<text x="398.30" y="192.30" font-size="12.3" text-anchor="middle" font-weight="normal" fill="#111" textLength="50.5" lengthAdjust="spacingAndGlyphs" >OCILY19</text>
<text x="478.00" y="192.30" font-size="12.3" text-anchor="middle" font-weight="normal" fill="#111" textLength="50" lengthAdjust="spacingAndGlyphs" >OCILY10</text>
<text x="323.50" y="209.00" font-size="11.5" text-anchor="start" font-weight="normal" fill="#111" textLength="25" lengthAdjust="spacingAndGlyphs" >DOX</text>
<line x1="374.50" y1="205.00" x2="381.10" y2="205.00" stroke="#111" stroke-width="1.0" />
<line x1="454.70" y1="205.00" x2="461.30" y2="205.00" stroke="#111" stroke-width="1.0" />
<line x1="414.60" y1="205.00" x2="421.00" y2="205.00" stroke="#111" stroke-width="1.0" />
<line x1="417.80" y1="201.80" x2="417.80" y2="208.20" stroke="#111" stroke-width="1.0" />
<line x1="493.80" y1="205.00" x2="500.20" y2="205.00" stroke="#111" stroke-width="1.0" />
<line x1="497.00" y1="201.80" x2="497.00" y2="208.20" stroke="#111" stroke-width="1.0" />
<line x1="66.30" y1="273.00" x2="66.30" y2="376.50" stroke="#111" stroke-width="1.5" />
<line x1="66.30" y1="376.50" x2="214.00" y2="376.50" stroke="#111" stroke-width="1.5" />
<line x1="61.50" y1="273.55" x2="66.30" y2="273.55" stroke="#111" stroke-width="1.4" />
<text x="57.80" y="277.75" font-size="12" text-anchor="end" font-weight="normal" fill="#111" textLength="26.8" lengthAdjust="spacingAndGlyphs" >2500</text>
<line x1="61.50" y1="294.14" x2="66.30" y2="294.14" stroke="#111" stroke-width="1.4" />
<text x="57.80" y="298.34" font-size="12" text-anchor="end" font-weight="normal" fill="#111" textLength="26.8" lengthAdjust="spacingAndGlyphs" >2000</text>
<line x1="61.50" y1="314.73" x2="66.30" y2="314.73" stroke="#111" stroke-width="1.4" />
<text x="57.80" y="318.93" font-size="12" text-anchor="end" font-weight="normal" fill="#111" textLength="26.8" lengthAdjust="spacingAndGlyphs" >1500</text>
<line x1="61.50" y1="335.32" x2="66.30" y2="335.32" stroke="#111" stroke-width="1.4" />
<text x="57.80" y="339.52" font-size="12" text-anchor="end" font-weight="normal" fill="#111" textLength="26.8" lengthAdjust="spacingAndGlyphs" >1000</text>
<line x1="61.50" y1="355.91" x2="66.30" y2="355.91" stroke="#111" stroke-width="1.4" />
<text x="57.80" y="360.11" font-size="12" text-anchor="end" font-weight="normal" fill="#111" textLength="20" lengthAdjust="spacingAndGlyphs" >500</text>
<line x1="108.60" y1="376.50" x2="108.60" y2="381.00" stroke="#111" stroke-width="1.4" />
<text x="108.60" y="396.70" font-size="12" text-anchor="middle" font-weight="normal" fill="#111" textLength="13.5" lengthAdjust="spacingAndGlyphs" >10</text>
<line x1="152.40" y1="376.50" x2="152.40" y2="381.00" stroke="#111" stroke-width="1.4" />
<text x="152.40" y="396.70" font-size="12" text-anchor="middle" font-weight="normal" fill="#111" textLength="13.5" lengthAdjust="spacingAndGlyphs" >20</text>
<line x1="196.20" y1="376.50" x2="196.20" y2="381.00" stroke="#111" stroke-width="1.4" />
<text x="196.20" y="396.70" font-size="12" text-anchor="middle" font-weight="normal" fill="#111" textLength="13.5" lengthAdjust="spacingAndGlyphs" >30</text>
<text x="54.00" y="396.70" font-size="12" text-anchor="middle" font-weight="normal" fill="#111" >0</text>
<text x="0" y="0" font-size="14" text-anchor="middle" font-weight="normal" fill="#111" transform="translate(22.50,322.00) rotate(-90)" textLength="80" lengthAdjust="spacingAndGlyphs">Tumor volume</text>
<text x="142.10" y="415.60" font-size="13.8" text-anchor="middle" font-weight="normal" fill="#111" textLength="26.8" lengthAdjust="spacingAndGlyphs" >Days</text>
<text x="141.80" y="260.00" font-size="14.2" text-anchor="middle" font-weight="normal" fill="#111" textLength="58.5" lengthAdjust="spacingAndGlyphs" >OCILY19</text>
<polyline points="64.80,376.50 82.32,372.38 99.84,346.85 108.60,348.50 121.74,340.26 141.45,310.61" fill="none" stroke="#7d8b9b" stroke-width="2.0" stroke-linejoin="round"/>
<polyline points="64.80,376.50 86.70,371.56 104.22,359.20 117.36,346.85 130.50,329.14 139.26,311.44" fill="none" stroke="#7d8b9b" stroke-width="2.0" stroke-linejoin="round"/>
<polyline points="64.80,376.50 91.08,374.03 104.22,365.79 112.98,353.44 126.12,350.14 139.26,334.50 156.78,312.67" fill="none" stroke="#7d8b9b" stroke-width="2.0" stroke-linejoin="round"/>
<polyline points="64.80,376.50 82.32,376.50 104.22,368.26 117.36,358.38 130.50,349.32 143.64,340.26 156.78,327.91" fill="none" stroke="#7d8b9b" stroke-width="2.0" stroke-linejoin="round"/>
<path d="M80.22,374.06 L82.32,370.07 L84.42,374.06 Z" fill="#7d8b9b"/><path d="M97.74,348.53 L99.84,344.54 L101.94,348.53 Z" fill="#7d8b9b"/><path d="M106.50,350.18 L108.60,346.19 L110.70,350.18 Z" fill="#7d8b9b"/><path d="M119.64,341.94 L121.74,337.95 L123.84,341.94 Z" fill="#7d8b9b"/><path d="M139.35,312.29 L141.45,308.30 L143.55,312.29 Z" fill="#7d8b9b"/><path d="M84.60,373.24 L86.70,369.25 L88.80,373.24 Z" fill="#7d8b9b"/><path d="M102.12,360.88 L104.22,356.89 L106.32,360.88 Z" fill="#7d8b9b"/><path d="M115.26,348.53 L117.36,344.54 L119.46,348.53 Z" fill="#7d8b9b"/><path d="M128.40,330.82 L130.50,326.83 L132.60,330.82 Z" fill="#7d8b9b"/><path d="M137.16,313.12 L139.26,309.13 L141.36,313.12 Z" fill="#7d8b9b"/><path d="M88.98,375.71 L91.08,371.72 L93.18,375.71 Z" fill="#7d8b9b"/><path d="M102.12,367.47 L104.22,363.48 L106.32,367.47 Z" fill="#7d8b9b"/><path d="M110.88,355.12 L112.98,351.13 L115.08,355.12 Z" fill="#7d8b9b"/><path d="M124.02,351.82 L126.12,347.83 L128.22,351.82 Z" fill="#7d8b9b"/><path d="M137.16,336.18 L139.26,332.19 L141.36,336.18 Z" fill="#7d8b9b"/><path d="M154.68,314.35 L156.78,310.36 L158.88,314.35 Z" fill="#7d8b9b"/><path d="M80.22,378.18 L82.32,374.19 L84.42,378.18 Z" fill="#7d8b9b"/><path d="M102.12,369.94 L104.22,365.95 L106.32,369.94 Z" fill="#7d8b9b"/><path d="M115.26,360.06 L117.36,356.07 L119.46,360.06 Z" fill="#7d8b9b"/><path d="M128.40,351.00 L130.50,347.01 L132.60,351.00 Z" fill="#7d8b9b"/><path d="M141.54,341.94 L143.64,337.95 L145.74,341.94 Z" fill="#7d8b9b"/><path d="M154.68,329.59 L156.78,325.60 L158.88,329.59 Z" fill="#7d8b9b"/>
<polyline points="64.80,376.50 69.18,374.85 80.13,365.38 88.89,341.09 99.84,315.55" fill="none" stroke="#a3173d" stroke-width="2.0" stroke-linejoin="round"/>
<polyline points="64.80,376.50 73.56,376.50 86.70,375.26 104.22,368.26 112.98,351.79 126.12,340.26 139.26,331.20 148.02,321.73 156.78,302.38" fill="none" stroke="#a3173d" stroke-width="2.0" stroke-linejoin="round"/>
<polyline points="64.80,376.50 77.94,376.50 99.84,376.50 108.60,374.85 121.74,369.50 134.88,360.85 148.02,350.14 156.78,347.67 165.54,346.03 172.11,321.73 187.44,297.43" fill="none" stroke="#a3173d" stroke-width="2.0" stroke-linejoin="round"/>
<polyline points="64.80,376.50 82.32,376.50 95.46,374.03 108.60,364.15 121.74,347.67 134.88,337.38 143.64,329.14 152.40,335.32 165.54,320.91 174.30,307.32" fill="none" stroke="#a3173d" stroke-width="2.0" stroke-linejoin="round"/>
<polyline points="64.80,376.50 86.70,375.68 99.84,372.38 112.98,356.73 126.12,345.20 141.45,339.85 152.40,327.91 165.54,314.73" fill="none" stroke="#a3173d" stroke-width="2.0" stroke-linejoin="round"/>
<polyline points="64.80,376.50 91.08,376.50 108.60,375.68 121.74,369.91 130.50,363.32 139.26,351.79 148.02,344.38 154.59,335.32 161.16,322.97" fill="none" stroke="#a3173d" stroke-width="2.0" stroke-linejoin="round"/>
<rect x="62.90" y="374.60" width="3.8" height="3.8" fill="#a3173d"/><rect x="67.28" y="372.95" width="3.8" height="3.8" fill="#a3173d"/><rect x="78.23" y="363.48" width="3.8" height="3.8" fill="#a3173d"/><rect x="86.99" y="339.19" width="3.8" height="3.8" fill="#a3173d"/><rect x="97.94" y="313.65" width="3.8" height="3.8" fill="#a3173d"/><rect x="62.90" y="374.60" width="3.8" height="3.8" fill="#a3173d"/><rect x="71.66" y="374.60" width="3.8" height="3.8" fill="#a3173d"/><rect x="84.80" y="373.36" width="3.8" height="3.8" fill="#a3173d"/><rect x="102.32" y="366.36" width="3.8" height="3.8" fill="#a3173d"/><rect x="111.08" y="349.89" width="3.8" height="3.8" fill="#a3173d"/><rect x="124.22" y="338.36" width="3.8" height="3.8" fill="#a3173d"/><rect x="137.36" y="329.30" width="3.8" height="3.8" fill="#a3173d"/><rect x="146.12" y="319.83" width="3.8" height="3.8" fill="#a3173d"/><rect x="154.88" y="300.48" width="3.8" height="3.8" fill="#a3173d"/><rect x="62.90" y="374.60" width="3.8" height="3.8" fill="#a3173d"/><rect x="76.04" y="374.60" width="3.8" height="3.8" fill="#a3173d"/><rect x="97.94" y="374.60" width="3.8" height="3.8" fill="#a3173d"/><rect x="106.70" y="372.95" width="3.8" height="3.8" fill="#a3173d"/><rect x="119.84" y="367.60" width="3.8" height="3.8" fill="#a3173d"/><rect x="132.98" y="358.95" width="3.8" height="3.8" fill="#a3173d"/><rect x="146.12" y="348.24" width="3.8" height="3.8" fill="#a3173d"/><rect x="154.88" y="345.77" width="3.8" height="3.8" fill="#a3173d"/><rect x="163.64" y="344.13" width="3.8" height="3.8" fill="#a3173d"/><rect x="170.21" y="319.83" width="3.8" height="3.8" fill="#a3173d"/><rect x="185.54" y="295.53" width="3.8" height="3.8" fill="#a3173d"/><rect x="62.90" y="374.60" width="3.8" height="3.8" fill="#a3173d"/><rect x="80.42" y="374.60" width="3.8" height="3.8" fill="#a3173d"/><rect x="93.56" y="372.13" width="3.8" height="3.8" fill="#a3173d"/><rect x="106.70" y="362.25" width="3.8" height="3.8" fill="#a3173d"/><rect x="119.84" y="345.77" width="3.8" height="3.8" fill="#a3173d"/><rect x="132.98" y="335.48" width="3.8" height="3.8" fill="#a3173d"/><rect x="141.74" y="327.24" width="3.8" height="3.8" fill="#a3173d"/><rect x="150.50" y="333.42" width="3.8" height="3.8" fill="#a3173d"/><rect x="163.64" y="319.01" width="3.8" height="3.8" fill="#a3173d"/><rect x="172.40" y="305.42" width="3.8" height="3.8" fill="#a3173d"/><rect x="62.90" y="374.60" width="3.8" height="3.8" fill="#a3173d"/><rect x="84.80" y="373.78" width="3.8" height="3.8" fill="#a3173d"/><rect x="97.94" y="370.48" width="3.8" height="3.8" fill="#a3173d"/><rect x="111.08" y="354.83" width="3.8" height="3.8" fill="#a3173d"/><rect x="124.22" y="343.30" width="3.8" height="3.8" fill="#a3173d"/><rect x="139.55" y="337.95" width="3.8" height="3.8" fill="#a3173d"/><rect x="150.50" y="326.01" width="3.8" height="3.8" fill="#a3173d"/><rect x="163.64" y="312.83" width="3.8" height="3.8" fill="#a3173d"/><rect x="62.90" y="374.60" width="3.8" height="3.8" fill="#a3173d"/><rect x="89.18" y="374.60" width="3.8" height="3.8" fill="#a3173d"/><rect x="106.70" y="373.78" width="3.8" height="3.8" fill="#a3173d"/><rect x="119.84" y="368.01" width="3.8" height="3.8" fill="#a3173d"/><rect x="128.60" y="361.42" width="3.8" height="3.8" fill="#a3173d"/><rect x="137.36" y="349.89" width="3.8" height="3.8" fill="#a3173d"/><rect x="146.12" y="342.48" width="3.8" height="3.8" fill="#a3173d"/><rect x="152.69" y="333.42" width="3.8" height="3.8" fill="#a3173d"/><rect x="159.26" y="321.07" width="3.8" height="3.8" fill="#a3173d"/>
<path d="M125.8,294.6 V291 H173 V294.6" fill="none" stroke="#111" stroke-width="1.5"/>
<text x="150.00" y="288.50" font-size="12" text-anchor="middle" font-weight="normal" fill="#111" textLength="12.5" lengthAdjust="spacingAndGlyphs" >ns</text>
<line x1="290.00" y1="267.00" x2="290.00" y2="374.00" stroke="#111" stroke-width="1.5" />
<line x1="290.00" y1="374.00" x2="440.60" y2="374.00" stroke="#111" stroke-width="1.5" />
<line x1="285.20" y1="271.65" x2="290.00" y2="271.65" stroke="#111" stroke-width="1.4" />
<text x="281.50" y="275.85" font-size="12" text-anchor="end" font-weight="normal" fill="#111" textLength="26.8" lengthAdjust="spacingAndGlyphs" >2500</text>
<line x1="285.20" y1="292.12" x2="290.00" y2="292.12" stroke="#111" stroke-width="1.4" />
<text x="281.50" y="296.32" font-size="12" text-anchor="end" font-weight="normal" fill="#111" textLength="26.8" lengthAdjust="spacingAndGlyphs" >2000</text>
<line x1="285.20" y1="312.59" x2="290.00" y2="312.59" stroke="#111" stroke-width="1.4" />
<text x="281.50" y="316.79" font-size="12" text-anchor="end" font-weight="normal" fill="#111" textLength="26.8" lengthAdjust="spacingAndGlyphs" >1500</text>
<line x1="285.20" y1="333.06" x2="290.00" y2="333.06" stroke="#111" stroke-width="1.4" />
<text x="281.50" y="337.26" font-size="12" text-anchor="end" font-weight="normal" fill="#111" textLength="26.8" lengthAdjust="spacingAndGlyphs" >1000</text>
<line x1="285.20" y1="353.53" x2="290.00" y2="353.53" stroke="#111" stroke-width="1.4" />
<text x="281.50" y="357.73" font-size="12" text-anchor="end" font-weight="normal" fill="#111" textLength="20" lengthAdjust="spacingAndGlyphs" >500</text>
<line x1="317.53" y1="374.00" x2="317.53" y2="378.50" stroke="#111" stroke-width="1.4" />
<text x="317.53" y="394.20" font-size="12" text-anchor="middle" font-weight="normal" fill="#111" textLength="13.5" lengthAdjust="spacingAndGlyphs" >10</text>
<line x1="344.66" y1="374.00" x2="344.66" y2="378.50" stroke="#111" stroke-width="1.4" />
<text x="344.66" y="394.20" font-size="12" text-anchor="middle" font-weight="normal" fill="#111" textLength="13.5" lengthAdjust="spacingAndGlyphs" >20</text>
<line x1="371.79" y1="374.00" x2="371.79" y2="378.50" stroke="#111" stroke-width="1.4" />
<text x="371.79" y="394.20" font-size="12" text-anchor="middle" font-weight="normal" fill="#111" textLength="13.5" lengthAdjust="spacingAndGlyphs" >30</text>
<line x1="398.92" y1="374.00" x2="398.92" y2="378.50" stroke="#111" stroke-width="1.4" />
<text x="398.92" y="394.20" font-size="12" text-anchor="middle" font-weight="normal" fill="#111" textLength="13.5" lengthAdjust="spacingAndGlyphs" >40</text>
<line x1="426.05" y1="374.00" x2="426.05" y2="378.50" stroke="#111" stroke-width="1.4" />
<text x="426.05" y="394.20" font-size="12" text-anchor="middle" font-weight="normal" fill="#111" textLength="13.5" lengthAdjust="spacingAndGlyphs" >50</text>
<text x="277.50" y="394.20" font-size="12" text-anchor="middle" font-weight="normal" fill="#111" >0</text>
<text x="0" y="0" font-size="14" text-anchor="middle" font-weight="normal" fill="#111" transform="translate(246.20,322.00) rotate(-90)" textLength="80" lengthAdjust="spacingAndGlyphs">Tumor volume</text>
<text x="365.20" y="413.50" font-size="13.8" text-anchor="middle" font-weight="normal" fill="#111" textLength="26.8" lengthAdjust="spacingAndGlyphs" >Days</text>
<text x="365.70" y="260.00" font-size="14.2" text-anchor="middle" font-weight="normal" fill="#111" textLength="59.4" lengthAdjust="spacingAndGlyphs" >OCILY10</text>
<polyline points="290.40,374.00 328.38,374.00 339.23,371.54 350.09,366.63 360.94,359.67 369.08,351.07 377.22,341.25 385.35,333.06 390.78,318.73 396.75,301.54" fill="none" stroke="#7d8b9b" stroke-width="2.0" stroke-linejoin="round"/>
<polyline points="290.40,374.00 331.09,374.00 341.95,370.72 352.80,364.99 363.65,355.58 371.79,345.34 379.93,339.20 388.07,335.11 396.21,328.97 404.35,319.55 410.31,304.81" fill="none" stroke="#7d8b9b" stroke-width="2.0" stroke-linejoin="round"/>
<polyline points="290.40,374.00 333.81,374.00 344.66,372.36 358.22,365.81 369.08,358.44 377.22,352.71 385.35,345.34 390.78,340.84 398.92,333.06 409.23,326.10 416.28,308.09" fill="none" stroke="#7d8b9b" stroke-width="2.0" stroke-linejoin="round"/>
<polyline points="290.40,374.00 336.52,374.00 350.09,371.54 363.65,363.76 374.50,357.62 385.35,349.44 393.49,337.15 404.35,331.01 412.49,328.97 423.34,323.64 429.31,308.50" fill="none" stroke="#7d8b9b" stroke-width="2.0" stroke-linejoin="round"/>
<polyline points="290.40,374.00 325.67,374.00 339.23,369.91 352.80,361.72 363.65,353.53 374.50,348.62 382.64,345.34 390.78,337.15 398.92,326.10" fill="none" stroke="#7d8b9b" stroke-width="2.0" stroke-linejoin="round"/>
<path d="M326.28,375.68 L328.38,371.69 L330.48,375.68 Z" fill="#7d8b9b"/><path d="M337.13,373.22 L339.23,369.23 L341.33,373.22 Z" fill="#7d8b9b"/><path d="M347.99,368.31 L350.09,364.32 L352.19,368.31 Z" fill="#7d8b9b"/><path d="M358.84,361.35 L360.94,357.36 L363.04,361.35 Z" fill="#7d8b9b"/><path d="M366.98,352.75 L369.08,348.76 L371.18,352.75 Z" fill="#7d8b9b"/><path d="M375.12,342.93 L377.22,338.94 L379.32,342.93 Z" fill="#7d8b9b"/><path d="M383.25,334.74 L385.35,330.75 L387.45,334.74 Z" fill="#7d8b9b"/><path d="M388.68,320.41 L390.78,316.42 L392.88,320.41 Z" fill="#7d8b9b"/><path d="M394.65,303.22 L396.75,299.23 L398.85,303.22 Z" fill="#7d8b9b"/><path d="M328.99,375.68 L331.09,371.69 L333.19,375.68 Z" fill="#7d8b9b"/><path d="M339.85,372.40 L341.95,368.41 L344.05,372.40 Z" fill="#7d8b9b"/><path d="M350.70,366.67 L352.80,362.68 L354.90,366.67 Z" fill="#7d8b9b"/><path d="M361.55,357.26 L363.65,353.27 L365.75,357.26 Z" fill="#7d8b9b"/><path d="M369.69,347.02 L371.79,343.03 L373.89,347.02 Z" fill="#7d8b9b"/><path d="M377.83,340.88 L379.93,336.89 L382.03,340.88 Z" fill="#7d8b9b"/><path d="M385.97,336.79 L388.07,332.80 L390.17,336.79 Z" fill="#7d8b9b"/><path d="M394.11,330.65 L396.21,326.66 L398.31,330.65 Z" fill="#7d8b9b"/><path d="M402.25,321.23 L404.35,317.24 L406.45,321.23 Z" fill="#7d8b9b"/><path d="M408.21,306.49 L410.31,302.50 L412.41,306.49 Z" fill="#7d8b9b"/><path d="M331.71,375.68 L333.81,371.69 L335.91,375.68 Z" fill="#7d8b9b"/><path d="M342.56,374.04 L344.66,370.05 L346.76,374.04 Z" fill="#7d8b9b"/><path d="M356.12,367.49 L358.22,363.50 L360.32,367.49 Z" fill="#7d8b9b"/><path d="M366.98,360.12 L369.08,356.13 L371.18,360.12 Z" fill="#7d8b9b"/><path d="M375.12,354.39 L377.22,350.40 L379.32,354.39 Z" fill="#7d8b9b"/><path d="M383.25,347.02 L385.35,343.03 L387.45,347.02 Z" fill="#7d8b9b"/><path d="M388.68,342.52 L390.78,338.53 L392.88,342.52 Z" fill="#7d8b9b"/><path d="M396.82,334.74 L398.92,330.75 L401.02,334.74 Z" fill="#7d8b9b"/><path d="M407.13,327.78 L409.23,323.79 L411.33,327.78 Z" fill="#7d8b9b"/><path d="M414.18,309.77 L416.28,305.78 L418.38,309.77 Z" fill="#7d8b9b"/><path d="M334.42,375.68 L336.52,371.69 L338.62,375.68 Z" fill="#7d8b9b"/><path d="M347.99,373.22 L350.09,369.23 L352.19,373.22 Z" fill="#7d8b9b"/><path d="M361.55,365.44 L363.65,361.45 L365.75,365.44 Z" fill="#7d8b9b"/><path d="M372.40,359.30 L374.50,355.31 L376.60,359.30 Z" fill="#7d8b9b"/><path d="M383.25,351.12 L385.35,347.13 L387.45,351.12 Z" fill="#7d8b9b"/><path d="M391.39,338.83 L393.49,334.84 L395.59,338.83 Z" fill="#7d8b9b"/><path d="M402.25,332.69 L404.35,328.70 L406.45,332.69 Z" fill="#7d8b9b"/><path d="M410.38,330.65 L412.49,326.66 L414.59,330.65 Z" fill="#7d8b9b"/><path d="M421.24,325.32 L423.34,321.33 L425.44,325.32 Z" fill="#7d8b9b"/><path d="M427.21,310.18 L429.31,306.19 L431.41,310.18 Z" fill="#7d8b9b"/><path d="M323.57,375.68 L325.67,371.69 L327.77,375.68 Z" fill="#7d8b9b"/><path d="M337.13,371.59 L339.23,367.60 L341.33,371.59 Z" fill="#7d8b9b"/><path d="M350.70,363.40 L352.80,359.41 L354.90,363.40 Z" fill="#7d8b9b"/><path d="M361.55,355.21 L363.65,351.22 L365.75,355.21 Z" fill="#7d8b9b"/><path d="M372.40,350.30 L374.50,346.31 L376.60,350.30 Z" fill="#7d8b9b"/><path d="M380.54,347.02 L382.64,343.03 L384.74,347.02 Z" fill="#7d8b9b"/><path d="M388.68,338.83 L390.78,334.84 L392.88,338.83 Z" fill="#7d8b9b"/><path d="M396.82,327.78 L398.92,323.79 L401.02,327.78 Z" fill="#7d8b9b"/>
<polyline points="290.40,374.00 301.25,373.59 312.10,371.54 322.96,356.81 331.09,355.58 341.95,345.34 350.09,337.15 358.22,326.10 360.94,304.81" fill="none" stroke="#a3173d" stroke-width="2.0" stroke-linejoin="round"/>
<polyline points="290.40,374.00 303.96,373.18 314.82,369.91 322.96,361.72 333.81,357.62 341.95,349.44 350.09,341.25 358.22,333.06 363.65,323.64 366.91,309.52" fill="none" stroke="#a3173d" stroke-width="2.0" stroke-linejoin="round"/>
<polyline points="290.40,374.00 306.68,372.77 317.53,367.86 328.38,360.49 339.23,352.71 347.37,345.34 355.51,335.11 363.65,326.92 371.79,316.68 377.49,290.89" fill="none" stroke="#a3173d" stroke-width="2.0" stroke-linejoin="round"/>
<polyline points="290.40,374.00 309.39,372.36 320.24,366.63 331.09,361.72 341.95,355.58 352.80,347.39 360.94,337.97 369.08,324.87 374.50,312.59 378.03,297.85" fill="none" stroke="#a3173d" stroke-width="2.0" stroke-linejoin="round"/>
<polyline points="290.40,374.00 312.10,372.36 322.96,365.81 333.81,360.49 344.66,353.53 355.51,344.52 366.36,333.06 374.50,320.78 386.17,306.04" fill="none" stroke="#a3173d" stroke-width="2.0" stroke-linejoin="round"/>
<polyline points="290.40,374.00 306.68,373.59 317.53,370.32 328.38,364.58 339.23,358.44 347.37,351.07 358.22,340.43 366.36,328.97 371.79,318.73 379.93,310.54" fill="none" stroke="#a3173d" stroke-width="2.0" stroke-linejoin="round"/>
<rect x="288.50" y="372.10" width="3.8" height="3.8" fill="#a3173d"/><rect x="299.35" y="371.69" width="3.8" height="3.8" fill="#a3173d"/><rect x="310.20" y="369.64" width="3.8" height="3.8" fill="#a3173d"/><rect x="321.06" y="354.91" width="3.8" height="3.8" fill="#a3173d"/><rect x="329.19" y="353.68" width="3.8" height="3.8" fill="#a3173d"/><rect x="340.05" y="343.44" width="3.8" height="3.8" fill="#a3173d"/><rect x="348.19" y="335.25" width="3.8" height="3.8" fill="#a3173d"/><rect x="356.32" y="324.20" width="3.8" height="3.8" fill="#a3173d"/><rect x="359.04" y="302.91" width="3.8" height="3.8" fill="#a3173d"/><rect x="288.50" y="372.10" width="3.8" height="3.8" fill="#a3173d"/><rect x="302.06" y="371.28" width="3.8" height="3.8" fill="#a3173d"/><rect x="312.92" y="368.01" width="3.8" height="3.8" fill="#a3173d"/><rect x="321.06" y="359.82" width="3.8" height="3.8" fill="#a3173d"/><rect x="331.91" y="355.72" width="3.8" height="3.8" fill="#a3173d"/><rect x="340.05" y="347.54" width="3.8" height="3.8" fill="#a3173d"/><rect x="348.19" y="339.35" width="3.8" height="3.8" fill="#a3173d"/><rect x="356.32" y="331.16" width="3.8" height="3.8" fill="#a3173d"/><rect x="361.75" y="321.74" width="3.8" height="3.8" fill="#a3173d"/><rect x="365.01" y="307.62" width="3.8" height="3.8" fill="#a3173d"/><rect x="288.50" y="372.10" width="3.8" height="3.8" fill="#a3173d"/><rect x="304.78" y="370.87" width="3.8" height="3.8" fill="#a3173d"/><rect x="315.63" y="365.96" width="3.8" height="3.8" fill="#a3173d"/><rect x="326.48" y="358.59" width="3.8" height="3.8" fill="#a3173d"/><rect x="337.33" y="350.81" width="3.8" height="3.8" fill="#a3173d"/><rect x="345.47" y="343.44" width="3.8" height="3.8" fill="#a3173d"/><rect x="353.61" y="333.21" width="3.8" height="3.8" fill="#a3173d"/><rect x="361.75" y="325.02" width="3.8" height="3.8" fill="#a3173d"/><rect x="369.89" y="314.78" width="3.8" height="3.8" fill="#a3173d"/><rect x="375.59" y="288.99" width="3.8" height="3.8" fill="#a3173d"/><rect x="288.50" y="372.10" width="3.8" height="3.8" fill="#a3173d"/><rect x="307.49" y="370.46" width="3.8" height="3.8" fill="#a3173d"/><rect x="318.34" y="364.73" width="3.8" height="3.8" fill="#a3173d"/><rect x="329.19" y="359.82" width="3.8" height="3.8" fill="#a3173d"/><rect x="340.05" y="353.68" width="3.8" height="3.8" fill="#a3173d"/><rect x="350.90" y="345.49" width="3.8" height="3.8" fill="#a3173d"/><rect x="359.04" y="336.07" width="3.8" height="3.8" fill="#a3173d"/><rect x="367.18" y="322.97" width="3.8" height="3.8" fill="#a3173d"/><rect x="372.60" y="310.69" width="3.8" height="3.8" fill="#a3173d"/><rect x="376.13" y="295.95" width="3.8" height="3.8" fill="#a3173d"/><rect x="288.50" y="372.10" width="3.8" height="3.8" fill="#a3173d"/><rect x="310.20" y="370.46" width="3.8" height="3.8" fill="#a3173d"/><rect x="321.06" y="363.91" width="3.8" height="3.8" fill="#a3173d"/><rect x="331.91" y="358.59" width="3.8" height="3.8" fill="#a3173d"/><rect x="342.76" y="351.63" width="3.8" height="3.8" fill="#a3173d"/><rect x="353.61" y="342.62" width="3.8" height="3.8" fill="#a3173d"/><rect x="364.46" y="331.16" width="3.8" height="3.8" fill="#a3173d"/><rect x="372.60" y="318.88" width="3.8" height="3.8" fill="#a3173d"/><rect x="384.27" y="304.14" width="3.8" height="3.8" fill="#a3173d"/><rect x="288.50" y="372.10" width="3.8" height="3.8" fill="#a3173d"/><rect x="304.78" y="371.69" width="3.8" height="3.8" fill="#a3173d"/><rect x="315.63" y="368.42" width="3.8" height="3.8" fill="#a3173d"/><rect x="326.48" y="362.68" width="3.8" height="3.8" fill="#a3173d"/><rect x="337.33" y="356.54" width="3.8" height="3.8" fill="#a3173d"/><rect x="345.47" y="349.17" width="3.8" height="3.8" fill="#a3173d"/><rect x="356.32" y="338.53" width="3.8" height="3.8" fill="#a3173d"/><rect x="364.46" y="327.07" width="3.8" height="3.8" fill="#a3173d"/><rect x="369.89" y="316.83" width="3.8" height="3.8" fill="#a3173d"/><rect x="378.03" y="308.64" width="3.8" height="3.8" fill="#a3173d"/>
<path d="M371.7,283 V279.8 H419 V283" fill="none" stroke="#111" stroke-width="1.5"/>
<text x="395.30" y="279.00" font-size="12" text-anchor="middle" font-weight="normal" fill="#111" textLength="21.5" lengthAdjust="spacingAndGlyphs" >****</text>
<line x1="445.50" y1="279.40" x2="458.00" y2="279.40" stroke="#a3173d" stroke-width="2" />
<rect x="449.60" y="277.40" width="4" height="4" fill="#a3173d"/>
<line x1="445.50" y1="290.80" x2="458.00" y2="290.80" stroke="#7d8b9b" stroke-width="2" />
<path d="M449.40,292.56 L451.60,288.38 L453.80,292.56 Z" fill="#7d8b9b"/>
<text x="461.50" y="283.60" font-size="12.5" text-anchor="start" font-weight="normal" fill="#111" textLength="35.5" lengthAdjust="spacingAndGlyphs" >Control</text>
<text x="461.50" y="295.00" font-size="12.5" text-anchor="start" font-weight="normal" fill="#111" textLength="47.5" lengthAdjust="spacingAndGlyphs" >miR-181a</text>
<line x1="60.20" y1="486.50" x2="60.20" y2="593.30" stroke="#111" stroke-width="1.5" />
<line x1="60.20" y1="593.30" x2="225.00" y2="593.30" stroke="#111" stroke-width="1.5" />
<line x1="55.70" y1="497.40" x2="60.20" y2="497.40" stroke="#111" stroke-width="1.4" />
<text x="51.40" y="501.70" font-size="12" text-anchor="end" font-weight="normal" fill="#111" textLength="18.8" lengthAdjust="spacingAndGlyphs" >100</text>
<line x1="55.70" y1="545.35" x2="60.20" y2="545.35" stroke="#111" stroke-width="1.4" />
<text x="51.40" y="549.65" font-size="12" text-anchor="end" font-weight="normal" fill="#111" textLength="12.5" lengthAdjust="spacingAndGlyphs" >50</text>
<line x1="92.20" y1="593.30" x2="92.20" y2="597.50" stroke="#111" stroke-width="1.4" />
<text x="92.20" y="612.80" font-size="12" text-anchor="middle" font-weight="normal" fill="#111" textLength="12.8" lengthAdjust="spacingAndGlyphs" >20</text>
<line x1="124.20" y1="593.30" x2="124.20" y2="597.50" stroke="#111" stroke-width="1.4" />
<text x="124.20" y="612.80" font-size="12" text-anchor="middle" font-weight="normal" fill="#111" textLength="12.8" lengthAdjust="spacingAndGlyphs" >40</text>
<line x1="156.20" y1="593.30" x2="156.20" y2="597.50" stroke="#111" stroke-width="1.4" />
<text x="156.20" y="612.80" font-size="12" text-anchor="middle" font-weight="normal" fill="#111" textLength="12.8" lengthAdjust="spacingAndGlyphs" >60</text>
<line x1="188.20" y1="593.30" x2="188.20" y2="597.50" stroke="#111" stroke-width="1.4" />
<text x="188.20" y="612.80" font-size="12" text-anchor="middle" font-weight="normal" fill="#111" textLength="12.8" lengthAdjust="spacingAndGlyphs" >80</text>
<text x="47.50" y="612.80" font-size="12" text-anchor="middle" font-weight="normal" fill="#111" >0</text>
<text x="0" y="0" font-size="14" text-anchor="middle" font-weight="normal" fill="#111" transform="translate(23.00,539.00) rotate(-90)" textLength="72" lengthAdjust="spacingAndGlyphs">Survival (%)</text>
<text x="140.60" y="631.50" font-size="13.8" text-anchor="middle" font-weight="normal" fill="#111" textLength="26.6" lengthAdjust="spacingAndGlyphs" >Days</text>
<text x="141.00" y="478.90" font-size="14.2" text-anchor="middle" font-weight="normal" fill="#111" textLength="58.5" lengthAdjust="spacingAndGlyphs" >OCILY19</text>
<line x1="220.20" y1="593.30" x2="220.20" y2="597.50" stroke="#111" stroke-width="1.2" />
<path d="M140.00,497.60 H140.00 V510.40 H160.00 V522.40 H161.00 V534.20 H162.00 V547.30 H166.20 V559.30 H170.80 V571.20 H185.40 V583.50 H187.20 V593.30" fill="none" stroke="#111" stroke-width="1.8" stroke-dasharray="3 2"/>
<path d="M60.20,497.60 H151.80 V510.40 H153.00 V522.40 H159.50 V534.20 H161.50 V547.30 H169.20 V559.30 H175.40 V583.20 H180.50 V593.30" fill="none" stroke="#111" stroke-width="1.8"/>
<line x1="293.80" y1="487.00" x2="293.80" y2="592.80" stroke="#111" stroke-width="1.5" />
<line x1="293.80" y1="592.80" x2="458.70" y2="592.80" stroke="#111" stroke-width="1.5" />
<line x1="289.30" y1="495.80" x2="293.80" y2="495.80" stroke="#111" stroke-width="1.4" />
<text x="285.00" y="500.10" font-size="12" text-anchor="end" font-weight="normal" fill="#111" textLength="18.8" lengthAdjust="spacingAndGlyphs" >100</text>
<line x1="289.30" y1="544.30" x2="293.80" y2="544.30" stroke="#111" stroke-width="1.4" />
<text x="285.00" y="548.60" font-size="12" text-anchor="end" font-weight="normal" fill="#111" textLength="12.5" lengthAdjust="spacingAndGlyphs" >50</text>
<line x1="325.80" y1="592.80" x2="325.80" y2="597.00" stroke="#111" stroke-width="1.4" />
<text x="325.80" y="612.30" font-size="12" text-anchor="middle" font-weight="normal" fill="#111" textLength="12.8" lengthAdjust="spacingAndGlyphs" >20</text>
<line x1="357.80" y1="592.80" x2="357.80" y2="597.00" stroke="#111" stroke-width="1.4" />
<text x="357.80" y="612.30" font-size="12" text-anchor="middle" font-weight="normal" fill="#111" textLength="12.8" lengthAdjust="spacingAndGlyphs" >40</text>
<line x1="389.80" y1="592.80" x2="389.80" y2="597.00" stroke="#111" stroke-width="1.4" />
<text x="389.80" y="612.30" font-size="12" text-anchor="middle" font-weight="normal" fill="#111" textLength="12.8" lengthAdjust="spacingAndGlyphs" >60</text>
<line x1="421.80" y1="592.80" x2="421.80" y2="597.00" stroke="#111" stroke-width="1.4" />
<text x="421.80" y="612.30" font-size="12" text-anchor="middle" font-weight="normal" fill="#111" textLength="12.8" lengthAdjust="spacingAndGlyphs" >80</text>
<line x1="453.80" y1="592.80" x2="453.80" y2="597.00" stroke="#111" stroke-width="1.4" />
<text x="453.80" y="612.30" font-size="12" text-anchor="middle" font-weight="normal" fill="#111" textLength="19.2" lengthAdjust="spacingAndGlyphs" >100</text>
<text x="282.50" y="612.30" font-size="12" text-anchor="middle" font-weight="normal" fill="#111" >0</text>
<text x="0" y="0" font-size="14" text-anchor="middle" font-weight="normal" fill="#111" transform="translate(258.00,543.00) rotate(-90)" textLength="72" lengthAdjust="spacingAndGlyphs">Survival (%)</text>
<text x="374.30" y="629.20" font-size="13.8" text-anchor="middle" font-weight="normal" fill="#111" textLength="26.6" lengthAdjust="spacingAndGlyphs" >Days</text>
<text x="372.00" y="478.90" font-size="14.2" text-anchor="middle" font-weight="normal" fill="#111" textLength="58.5" lengthAdjust="spacingAndGlyphs" >OCILY10</text>
<path d="M356.50,495.80 H356.50 V515.00 H359.00 V524.50 H367.70 V553.40 H371.80 V563.00 H374.60 V572.80 H376.70 V582.80 H378.80 V592.80" fill="none" stroke="#111" stroke-width="1.8" stroke-dasharray="3 2"/>
<path d="M293.80,495.80 H374.00 V505.30 H382.20 V524.60 H386.00 V534.30 H391.00 V544.00 H393.60 V563.00 H396.00 V573.50 H404.70 V582.80 H417.50 V592.80" fill="none" stroke="#111" stroke-width="1.8"/>
<text x="304" y="545.8" font-size="12" fill="#111" textLength="46.8" lengthAdjust="spacingAndGlyphs"><tspan font-style="italic">P</tspan> &lt; .0001</text>
<line x1="443.00" y1="494.60" x2="455.00" y2="494.60" stroke="#111" stroke-width="1.8" stroke-dasharray="3 2"/>
<line x1="443.00" y1="512.90" x2="456.00" y2="512.90" stroke="#111" stroke-width="1.8" />
<text x="461.00" y="498.80" font-size="12.5" text-anchor="start" font-weight="normal" fill="#111" textLength="36.5" lengthAdjust="spacingAndGlyphs" >Control</text>
<text x="461.00" y="517.20" font-size="12.5" text-anchor="start" font-weight="normal" fill="#111" textLength="48.5" lengthAdjust="spacingAndGlyphs" >miR-181a</text>
<line x1="62.80" y1="688.00" x2="62.80" y2="740.60" stroke="#111" stroke-width="1.2" />
<line x1="62.80" y1="740.60" x2="100.80" y2="740.60" stroke="#111" stroke-width="1.2" />
<line x1="57.80" y1="740.60" x2="62.80" y2="740.60" stroke="#111" stroke-width="1.1" />
<text x="55.00" y="743.50" font-size="8.6" text-anchor="end" font-weight="normal" fill="#111" textLength="4.2" lengthAdjust="spacingAndGlyphs" >0</text>
<line x1="57.80" y1="732.60" x2="62.80" y2="732.60" stroke="#111" stroke-width="1.1" />
<text x="55.00" y="735.50" font-size="8.6" text-anchor="end" font-weight="normal" fill="#111" textLength="8.5" lengthAdjust="spacingAndGlyphs" >20</text>
<line x1="57.80" y1="724.60" x2="62.80" y2="724.60" stroke="#111" stroke-width="1.1" />
<text x="55.00" y="727.50" font-size="8.6" text-anchor="end" font-weight="normal" fill="#111" textLength="8.5" lengthAdjust="spacingAndGlyphs" >40</text>
<line x1="57.80" y1="716.60" x2="62.80" y2="716.60" stroke="#111" stroke-width="1.1" />
<text x="55.00" y="719.50" font-size="8.6" text-anchor="end" font-weight="normal" fill="#111" textLength="8.5" lengthAdjust="spacingAndGlyphs" >60</text>
<line x1="57.80" y1="708.60" x2="62.80" y2="708.60" stroke="#111" stroke-width="1.1" />
<text x="55.00" y="711.50" font-size="8.6" text-anchor="end" font-weight="normal" fill="#111" textLength="8.5" lengthAdjust="spacingAndGlyphs" >80</text>
<line x1="57.80" y1="700.60" x2="62.80" y2="700.60" stroke="#111" stroke-width="1.1" />
<text x="55.00" y="703.50" font-size="8.6" text-anchor="end" font-weight="normal" fill="#111" textLength="12.8" lengthAdjust="spacingAndGlyphs" >100</text>
<line x1="57.80" y1="692.60" x2="62.80" y2="692.60" stroke="#111" stroke-width="1.1" />
<text x="55.00" y="695.50" font-size="8.6" text-anchor="end" font-weight="normal" fill="#111" textLength="12.8" lengthAdjust="spacingAndGlyphs" >120</text>
<line x1="63.30" y1="740.60" x2="63.30" y2="744.20" stroke="#111" stroke-width="1.2" />
<line x1="80.60" y1="740.60" x2="80.60" y2="744.20" stroke="#111" stroke-width="1.2" />
<line x1="97.50" y1="740.60" x2="97.50" y2="744.20" stroke="#111" stroke-width="1.2" />
<rect x="67" y="700.80" width="7" height="39.80" fill="#c9c9c9"/>
<rect x="84.6" y="700.00" width="7.2" height="40.60" fill="#000"/>
<line x1="70.50" y1="699.80" x2="70.50" y2="701.50" stroke="#111" stroke-width="1.0" />
<line x1="68.80" y1="699.80" x2="72.20" y2="699.80" stroke="#111" stroke-width="1.0" />
<line x1="88.20" y1="699.20" x2="88.20" y2="701.00" stroke="#111" stroke-width="1.0" />
<line x1="86.50" y1="699.20" x2="89.90" y2="699.20" stroke="#111" stroke-width="1.0" />
<text x="0" y="0" font-size="12" text-anchor="middle" font-weight="normal" fill="#111" transform="translate(20.60,713.60) rotate(-90)" textLength="48" lengthAdjust="spacingAndGlyphs">% live cells</text>
<text x="0" y="0" font-size="12" text-anchor="middle" font-weight="normal" fill="#111" transform="translate(33.60,713.60) rotate(-90)" textLength="37.5" lengthAdjust="spacingAndGlyphs">OCILY19</text>
<path d="M69.2,695.0 V691.6 H87.7 V695.0" fill="none" stroke="#111" stroke-width="1.3"/>
<text x="78.30" y="689.60" font-size="8.8" text-anchor="middle" font-weight="normal" fill="#111" textLength="9.5" lengthAdjust="spacingAndGlyphs" >ns</text>
<line x1="62.80" y1="762.60" x2="62.80" y2="815.20" stroke="#111" stroke-width="1.2" />
<line x1="62.80" y1="815.20" x2="100.80" y2="815.20" stroke="#111" stroke-width="1.2" />
<line x1="57.80" y1="815.20" x2="62.80" y2="815.20" stroke="#111" stroke-width="1.1" />
<text x="55.00" y="818.10" font-size="8.6" text-anchor="end" font-weight="normal" fill="#111" textLength="4.2" lengthAdjust="spacingAndGlyphs" >0</text>
<line x1="57.80" y1="806.90" x2="62.80" y2="806.90" stroke="#111" stroke-width="1.1" />
<text x="55.00" y="809.80" font-size="8.6" text-anchor="end" font-weight="normal" fill="#111" textLength="8.5" lengthAdjust="spacingAndGlyphs" >20</text>
<line x1="57.80" y1="798.60" x2="62.80" y2="798.60" stroke="#111" stroke-width="1.1" />
<text x="55.00" y="801.50" font-size="8.6" text-anchor="end" font-weight="normal" fill="#111" textLength="8.5" lengthAdjust="spacingAndGlyphs" >40</text>
<line x1="57.80" y1="790.30" x2="62.80" y2="790.30" stroke="#111" stroke-width="1.1" />
<text x="55.00" y="793.20" font-size="8.6" text-anchor="end" font-weight="normal" fill="#111" textLength="8.5" lengthAdjust="spacingAndGlyphs" >60</text>
<line x1="57.80" y1="782.00" x2="62.80" y2="782.00" stroke="#111" stroke-width="1.1" />
<text x="55.00" y="784.90" font-size="8.6" text-anchor="end" font-weight="normal" fill="#111" textLength="8.5" lengthAdjust="spacingAndGlyphs" >80</text>
<line x1="57.80" y1="773.70" x2="62.80" y2="773.70" stroke="#111" stroke-width="1.1" />
<text x="55.00" y="776.60" font-size="8.6" text-anchor="end" font-weight="normal" fill="#111" textLength="12.8" lengthAdjust="spacingAndGlyphs" >100</text>
<line x1="57.80" y1="765.40" x2="62.80" y2="765.40" stroke="#111" stroke-width="1.1" />
<text x="55.00" y="768.30" font-size="8.6" text-anchor="end" font-weight="normal" fill="#111" textLength="12.8" lengthAdjust="spacingAndGlyphs" >120</text>
<line x1="63.30" y1="815.20" x2="63.30" y2="818.80" stroke="#111" stroke-width="1.2" />
<line x1="80.60" y1="815.20" x2="80.60" y2="818.80" stroke="#111" stroke-width="1.2" />
<line x1="97.50" y1="815.20" x2="97.50" y2="818.80" stroke="#111" stroke-width="1.2" />
<rect x="67" y="780.80" width="7" height="34.40" fill="#c9c9c9"/>
<rect x="84.6" y="808.50" width="7.2" height="6.70" fill="#000"/>
<line x1="70.50" y1="776.00" x2="70.50" y2="784.00" stroke="#111" stroke-width="1.0" />
<line x1="68.80" y1="776.00" x2="72.20" y2="776.00" stroke="#111" stroke-width="1.0" />
<line x1="88.20" y1="805.50" x2="88.20" y2="809.00" stroke="#111" stroke-width="1.0" />
<line x1="86.50" y1="805.50" x2="89.90" y2="805.50" stroke="#111" stroke-width="1.0" />
<text x="0" y="0" font-size="12" text-anchor="middle" font-weight="normal" fill="#111" transform="translate(20.60,786.20) rotate(-90)" textLength="48" lengthAdjust="spacingAndGlyphs">% live cells</text>
<text x="0" y="0" font-size="12" text-anchor="middle" font-weight="normal" fill="#111" transform="translate(33.60,786.20) rotate(-90)" textLength="37.5" lengthAdjust="spacingAndGlyphs">OCILY10</text>
<path d="M71.5,772.1999999999999 V768.8 H87.7 V772.1999999999999" fill="none" stroke="#111" stroke-width="1.3"/>
<text x="86.30" y="766.80" font-size="10" text-anchor="middle" font-weight="normal" fill="#111" >**</text>
<text x="0" y="0" font-size="9.3" fill="#111" transform="translate(58.3,848) rotate(-45)" textLength="27" lengthAdjust="spacingAndGlyphs">Control</text>
<text x="0" y="0" font-size="9.3" fill="#111" transform="translate(69.5,854) rotate(-45)" textLength="34" lengthAdjust="spacingAndGlyphs">miR-181a</text>
<text x="145.50" y="692.30" font-size="9.3" text-anchor="middle" font-weight="normal" fill="#111" textLength="27.5" lengthAdjust="spacingAndGlyphs" >Control</text>
<text x="212.00" y="692.30" font-size="9.3" text-anchor="middle" font-weight="normal" fill="#111" textLength="35.5" lengthAdjust="spacingAndGlyphs" >miR-181a</text>
<path d="M130.2,697.5 H180.5 V747.3" fill="none" stroke="#9a9a9a" stroke-width="0.8"/>
<line x1="158.00" y1="697.50" x2="158.00" y2="747.30" stroke="#777" stroke-width="0.8" />
<line x1="130.20" y1="720.00" x2="180.50" y2="720.00" stroke="#777" stroke-width="0.8" />
<rect x="130.2" y="749.5" width="50.3" height="50.3" fill="none" stroke="#9a9a9a" stroke-width="0.8"/>
<line x1="158.00" y1="749.50" x2="158.00" y2="799.80" stroke="#777" stroke-width="0.8" />
<line x1="130.20" y1="773.00" x2="180.50" y2="773.00" stroke="#777" stroke-width="0.8" />
<rect x="182.7" y="697.5" width="52.3" height="49.8" fill="none" stroke="#9a9a9a" stroke-width="0.8"/>
<line x1="209.60" y1="697.50" x2="209.60" y2="747.30" stroke="#777" stroke-width="0.8" />
<line x1="182.70" y1="720.00" x2="235.00" y2="720.00" stroke="#777" stroke-width="0.8" />
<rect x="182.7" y="749.5" width="52.3" height="50.3" fill="none" stroke="#9a9a9a" stroke-width="0.8"/>
<line x1="209.60" y1="749.50" x2="209.60" y2="799.80" stroke="#777" stroke-width="0.8" />
<line x1="182.70" y1="773.00" x2="235.00" y2="773.00" stroke="#777" stroke-width="0.8" />
<path d="M131.80,722.50 C132.97,721.55 135.63,721.52 138.00,721.30 C140.37,721.08 143.50,721.12 146.00,721.20 C148.50,721.28 150.95,721.40 153.00,721.80 C155.05,722.20 157.97,722.40 158.30,723.60 C158.63,724.80 156.38,727.10 155.00,729.00 C153.62,730.90 151.67,733.08 150.00,735.00 C148.33,736.92 146.83,739.37 145.00,740.50 C143.17,741.63 141.00,741.88 139.00,741.80 C137.00,741.72 134.33,741.47 133.00,740.00 C131.67,738.53 131.33,735.17 131.00,733.00 C130.67,730.83 130.87,728.75 131.00,727.00 C131.13,725.25 130.63,723.45 131.80,722.50 Z" fill="#eeeeee" stroke="#111" stroke-width="1.3" stroke-linejoin="round"/><path d="M133.55,723.40 C134.50,722.62 136.69,722.59 138.63,722.42 C140.57,722.24 143.14,722.27 145.19,722.33 C147.24,722.40 149.25,722.50 150.93,722.83 C152.61,723.15 155.00,723.32 155.28,724.30 C155.55,725.29 153.70,727.17 152.57,728.73 C151.44,730.29 149.84,732.08 148.47,733.65 C147.10,735.22 145.87,737.23 144.37,738.16 C142.87,739.09 141.09,739.29 139.45,739.23 C137.81,739.16 135.62,738.95 134.53,737.75 C133.44,736.55 133.16,733.79 132.89,732.01 C132.62,730.23 132.78,728.53 132.89,727.09 C133.00,725.65 132.59,724.18 133.55,723.40 Z" fill="#e0e0e0" stroke="#111" stroke-width="0.8" stroke-linejoin="round"/><path d="M135.29,724.30 C136.04,723.69 137.75,723.67 139.26,723.53 C140.77,723.39 142.78,723.41 144.38,723.47 C145.98,723.52 147.55,723.60 148.86,723.85 C150.17,724.11 152.04,724.24 152.25,725.00 C152.47,725.77 151.03,727.24 150.14,728.46 C149.25,729.68 148.01,731.07 146.94,732.30 C145.87,733.53 144.91,735.09 143.74,735.82 C142.57,736.55 141.18,736.71 139.90,736.65 C138.62,736.60 136.91,736.44 136.06,735.50 C135.21,734.56 134.99,732.41 134.78,731.02 C134.57,729.63 134.69,728.30 134.78,727.18 C134.87,726.06 134.55,724.91 135.29,724.30 Z" fill="#cccccc" stroke="#111" stroke-width="0.8" stroke-linejoin="round"/><path d="M137.04,725.20 C137.57,724.76 138.80,724.75 139.89,724.65 C140.98,724.55 142.42,724.56 143.57,724.60 C144.72,724.64 145.85,724.69 146.79,724.88 C147.73,725.06 149.07,725.15 149.23,725.71 C149.38,726.26 148.35,727.32 147.71,728.19 C147.07,729.06 146.18,730.07 145.41,730.95 C144.64,731.83 143.95,732.96 143.11,733.48 C142.27,734.00 141.27,734.12 140.35,734.08 C139.43,734.04 138.20,733.92 137.59,733.25 C136.98,732.58 136.82,731.03 136.67,730.03 C136.52,729.03 136.61,728.07 136.67,727.27 C136.73,726.47 136.50,725.64 137.04,725.20 Z" fill="#b0b0b0" stroke="#111" stroke-width="0.8" stroke-linejoin="round"/><path d="M138.59,726.00 C138.94,725.72 139.74,725.70 140.45,725.64 C141.16,725.58 142.10,725.59 142.85,725.61 C143.60,725.63 144.33,725.67 144.95,725.79 C145.56,725.91 146.44,725.97 146.54,726.33 C146.64,726.69 145.97,727.38 145.55,727.95 C145.14,728.52 144.55,729.17 144.05,729.75 C143.55,730.33 143.10,731.06 142.55,731.40 C142.00,731.74 141.35,731.81 140.75,731.79 C140.15,731.76 139.35,731.69 138.95,731.25 C138.55,730.81 138.45,729.80 138.35,729.15 C138.25,728.50 138.31,727.88 138.35,727.35 C138.39,726.83 138.24,726.28 138.59,726.00 Z" fill="#8a8a8a" stroke="#111" stroke-width="0.7" stroke-linejoin="round"/><path d="M140.05,726.75 C140.22,726.61 140.62,726.60 140.97,726.57 C141.33,726.54 141.80,726.54 142.18,726.56 C142.55,726.57 142.92,726.59 143.22,726.64 C143.53,726.70 143.97,726.73 144.02,726.91 C144.07,727.10 143.73,727.44 143.53,727.73 C143.32,728.01 143.03,728.34 142.78,728.62 C142.53,728.91 142.30,729.28 142.03,729.45 C141.75,729.62 141.43,729.66 141.12,729.64 C140.82,729.63 140.42,729.60 140.22,729.38 C140.03,729.15 139.98,728.65 139.93,728.33 C139.88,728.00 139.91,727.69 139.93,727.42 C139.95,727.16 139.87,726.89 140.05,726.75 Z" fill="#555" stroke="#111" stroke-width="0.6" stroke-linejoin="round"/>
<path d="M158.3,724.5 C155,730 150,736 145.5,740.8 C140,742.8 134,741.8 131.8,738.5" fill="none" stroke="#000" stroke-width="2.2"/>
<path d="M184.30,722.50 C185.47,721.55 188.13,721.52 190.50,721.30 C192.87,721.08 196.00,721.12 198.50,721.20 C201.00,721.28 203.45,721.40 205.50,721.80 C207.55,722.20 210.47,722.40 210.80,723.60 C211.13,724.80 208.88,727.10 207.50,729.00 C206.12,730.90 204.17,733.08 202.50,735.00 C200.83,736.92 199.33,739.37 197.50,740.50 C195.67,741.63 193.50,741.88 191.50,741.80 C189.50,741.72 186.83,741.47 185.50,740.00 C184.17,738.53 183.83,735.17 183.50,733.00 C183.17,730.83 183.37,728.75 183.50,727.00 C183.63,725.25 183.13,723.45 184.30,722.50 Z" fill="#eeeeee" stroke="#111" stroke-width="1.3" stroke-linejoin="round"/><path d="M186.05,723.40 C187.00,722.62 189.19,722.59 191.13,722.42 C193.07,722.24 195.64,722.27 197.69,722.33 C199.74,722.40 201.75,722.50 203.43,722.83 C205.11,723.15 207.50,723.32 207.78,724.30 C208.05,725.29 206.20,727.17 205.07,728.73 C203.94,730.29 202.34,732.08 200.97,733.65 C199.60,735.22 198.37,737.23 196.87,738.16 C195.37,739.09 193.59,739.29 191.95,739.23 C190.31,739.16 188.12,738.95 187.03,737.75 C185.94,736.55 185.66,733.79 185.39,732.01 C185.12,730.23 185.28,728.53 185.39,727.09 C185.50,725.65 185.09,724.18 186.05,723.40 Z" fill="#e0e0e0" stroke="#111" stroke-width="0.8" stroke-linejoin="round"/><path d="M187.79,724.30 C188.54,723.69 190.25,723.67 191.76,723.53 C193.27,723.39 195.28,723.41 196.88,723.47 C198.48,723.52 200.05,723.60 201.36,723.85 C202.67,724.11 204.54,724.24 204.75,725.00 C204.97,725.77 203.53,727.24 202.64,728.46 C201.75,729.68 200.51,731.07 199.44,732.30 C198.37,733.53 197.41,735.09 196.24,735.82 C195.07,736.55 193.68,736.71 192.40,736.65 C191.12,736.60 189.41,736.44 188.56,735.50 C187.71,734.56 187.49,732.41 187.28,731.02 C187.07,729.63 187.19,728.30 187.28,727.18 C187.37,726.06 187.05,724.91 187.79,724.30 Z" fill="#cccccc" stroke="#111" stroke-width="0.8" stroke-linejoin="round"/><path d="M189.54,725.20 C190.07,724.76 191.30,724.75 192.39,724.65 C193.48,724.55 194.92,724.56 196.07,724.60 C197.22,724.64 198.35,724.69 199.29,724.88 C200.23,725.06 201.57,725.15 201.73,725.71 C201.88,726.26 200.85,727.32 200.21,728.19 C199.57,729.06 198.68,730.07 197.91,730.95 C197.14,731.83 196.45,732.96 195.61,733.48 C194.77,734.00 193.77,734.12 192.85,734.08 C191.93,734.04 190.70,733.92 190.09,733.25 C189.48,732.58 189.32,731.03 189.17,730.03 C189.02,729.03 189.11,728.07 189.17,727.27 C189.23,726.47 189.00,725.64 189.54,725.20 Z" fill="#b0b0b0" stroke="#111" stroke-width="0.8" stroke-linejoin="round"/><path d="M191.09,726.00 C191.44,725.72 192.24,725.70 192.95,725.64 C193.66,725.58 194.60,725.59 195.35,725.61 C196.10,725.63 196.83,725.67 197.45,725.79 C198.06,725.91 198.94,725.97 199.04,726.33 C199.14,726.69 198.47,727.38 198.05,727.95 C197.64,728.52 197.05,729.17 196.55,729.75 C196.05,730.33 195.60,731.06 195.05,731.40 C194.50,731.74 193.85,731.81 193.25,731.79 C192.65,731.76 191.85,731.69 191.45,731.25 C191.05,730.81 190.95,729.80 190.85,729.15 C190.75,728.50 190.81,727.88 190.85,727.35 C190.89,726.83 190.74,726.28 191.09,726.00 Z" fill="#8a8a8a" stroke="#111" stroke-width="0.7" stroke-linejoin="round"/><path d="M192.55,726.75 C192.72,726.61 193.12,726.60 193.47,726.57 C193.83,726.54 194.30,726.54 194.68,726.56 C195.05,726.57 195.42,726.59 195.72,726.64 C196.03,726.70 196.47,726.73 196.52,726.91 C196.57,727.10 196.23,727.44 196.03,727.73 C195.82,728.01 195.53,728.34 195.28,728.62 C195.03,728.91 194.80,729.28 194.53,729.45 C194.25,729.62 193.93,729.66 193.62,729.64 C193.32,729.63 192.92,729.60 192.72,729.38 C192.53,729.15 192.48,728.65 192.43,728.33 C192.38,728.00 192.41,727.69 192.43,727.42 C192.45,727.16 192.37,726.89 192.55,726.75 Z" fill="#555" stroke="#111" stroke-width="0.6" stroke-linejoin="round"/>
<path d="M210.8,724.5 C207.5,730 202.5,736 198.0,740.8 C192.5,742.8 186.5,741.8 184.3,738.5" fill="none" stroke="#000" stroke-width="2.2"/>
<circle cx="212.2" cy="709.2" r="1.3" fill="#111"/>
<circle cx="205" cy="705" r="0.45" fill="#777"/>
<circle cx="214" cy="703" r="0.45" fill="#777"/>
<circle cx="218" cy="711" r="0.45" fill="#777"/>
<circle cx="200" cy="713" r="0.45" fill="#777"/>
<circle cx="209" cy="700" r="0.45" fill="#777"/>
<circle cx="203" cy="708" r="0.45" fill="#777"/>
<circle cx="216" cy="706" r="0.45" fill="#777"/>
<text x="230.00" y="718.30" font-size="9" text-anchor="middle" font-weight="normal" fill="#111" >1</text>
<text x="152.00" y="746.50" font-size="9.3" text-anchor="middle" font-weight="normal" fill="#111" textLength="9" lengthAdjust="spacingAndGlyphs" >99</text>
<text x="205.00" y="746.50" font-size="9.3" text-anchor="middle" font-weight="normal" fill="#111" textLength="9" lengthAdjust="spacingAndGlyphs" >99</text>
<path d="M131.56,784.15 C131.21,782.32 133.54,779.81 134.80,778.57 C136.06,777.34 137.39,777.21 139.11,776.75 C140.83,776.28 143.19,776.29 145.14,775.78 C147.09,775.27 149.07,774.46 150.80,773.68 C152.54,772.89 154.01,772.05 155.56,771.08 C157.12,770.11 158.34,768.60 160.13,767.85 C161.92,767.10 165.36,765.84 166.30,766.56 C167.24,767.27 166.39,770.34 165.76,772.15 C165.13,773.95 163.44,776.02 162.53,777.38 C161.61,778.73 161.24,779.13 160.27,780.27 C159.31,781.41 158.41,783.07 156.76,784.23 C155.10,785.39 152.75,786.56 150.35,787.23 C147.95,787.90 144.60,787.85 142.36,788.24 C140.12,788.63 138.70,790.22 136.90,789.54 C135.10,788.86 131.91,785.97 131.56,784.15 Z" fill="#ececec" stroke="#111" stroke-width="1.1" stroke-linejoin="round"/><path d="M135.13,784.33 C134.94,783.24 136.69,780.99 137.65,779.77 C138.60,778.54 139.53,777.51 140.86,776.99 C142.19,776.48 144.11,777.08 145.63,776.67 C147.16,776.25 148.45,775.28 150.01,774.51 C151.58,773.73 153.60,772.65 155.02,772.04 C156.43,771.42 157.43,771.16 158.51,770.83 C159.58,770.50 160.95,769.61 161.46,770.05 C161.96,770.49 161.76,772.35 161.54,773.47 C161.32,774.59 160.67,775.59 160.13,776.76 C159.60,777.93 159.41,779.34 158.36,780.49 C157.31,781.64 155.27,782.78 153.83,783.64 C152.40,784.50 151.55,785.23 149.76,785.67 C147.98,786.11 144.94,786.16 143.11,786.27 C141.28,786.38 140.11,786.66 138.78,786.34 C137.45,786.01 135.32,785.43 135.13,784.33 Z" fill="#d6d6d6" stroke="#111" stroke-width="0.8" stroke-linejoin="round"/><path d="M137.96,783.15 C137.78,782.36 139.58,780.73 140.25,779.69 C140.93,778.65 140.95,777.39 142.01,776.91 C143.08,776.42 145.50,777.17 146.66,776.78 C147.81,776.38 147.95,775.09 148.96,774.53 C149.96,773.97 151.51,773.64 152.68,773.43 C153.84,773.22 155.07,773.66 155.96,773.27 C156.84,772.87 157.44,770.90 157.98,771.04 C158.51,771.17 159.40,772.98 159.15,774.09 C158.90,775.20 157.01,776.73 156.50,777.69 C155.99,778.66 156.75,779.07 156.07,779.88 C155.40,780.69 153.72,781.88 152.47,782.56 C151.22,783.23 149.78,783.57 148.59,783.92 C147.41,784.28 146.57,784.60 145.36,784.68 C144.15,784.77 142.57,784.69 141.33,784.43 C140.10,784.18 138.14,783.94 137.96,783.15 Z" fill="#bcbcbc" stroke="#111" stroke-width="0.8" stroke-linejoin="round"/><path d="M140.88,781.63 C140.59,781.12 141.85,780.25 142.32,779.75 C142.78,779.26 142.89,779.07 143.69,778.64 C144.49,778.21 146.37,777.47 147.11,777.17 C147.85,776.86 147.37,777.07 148.13,776.80 C148.89,776.53 150.83,775.86 151.66,775.55 C152.50,775.24 152.56,775.18 153.15,774.93 C153.74,774.69 154.95,773.86 155.20,774.06 C155.44,774.26 154.82,775.33 154.63,776.13 C154.45,776.94 154.25,778.29 154.09,778.91 C153.93,779.54 154.22,779.57 153.69,779.90 C153.16,780.23 151.67,780.41 150.89,780.90 C150.12,781.39 149.93,782.42 149.03,782.83 C148.14,783.24 146.37,783.35 145.55,783.34 C144.72,783.34 144.88,783.09 144.10,782.80 C143.32,782.52 141.18,782.14 140.88,781.63 Z" fill="#999" stroke="#111" stroke-width="0.7" stroke-linejoin="round"/><path d="M145.59,780.09 C145.64,779.78 145.46,779.95 145.47,779.66 C145.49,779.37 145.20,778.70 145.67,778.32 C146.13,777.95 147.87,777.51 148.27,777.42 C148.67,777.32 147.76,777.74 148.05,777.76 C148.35,777.78 149.49,777.64 150.04,777.54 C150.59,777.43 151.28,777.39 151.37,777.11 C151.47,776.82 150.70,775.77 150.60,775.83 C150.50,775.89 150.84,777.01 150.77,777.48 C150.69,777.95 150.17,778.42 150.15,778.65 C150.13,778.88 150.62,778.63 150.64,778.86 C150.65,779.10 150.48,779.78 150.24,780.04 C150.01,780.31 149.73,780.27 149.23,780.44 C148.72,780.62 147.89,780.90 147.22,781.08 C146.54,781.25 145.44,781.67 145.17,781.50 C144.90,781.34 145.54,780.39 145.59,780.09 Z" fill="#666" stroke="#111" stroke-width="0.6" stroke-linejoin="round"/>
<circle cx="134" cy="797" r="0.6" fill="#444"/>
<circle cx="138" cy="798" r="0.6" fill="#444"/>
<circle cx="145" cy="797.5" r="0.6" fill="#444"/>
<circle cx="160" cy="797" r="0.6" fill="#444"/>
<circle cx="166" cy="796" r="0.6" fill="#444"/>
<circle cx="172" cy="797" r="0.6" fill="#444"/>
<circle cx="140" cy="792" r="0.6" fill="#444"/>
<circle cx="160" cy="790" r="0.6" fill="#444"/>
<line x1="133.00" y1="798.30" x2="150.00" y2="798.30" stroke="#333" stroke-width="1.0" />
<path d="M189.41,782.45 C189.57,780.89 191.17,779.34 192.61,777.84 C194.04,776.35 196.68,774.41 198.00,773.48 C199.33,772.55 200.19,773.30 200.56,772.24 C200.92,771.18 199.50,768.22 200.18,767.14 C200.86,766.06 203.30,766.98 204.61,765.76 C205.93,764.54 206.68,761.44 208.05,759.83 C209.43,758.21 210.89,757.40 212.86,756.08 C214.84,754.76 217.81,753.03 219.92,751.92 C222.03,750.81 224.39,749.76 225.52,749.44 C226.65,749.12 226.51,748.65 226.71,749.98 C226.91,751.30 227.47,755.28 226.73,757.38 C225.99,759.48 223.49,760.50 222.29,762.59 C221.08,764.68 219.36,768.37 219.49,769.93 C219.62,771.49 222.21,770.65 223.07,771.94 C223.93,773.23 224.32,775.48 224.65,777.67 C224.98,779.85 225.34,783.21 225.05,785.05 C224.75,786.89 224.91,787.98 222.89,788.69 C220.86,789.40 216.03,789.02 212.91,789.32 C209.79,789.62 206.68,790.28 204.15,790.50 C201.61,790.72 199.76,791.19 197.68,790.64 C195.60,790.08 193.02,788.53 191.64,787.17 C190.26,785.80 189.25,784.00 189.41,782.45 Z" fill="#ececec" stroke="#111" stroke-width="1.4" stroke-linejoin="round"/><path d="M192.30,781.54 C192.75,780.06 195.01,779.17 196.27,778.00 C197.53,776.84 198.70,775.52 199.86,774.55 C201.01,773.57 203.04,773.16 203.19,772.14 C203.33,771.13 200.25,769.20 200.72,768.44 C201.20,767.69 204.66,768.49 206.04,767.63 C207.42,766.78 207.87,764.69 209.02,763.32 C210.16,761.96 211.32,760.68 212.90,759.43 C214.48,758.19 216.62,757.05 218.48,755.86 C220.34,754.67 222.85,752.54 224.06,752.28 C225.27,752.02 225.83,753.08 225.74,754.32 C225.65,755.56 224.22,758.07 223.51,759.73 C222.81,761.39 222.35,762.63 221.53,764.27 C220.72,765.91 218.45,767.99 218.60,769.58 C218.74,771.17 221.60,772.40 222.41,773.83 C223.23,775.27 223.14,776.67 223.48,778.18 C223.83,779.70 225.02,781.42 224.49,782.94 C223.95,784.46 222.01,786.29 220.27,787.28 C218.53,788.27 216.50,788.56 214.03,788.88 C211.55,789.21 207.84,789.27 205.42,789.23 C203.00,789.18 201.45,789.01 199.48,788.62 C197.51,788.23 194.79,788.07 193.60,786.89 C192.40,785.71 191.85,783.02 192.30,781.54 Z" fill="#dcdcdc" stroke="#111" stroke-width="0.8" stroke-linejoin="round"/><path d="M195.31,780.99 C195.48,779.72 196.74,777.52 197.62,776.73 C198.51,775.94 199.53,776.66 200.65,776.24 C201.76,775.82 204.07,774.99 204.31,774.21 C204.55,773.44 201.68,772.29 202.07,771.57 C202.47,770.85 205.65,770.92 206.68,769.90 C207.70,768.88 207.32,766.91 208.24,765.46 C209.16,764.01 210.92,762.18 212.21,761.21 C213.50,760.24 214.46,760.12 215.99,759.64 C217.51,759.17 220.34,758.57 221.37,758.35 C222.40,758.13 222.08,757.68 222.16,758.32 C222.23,758.96 222.43,760.65 221.82,762.19 C221.21,763.73 219.22,765.82 218.48,767.57 C217.75,769.32 217.22,771.47 217.44,772.70 C217.66,773.94 219.17,773.95 219.81,774.98 C220.45,776.02 220.98,777.82 221.27,778.91 C221.55,779.99 221.72,780.30 221.51,781.50 C221.29,782.70 221.50,785.42 219.98,786.12 C218.45,786.82 214.66,785.52 212.34,785.71 C210.02,785.90 208.11,787.24 206.07,787.27 C204.03,787.29 201.69,786.34 200.11,785.86 C198.53,785.38 197.39,785.21 196.59,784.39 C195.79,783.58 195.14,782.27 195.31,780.99 Z" fill="#c8c8c8" stroke="#111" stroke-width="0.8" stroke-linejoin="round"/><path d="M198.58,781.06 C198.55,779.69 199.19,777.62 199.91,776.75 C200.64,775.87 202.11,776.16 202.93,775.83 C203.75,775.49 204.63,775.35 204.81,774.75 C204.99,774.15 203.84,772.66 204.02,772.23 C204.20,771.81 204.92,772.91 205.88,772.20 C206.84,771.49 208.92,769.25 209.78,767.96 C210.65,766.68 209.94,765.38 211.07,764.49 C212.19,763.61 215.29,763.03 216.52,762.67 C217.76,762.30 217.65,762.43 218.47,762.30 C219.29,762.18 221.23,761.25 221.43,761.93 C221.64,762.61 220.52,765.14 219.70,766.37 C218.89,767.61 217.08,768.12 216.54,769.32 C216.00,770.52 216.20,772.50 216.48,773.58 C216.76,774.66 217.85,775.14 218.24,775.78 C218.64,776.43 218.79,776.33 218.85,777.47 C218.92,778.61 218.75,781.37 218.64,782.64 C218.52,783.92 219.32,784.60 218.18,785.11 C217.04,785.62 213.70,785.69 211.81,785.68 C209.91,785.67 208.40,784.96 206.80,785.04 C205.20,785.12 203.34,786.19 202.22,786.17 C201.10,786.16 200.71,785.80 200.10,784.95 C199.50,784.10 198.61,782.43 198.58,781.06 Z" fill="#b4b4b4" stroke="#111" stroke-width="0.8" stroke-linejoin="round"/><path d="M201.72,781.72 C201.81,780.93 201.90,779.16 202.55,778.28 C203.21,777.40 205.03,776.97 205.66,776.43 C206.29,775.89 206.18,775.54 206.34,775.04 C206.49,774.55 206.46,773.84 206.59,773.47 C206.72,773.09 206.55,773.21 207.12,772.79 C207.69,772.37 209.19,771.54 209.99,770.94 C210.79,770.35 211.09,770.03 211.93,769.22 C212.78,768.40 214.19,766.73 215.08,766.04 C215.96,765.35 216.80,765.10 217.24,765.07 C217.67,765.05 217.79,765.25 217.69,765.90 C217.60,766.56 216.84,767.92 216.67,768.99 C216.50,770.06 217.13,771.47 216.69,772.30 C216.25,773.14 214.09,773.29 214.05,773.98 C214.02,774.67 216.14,775.81 216.48,776.43 C216.83,777.04 215.91,776.83 216.12,777.67 C216.33,778.50 217.95,780.44 217.75,781.42 C217.54,782.40 215.92,783.16 214.92,783.56 C213.92,783.96 212.83,783.83 211.75,783.82 C210.67,783.80 209.41,783.52 208.43,783.49 C207.44,783.45 206.89,783.68 205.82,783.61 C204.76,783.54 202.71,783.36 202.03,783.05 C201.35,782.73 201.63,782.51 201.72,781.72 Z" fill="#9a9a9a" stroke="#111" stroke-width="0.7" stroke-linejoin="round"/><path d="M205.60,781.27 C205.93,780.91 205.86,779.04 206.19,778.49 C206.52,777.93 207.11,778.05 207.58,777.95 C208.05,777.86 208.92,778.42 209.01,777.94 C209.10,777.46 208.12,775.57 208.12,775.08 C208.13,774.58 208.82,775.16 209.05,774.97 C209.28,774.77 209.19,774.37 209.51,773.92 C209.83,773.47 210.34,772.84 210.99,772.26 C211.63,771.68 212.60,770.73 213.38,770.44 C214.15,770.14 215.05,770.28 215.65,770.49 C216.26,770.70 216.94,771.47 217.03,771.70 C217.11,771.93 216.55,771.47 216.16,771.88 C215.77,772.30 214.92,773.52 214.67,774.19 C214.42,774.86 214.73,775.56 214.67,775.88 C214.60,776.21 214.21,775.68 214.29,776.16 C214.36,776.64 215.00,778.19 215.13,778.77 C215.27,779.35 215.22,779.30 215.08,779.63 C214.93,779.96 214.91,780.36 214.26,780.76 C213.61,781.15 212.08,781.77 211.18,782.03 C210.28,782.28 209.58,782.30 208.87,782.30 C208.15,782.30 207.64,782.33 206.87,782.05 C206.09,781.78 204.41,780.77 204.19,780.64 C203.98,780.51 205.26,781.63 205.60,781.27 Z" fill="#7a7a7a" stroke="#111" stroke-width="0.7" stroke-linejoin="round"/><path d="M207.85,780.67 C207.98,780.36 207.53,778.66 207.64,778.35 C207.75,778.04 208.23,778.78 208.52,778.81 C208.81,778.84 209.46,778.93 209.39,778.53 C209.31,778.13 208.10,776.75 208.07,776.43 C208.05,776.12 208.86,776.75 209.23,776.63 C209.60,776.51 209.78,775.98 210.30,775.71 C210.82,775.44 211.99,775.05 212.34,775.03 C212.70,775.00 212.25,775.64 212.45,775.54 C212.65,775.44 213.23,774.64 213.55,774.41 C213.87,774.18 214.56,773.81 214.36,774.16 C214.17,774.50 212.63,776.08 212.38,776.49 C212.12,776.90 212.98,776.38 212.84,776.62 C212.69,776.86 211.52,777.65 211.49,777.94 C211.45,778.23 212.43,778.05 212.64,778.35 C212.86,778.66 212.69,779.60 212.76,779.76 C212.84,779.92 212.97,779.29 213.11,779.31 C213.26,779.32 213.98,779.61 213.63,779.83 C213.27,780.05 211.40,780.64 210.98,780.65 C210.55,780.67 211.57,779.79 211.10,779.91 C210.62,780.04 208.83,781.35 208.12,781.41 C207.42,781.47 206.91,780.37 206.87,780.25 C206.82,780.13 207.72,780.99 207.85,780.67 Z" fill="#444" stroke="#111" stroke-width="0.6" stroke-linejoin="round"/>
<line x1="186.00" y1="798.60" x2="230.00" y2="798.60" stroke="#333" stroke-width="1.0" />
<text x="176.80" y="770.30" font-size="9.3" text-anchor="middle" font-weight="normal" fill="#111" >8</text>
<text x="152.00" y="798.80" font-size="9.3" text-anchor="middle" font-weight="normal" fill="#111" textLength="9" lengthAdjust="spacingAndGlyphs" >80</text>
<text x="177.50" y="798.80" font-size="9.3" text-anchor="middle" font-weight="normal" fill="#111" textLength="8" lengthAdjust="spacingAndGlyphs" >13</text>
<text x="228.80" y="772.20" font-size="9.3" text-anchor="middle" font-weight="normal" fill="#111" textLength="9" lengthAdjust="spacingAndGlyphs" >48</text>
<text x="228.80" y="798.80" font-size="9.3" text-anchor="middle" font-weight="normal" fill="#111" textLength="9" lengthAdjust="spacingAndGlyphs" >23</text>
<line x1="127.50" y1="749.00" x2="127.50" y2="805.30" stroke="#000" stroke-width="1.2" />
<line x1="127.50" y1="805.30" x2="189.00" y2="805.30" stroke="#000" stroke-width="1.2" />
<path d="M124.2,749.5 L127.5,744.5 L130.8,749.5 Z" fill="#000"/>
<path d="M188.5,801.6 L194,805.3 L188.5,809 Z" fill="#000"/>
<text x="0" y="0" font-size="8.2" text-anchor="middle" font-weight="normal" fill="#111" transform="translate(123.30,777.50) rotate(-90)" textLength="57.5" lengthAdjust="spacingAndGlyphs">APC-Cy7 Viability</text>
<text x="131.50" y="814.80" font-size="8.2" text-anchor="start" font-weight="normal" fill="#111" textLength="52.5" lengthAdjust="spacingAndGlyphs" >FITC Annexin V</text>
<text x="348.30" y="692.20" font-size="11.4" text-anchor="middle" font-weight="normal" fill="#111" textLength="45.5" lengthAdjust="spacingAndGlyphs" >OCILY19</text>
<text x="462.50" y="692.20" font-size="11.4" text-anchor="middle" font-weight="normal" fill="#111" textLength="47.5" lengthAdjust="spacingAndGlyphs" >OCILY10</text>
<text x="310.60" y="703.40" font-size="9.8" text-anchor="middle" font-weight="normal" fill="#111" textLength="30" lengthAdjust="spacingAndGlyphs" >Control</text>
<text x="370.80" y="703.40" font-size="9.8" text-anchor="middle" font-weight="normal" fill="#111" textLength="38.5" lengthAdjust="spacingAndGlyphs" >miR-181a</text>
<text x="427.60" y="703.40" font-size="9.8" text-anchor="middle" font-weight="normal" fill="#111" textLength="30" lengthAdjust="spacingAndGlyphs" >Control</text>
<text x="487.00" y="703.40" font-size="9.8" text-anchor="middle" font-weight="normal" fill="#111" textLength="38.5" lengthAdjust="spacingAndGlyphs" >miR-181a</text>
<text x="267.20" y="730.80" font-size="9.6" text-anchor="middle" font-weight="normal" fill="#111" textLength="18.5" lengthAdjust="spacingAndGlyphs" >H&amp;E</text>
<text x="265.90" y="774.20" font-size="9.6" text-anchor="middle" font-weight="normal" fill="#111" textLength="24.8" lengthAdjust="spacingAndGlyphs" >CD20</text>
<text x="264.00" y="819.20" font-size="9.6" text-anchor="middle" font-weight="normal" fill="#111" textLength="28" lengthAdjust="spacingAndGlyphs" >CD79A</text>
<text x="264.50" y="864.80" font-size="9.6" text-anchor="middle" font-weight="normal" fill="#111" textLength="29" lengthAdjust="spacingAndGlyphs" >TUNEL</text>
<text x="264.50" y="904.20" font-size="9.6" text-anchor="middle" font-weight="normal" fill="#111" textLength="29" lengthAdjust="spacingAndGlyphs" >TUNEL</text>
<text x="263.70" y="913.30" font-size="9.6" text-anchor="middle" font-weight="normal" fill="#111" textLength="27.4" lengthAdjust="spacingAndGlyphs" >&amp; DAPI</text>
<g clip-path="url(#ci00)"><rect x="272.95" y="690.65" width="70" height="70" transform="rotate(27 307.95 725.65)" filter="url(#he1)" fill="#000"/></g>
<g clip-path="url(#ci10)"><rect x="331.55" y="690.65" width="70" height="70" transform="rotate(27 366.55 725.65)" filter="url(#he2)" fill="#000"/></g>
<g clip-path="url(#ci20)"><rect x="390.65" y="690.65" width="70" height="70" transform="rotate(27 425.65 725.65)" filter="url(#he3)" fill="#000"/></g>
<g clip-path="url(#ci30)"><rect x="449.25" y="690.65" width="70" height="70" transform="rotate(27 484.25 725.65)" filter="url(#he4)" fill="#000"/></g>
<g clip-path="url(#ci01)"><rect x="272.95" y="736.45" width="70" height="70" transform="rotate(27 307.95 771.45)" filter="url(#cd1)" fill="#000"/></g>
<g clip-path="url(#ci11)"><rect x="331.55" y="736.45" width="70" height="70" transform="rotate(27 366.55 771.45)" filter="url(#cd2)" fill="#000"/></g>
<g clip-path="url(#ci21)"><rect x="390.65" y="736.45" width="70" height="70" transform="rotate(27 425.65 771.45)" filter="url(#cd3)" fill="#000"/></g>
<g clip-path="url(#ci31)"><rect x="449.25" y="736.45" width="70" height="70" transform="rotate(27 484.25 771.45)" filter="url(#cd4)" fill="#000"/></g>
<g clip-path="url(#ci02)"><rect x="272.95" y="782.15" width="70" height="70" transform="rotate(27 307.95 817.15)" filter="url(#cy1)" fill="#000"/></g>
<g clip-path="url(#ci12)"><rect x="331.55" y="782.15" width="70" height="70" transform="rotate(27 366.55 817.15)" filter="url(#cy2)" fill="#000"/></g>
<g clip-path="url(#ci22)"><rect x="390.65" y="782.15" width="70" height="70" transform="rotate(27 425.65 817.15)" filter="url(#cy3)" fill="#000"/></g>
<g clip-path="url(#ci32)"><rect x="449.25" y="782.15" width="70" height="70" transform="rotate(27 484.25 817.15)" filter="url(#cy4)" fill="#000"/></g>
<g clip-path="url(#ci03)"><rect x="272.95" y="827.65" width="70" height="70" transform="rotate(27 307.95 862.65)" filter="url(#tu)" fill="#000"/></g>
<g clip-path="url(#ci13)"><rect x="331.55" y="827.65" width="70" height="70" transform="rotate(27 366.55 862.65)" filter="url(#tu)" fill="#000"/></g>
<g clip-path="url(#ci23)"><rect x="390.65" y="827.65" width="70" height="70" transform="rotate(27 425.65 862.65)" filter="url(#tu)" fill="#000"/></g>
<g clip-path="url(#ci33)"><rect x="449.25" y="827.65" width="70" height="70" transform="rotate(27 484.25 862.65)" filter="url(#tu4)" fill="#000"/></g>
<g clip-path="url(#ci04)"><rect x="272.95" y="873.15" width="70" height="70" transform="rotate(27 307.95 908.15)" filter="url(#da1)" fill="#000"/></g>
<g clip-path="url(#ci14)"><rect x="331.55" y="873.15" width="70" height="70" transform="rotate(27 366.55 908.15)" filter="url(#da2)" fill="#000"/></g>
<g clip-path="url(#ci24)"><rect x="390.65" y="873.15" width="70" height="70" transform="rotate(27 425.65 908.15)" filter="url(#da3)" fill="#000"/></g>
<g clip-path="url(#ci34)"><rect x="449.25" y="873.15" width="70" height="70" transform="rotate(27 484.25 908.15)" filter="url(#da4)" fill="#000"/></g>
<g clip-path="url(#cpd1)"><ellipse cx="282" cy="935" rx="84" ry="72" fill="none" stroke="#06061a" stroke-width="44" filter="url(#bl1)"/></g>
<g clip-path="url(#cpd2)"><ellipse cx="340" cy="886" rx="26" ry="18" fill="#0a0a35" opacity="0.5" filter="url(#bl2)"/></g>
<rect x="458" y="887.5" width="52.5" height="41.3" fill="url(#gd4)"/>
<rect x="458" y="842" width="52.5" height="41.3" fill="url(#gt4)"/>
<circle cx="437" cy="711.5" r="2.0" fill="#f6f0f6"/>
<circle cx="442.5" cy="713.5" r="1.8" fill="#f6f0f6"/>
<circle cx="424" cy="718" r="2.1" fill="#f6f0f6"/>
<circle cx="401.5" cy="717.5" r="1.9" fill="#f6f0f6"/>
<circle cx="428.5" cy="726" r="2.6" fill="#f6f0f6"/>
<circle cx="401.5" cy="727" r="2.2" fill="#f6f0f6"/>
<circle cx="424" cy="729.5" r="1.8" fill="#f6f0f6"/>
<circle cx="431" cy="732.7" r="1.9" fill="#f6f0f6"/>
<circle cx="404.5" cy="804.5" r="3.0" fill="#f8f4f4"/>
<circle cx="403" cy="811" r="3.0" fill="#f8f4f4"/>
<circle cx="405" cy="822" r="2.6" fill="#f8f4f4"/>
<circle cx="435" cy="800.5" r="2.8" fill="#f8f4f4"/>
<circle cx="445.5" cy="799" r="2.8" fill="#f8f4f4"/>
<circle cx="436" cy="808" r="2.6" fill="#f8f4f4"/>
<circle cx="430" cy="813" r="2.8" fill="#f8f4f4"/>
<circle cx="445" cy="807" r="2.6" fill="#f8f4f4"/>
<rect x="500.8" y="924.6" width="7.4" height="2.6" fill="#f0f0b0"/>
<defs><filter id="he1" x="0" y="0" width="100%" height="100%" color-interpolation-filters="sRGB"><feFlood flood-color="#c862ba" result="bg"/><feTurbulence type="fractalNoise" baseFrequency="0.413" numOctaves="2" seed="3" result="n0"/><feColorMatrix in="n0" type="matrix" values="0 0 0 0 0.627 0 0 0 0 0.255 0 0 0 0 0.588 4 0 0 0 -2.080" result="s0"/><feComposite in="s0" in2="bg" operator="over" result="c0"/><feTurbulence type="fractalNoise" baseFrequency="0.463" numOctaves="2" seed="4" result="n1"/><feColorMatrix in="n1" type="matrix" values="0 0 0 0 0.910 0 0 0 0 0.647 0 0 0 0 0.871 4 0 0 0 -2.280" result="s1"/><feComposite in="s1" in2="c0" operator="over" result="c1"/><feGaussianBlur in="c1" stdDeviation="0.6"/></filter><filter id="he2" x="0" y="0" width="100%" height="100%" color-interpolation-filters="sRGB"><feFlood flood-color="#a03eac" result="bg"/><feTurbulence type="fractalNoise" baseFrequency="0.413" numOctaves="2" seed="5" result="n0"/><feColorMatrix in="n0" type="matrix" values="0 0 0 0 0.478 0 0 0 0 0.149 0 0 0 0 0.541 4 0 0 0 -2.080" result="s0"/><feComposite in="s0" in2="bg" operator="over" result="c0"/><feTurbulence type="fractalNoise" baseFrequency="0.483" numOctaves="2" seed="6" result="n1"/><feColorMatrix in="n1" type="matrix" values="0 0 0 0 0.882 0 0 0 0 0.647 0 0 0 0 0.922 6 0 0 0 -3.420" result="s1"/><feComposite in="s1" in2="c0" operator="over" result="c1"/><feGaussianBlur in="c1" stdDeviation="0.6"/></filter><filter id="he3" x="0" y="0" width="100%" height="100%" color-interpolation-filters="sRGB"><feFlood flood-color="#c050b8" result="bg"/><feTurbulence type="fractalNoise" baseFrequency="0.613" numOctaves="2" seed="7" result="n0"/><feColorMatrix in="n0" type="matrix" values="0 0 0 0 0.569 0 0 0 0 0.165 0 0 0 0 0.608 4 0 0 0 -2.080" result="s0"/><feComposite in="s0" in2="bg" operator="over" result="c0"/><feTurbulence type="fractalNoise" baseFrequency="0.683" numOctaves="2" seed="8" result="n1"/><feColorMatrix in="n1" type="matrix" values="0 0 0 0 0.902 0 0 0 0 0.588 0 0 0 0 0.882 4 0 0 0 -2.320" result="s1"/><feComposite in="s1" in2="c0" operator="over" result="c1"/><feGaussianBlur in="c1" stdDeviation="0.6"/></filter><filter id="he4" x="0" y="0" width="100%" height="100%" color-interpolation-filters="sRGB"><feFlood flood-color="#ce7ace" result="bg"/><feTurbulence type="fractalNoise" baseFrequency="0.613" numOctaves="2" seed="9" result="n0"/><feColorMatrix in="n0" type="matrix" values="0 0 0 0 0.647 0 0 0 0 0.322 0 0 0 0 0.675 3.5 0 0 0 -1.820" result="s0"/><feComposite in="s0" in2="bg" operator="over" result="c0"/><feTurbulence type="fractalNoise" baseFrequency="0.683" numOctaves="2" seed="10" result="n1"/><feColorMatrix in="n1" type="matrix" values="0 0 0 0 0.933 0 0 0 0 0.725 0 0 0 0 0.933 4 0 0 0 -2.320" result="s1"/><feComposite in="s1" in2="c0" operator="over" result="c1"/><feGaussianBlur in="c1" stdDeviation="0.6"/></filter><filter id="cd1" x="0" y="0" width="100%" height="100%" color-interpolation-filters="sRGB"><feFlood flood-color="#d6c6da" result="bg"/><feTurbulence type="fractalNoise" baseFrequency="0.213" numOctaves="2" seed="11" result="n0"/><feColorMatrix in="n0" type="matrix" values="0 0 0 0 0.737 0 0 0 0 0.667 0 0 0 0 0.816 4 0 0 0 -2.000" result="s0"/><feComposite in="s0" in2="bg" operator="over" result="c0"/><feTurbulence type="fractalNoise" baseFrequency="0.163" numOctaves="2" seed="12" result="n1"/><feColorMatrix in="n1" type="matrix" values="0 0 0 0 0.804 0 0 0 0 0.588 0 0 0 0 0.627 5 0 0 0 -2.750" result="s1"/><feComposite in="s1" in2="c0" operator="over" result="c1"/><feTurbulence type="fractalNoise" baseFrequency="0.453" numOctaves="2" seed="37" result="n2"/><feColorMatrix in="n2" type="matrix" values="0 0 0 0 0.647 0 0 0 0 0.255 0 0 0 0 0.227 6 0 0 0 -3.540" result="s2"/><feComposite in="s2" in2="c1" operator="over" result="c2"/><feTurbulence type="fractalNoise" baseFrequency="0.683" numOctaves="2" seed="13" result="n3"/><feColorMatrix in="n3" type="matrix" values="0 0 0 0 0.431 0 0 0 0 0.176 0 0 0 0 0.314 7 0 0 0 -4.550" result="s3"/><feComposite in="s3" in2="c2" operator="over" result="c3"/><feGaussianBlur in="c3" stdDeviation="0.6"/></filter><filter id="cd2" x="0" y="0" width="100%" height="100%" color-interpolation-filters="sRGB"><feFlood flood-color="#b6a4cc" result="bg"/><feTurbulence type="fractalNoise" baseFrequency="0.413" numOctaves="2" seed="14" result="n0"/><feColorMatrix in="n0" type="matrix" values="0 0 0 0 0.608 0 0 0 0 0.529 0 0 0 0 0.725 4 0 0 0 -2.120" result="s0"/><feComposite in="s0" in2="bg" operator="over" result="c0"/><feTurbulence type="fractalNoise" baseFrequency="0.453" numOctaves="2" seed="15" result="n1"/><feColorMatrix in="n1" type="matrix" values="0 0 0 0 0.831 0 0 0 0 0.784 0 0 0 0 0.894 4 0 0 0 -2.280" result="s1"/><feComposite in="s1" in2="c0" operator="over" result="c1"/><feGaussianBlur in="c1" stdDeviation="0.6"/></filter><filter id="cd3" x="0" y="0" width="100%" height="100%" color-interpolation-filters="sRGB"><feFlood flood-color="#bc684a" result="bg"/><feTurbulence type="fractalNoise" baseFrequency="0.413" numOctaves="2" seed="16" result="n0"/><feColorMatrix in="n0" type="matrix" values="0 0 0 0 0.549 0 0 0 0 0.227 0 0 0 0 0.149 5 0 0 0 -2.650" result="s0"/><feComposite in="s0" in2="bg" operator="over" result="c0"/><feTurbulence type="fractalNoise" baseFrequency="0.453" numOctaves="2" seed="17" result="n1"/><feColorMatrix in="n1" type="matrix" values="0 0 0 0 0.910 0 0 0 0 0.765 0 0 0 0 0.706 5 0 0 0 -2.900" result="s1"/><feComposite in="s1" in2="c0" operator="over" result="c1"/><feGaussianBlur in="c1" stdDeviation="0.6"/></filter><filter id="cd4" x="0" y="0" width="100%" height="100%" color-interpolation-filters="sRGB"><feFlood flood-color="#a84e30" result="bg"/><feTurbulence type="fractalNoise" baseFrequency="0.413" numOctaves="2" seed="18" result="n0"/><feColorMatrix in="n0" type="matrix" values="0 0 0 0 0.490 0 0 0 0 0.176 0 0 0 0 0.098 5 0 0 0 -2.600" result="s0"/><feComposite in="s0" in2="bg" operator="over" result="c0"/><feTurbulence type="fractalNoise" baseFrequency="0.453" numOctaves="2" seed="19" result="n1"/><feColorMatrix in="n1" type="matrix" values="0 0 0 0 0.894 0 0 0 0 0.686 0 0 0 0 0.588 5 0 0 0 -2.950" result="s1"/><feComposite in="s1" in2="c0" operator="over" result="c1"/><feGaussianBlur in="c1" stdDeviation="0.6"/></filter><filter id="cy1" x="0" y="0" width="100%" height="100%" color-interpolation-filters="sRGB"><feFlood flood-color="#b46c76" result="bg"/><feTurbulence type="fractalNoise" baseFrequency="0.413" numOctaves="2" seed="20" result="n0"/><feColorMatrix in="n0" type="matrix" values="0 0 0 0 0.549 0 0 0 0 0.267 0 0 0 0 0.314 5 0 0 0 -2.600" result="s0"/><feComposite in="s0" in2="bg" operator="over" result="c0"/><feTurbulence type="fractalNoise" baseFrequency="0.453" numOctaves="2" seed="21" result="n1"/><feColorMatrix in="n1" type="matrix" values="0 0 0 0 0.882 0 0 0 0 0.706 0 0 0 0 0.784 5 0 0 0 -2.900" result="s1"/><feComposite in="s1" in2="c0" operator="over" result="c1"/><feGaussianBlur in="c1" stdDeviation="0.6"/></filter><filter id="cy2" x="0" y="0" width="100%" height="100%" color-interpolation-filters="sRGB"><feFlood flood-color="#c4848e" result="bg"/><feTurbulence type="fractalNoise" baseFrequency="0.613" numOctaves="2" seed="22" result="n0"/><feColorMatrix in="n0" type="matrix" values="0 0 0 0 0.627 0 0 0 0 0.314 0 0 0 0 0.353 5 0 0 0 -2.650" result="s0"/><feComposite in="s0" in2="bg" operator="over" result="c0"/><feTurbulence type="fractalNoise" baseFrequency="0.647" numOctaves="2" seed="23" result="n1"/><feColorMatrix in="n1" type="matrix" values="0 0 0 0 0.922 0 0 0 0 0.824 0 0 0 0 0.894 5 0 0 0 -2.850" result="s1"/><feComposite in="s1" in2="c0" operator="over" result="c1"/><feGaussianBlur in="c1" stdDeviation="0.6"/></filter><filter id="cy3" x="0" y="0" width="100%" height="100%" color-interpolation-filters="sRGB"><feFlood flood-color="#d0a5af" result="bg"/><feTurbulence type="fractalNoise" baseFrequency="0.613" numOctaves="2" seed="24" result="n0"/><feColorMatrix in="n0" type="matrix" values="0 0 0 0 0.686 0 0 0 0 0.412 0 0 0 0 0.451 5 0 0 0 -2.650" result="s0"/><feComposite in="s0" in2="bg" operator="over" result="c0"/><feTurbulence type="fractalNoise" baseFrequency="0.647" numOctaves="2" seed="25" result="n1"/><feColorMatrix in="n1" type="matrix" values="0 0 0 0 0.961 0 0 0 0 0.910 0 0 0 0 0.949 6 0 0 0 -3.300" result="s1"/><feComposite in="s1" in2="c0" operator="over" result="c1"/><feGaussianBlur in="c1" stdDeviation="0.6"/></filter><filter id="cy4" x="0" y="0" width="100%" height="100%" color-interpolation-filters="sRGB"><feFlood flood-color="#c0a2bc" result="bg"/><feTurbulence type="fractalNoise" baseFrequency="0.213" numOctaves="2" seed="26" result="n0"/><feColorMatrix in="n0" type="matrix" values="0 0 0 0 0.855 0 0 0 0 0.776 0 0 0 0 0.855 5 0 0 0 -2.700" result="s0"/><feComposite in="s0" in2="bg" operator="over" result="c0"/><feTurbulence type="fractalNoise" baseFrequency="0.613" numOctaves="2" seed="27" result="n1"/><feColorMatrix in="n1" type="matrix" values="0 0 0 0 0.588 0 0 0 0 0.412 0 0 0 0 0.549 5 0 0 0 -2.600" result="s1"/><feComposite in="s1" in2="c0" operator="over" result="c1"/><feGaussianBlur in="c1" stdDeviation="0.6"/></filter><filter id="tu" x="0" y="0" width="100%" height="100%" color-interpolation-filters="sRGB"><feFlood flood-color="#090909" result="bg"/><feTurbulence type="fractalNoise" baseFrequency="0.613" numOctaves="2" seed="28" result="n0"/><feColorMatrix in="n0" type="matrix" values="0 0 0 0 0.086 0 0 0 0 0.086 0 0 0 0 0.086 4 0 0 0 -2.400" result="s0"/><feComposite in="s0" in2="bg" operator="over" result="c0"/><feGaussianBlur in="c0" stdDeviation="0.6"/></filter><filter id="tu4" x="0" y="0" width="100%" height="100%" color-interpolation-filters="sRGB"><feFlood flood-color="#080a08" result="bg"/><feTurbulence type="fractalNoise" baseFrequency="0.263" numOctaves="2" seed="29" result="n0"/><feColorMatrix in="n0" type="matrix" values="0 0 0 0 0.196 0 0 0 0 0.314 0 0 0 0 0.176 4 0 0 0 -2.240" result="s0"/><feComposite in="s0" in2="bg" operator="over" result="c0"/><feTurbulence type="fractalNoise" baseFrequency="0.613" numOctaves="2" seed="30" result="n1"/><feColorMatrix in="n1" type="matrix" values="0 0 0 0 0.510 0 0 0 0 0.706 0 0 0 0 0.392 6 0 0 0 -3.780" result="s1"/><feComposite in="s1" in2="c0" operator="over" result="c1"/><feGaussianBlur in="c1" stdDeviation="0.6"/></filter><filter id="da1" x="0" y="0" width="100%" height="100%" color-interpolation-filters="sRGB"><feFlood flood-color="#1c1870" result="bg"/><feTurbulence type="fractalNoise" baseFrequency="0.413" numOctaves="2" seed="31" result="n0"/><feColorMatrix in="n0" type="matrix" values="0 0 0 0 0.204 0 0 0 0 0.188 0 0 0 0 0.580 4 0 0 0 -2.120" result="s0"/><feComposite in="s0" in2="bg" operator="over" result="c0"/><feTurbulence type="fractalNoise" baseFrequency="0.383" numOctaves="2" seed="32" result="n1"/><feColorMatrix in="n1" type="matrix" values="0 0 0 0 0.047 0 0 0 0 0.039 0 0 0 0 0.255 4 0 0 0 -2.240" result="s1"/><feComposite in="s1" in2="c0" operator="over" result="c1"/><feGaussianBlur in="c1" stdDeviation="0.6"/></filter><filter id="da2" x="0" y="0" width="100%" height="100%" color-interpolation-filters="sRGB"><feFlood flood-color="#1b176c" result="bg"/><feTurbulence type="fractalNoise" baseFrequency="0.413" numOctaves="2" seed="33" result="n0"/><feColorMatrix in="n0" type="matrix" values="0 0 0 0 0.196 0 0 0 0 0.180 0 0 0 0 0.569 4 0 0 0 -2.120" result="s0"/><feComposite in="s0" in2="bg" operator="over" result="c0"/><feTurbulence type="fractalNoise" baseFrequency="0.383" numOctaves="2" seed="38" result="n1"/><feColorMatrix in="n1" type="matrix" values="0 0 0 0 0.047 0 0 0 0 0.039 0 0 0 0 0.255 4 0 0 0 -2.280" result="s1"/><feComposite in="s1" in2="c0" operator="over" result="c1"/><feGaussianBlur in="c1" stdDeviation="0.6"/></filter><filter id="da3" x="0" y="0" width="100%" height="100%" color-interpolation-filters="sRGB"><feFlood flood-color="#1d1972" result="bg"/><feTurbulence type="fractalNoise" baseFrequency="0.413" numOctaves="2" seed="34" result="n0"/><feColorMatrix in="n0" type="matrix" values="0 0 0 0 0.216 0 0 0 0 0.196 0 0 0 0 0.596 4 0 0 0 -2.120" result="s0"/><feComposite in="s0" in2="bg" operator="over" result="c0"/><feTurbulence type="fractalNoise" baseFrequency="0.383" numOctaves="2" seed="39" result="n1"/><feColorMatrix in="n1" type="matrix" values="0 0 0 0 0.047 0 0 0 0 0.039 0 0 0 0 0.255 4 0 0 0 -2.240" result="s1"/><feComposite in="s1" in2="c0" operator="over" result="c1"/><feGaussianBlur in="c1" stdDeviation="0.6"/></filter><filter id="da4" x="0" y="0" width="100%" height="100%" color-interpolation-filters="sRGB"><feFlood flood-color="#201e80" result="bg"/><feTurbulence type="fractalNoise" baseFrequency="0.413" numOctaves="2" seed="35" result="n0"/><feColorMatrix in="n0" type="matrix" values="0 0 0 0 0.216 0 0 0 0 0.216 0 0 0 0 0.647 4 0 0 0 -2.120" result="s0"/><feComposite in="s0" in2="bg" operator="over" result="c0"/><feTurbulence type="fractalNoise" baseFrequency="0.347" numOctaves="2" seed="36" result="n1"/><feColorMatrix in="n1" type="matrix" values="0 0 0 0 0.549 0 0 0 0 0.627 0 0 0 0 0.863 5 0 0 0 -3.200" result="s1"/><feComposite in="s1" in2="c0" operator="over" result="c1"/><feGaussianBlur in="c1" stdDeviation="0.6"/></filter><clipPath id="ci00"><rect x="281.7" y="705.0" width="52.5" height="41.3"/></clipPath><clipPath id="ci10"><rect x="340.3" y="705.0" width="52.5" height="41.3"/></clipPath><clipPath id="ci20"><rect x="399.4" y="705.0" width="52.5" height="41.3"/></clipPath><clipPath id="ci30"><rect x="458.0" y="705.0" width="52.5" height="41.3"/></clipPath><clipPath id="ci01"><rect x="281.7" y="750.8" width="52.5" height="41.3"/></clipPath><clipPath id="ci11"><rect x="340.3" y="750.8" width="52.5" height="41.3"/></clipPath><clipPath id="ci21"><rect x="399.4" y="750.8" width="52.5" height="41.3"/></clipPath><clipPath id="ci31"><rect x="458.0" y="750.8" width="52.5" height="41.3"/></clipPath><clipPath id="ci02"><rect x="281.7" y="796.5" width="52.5" height="41.3"/></clipPath><clipPath id="ci12"><rect x="340.3" y="796.5" width="52.5" height="41.3"/></clipPath><clipPath id="ci22"><rect x="399.4" y="796.5" width="52.5" height="41.3"/></clipPath><clipPath id="ci32"><rect x="458.0" y="796.5" width="52.5" height="41.3"/></clipPath><clipPath id="ci03"><rect x="281.7" y="842.0" width="52.5" height="41.3"/></clipPath><clipPath id="ci13"><rect x="340.3" y="842.0" width="52.5" height="41.3"/></clipPath><clipPath id="ci23"><rect x="399.4" y="842.0" width="52.5" height="41.3"/></clipPath><clipPath id="ci33"><rect x="458.0" y="842.0" width="52.5" height="41.3"/></clipPath><clipPath id="ci04"><rect x="281.7" y="887.5" width="52.5" height="41.3"/></clipPath><clipPath id="ci14"><rect x="340.3" y="887.5" width="52.5" height="41.3"/></clipPath><clipPath id="ci24"><rect x="399.4" y="887.5" width="52.5" height="41.3"/></clipPath><clipPath id="ci34"><rect x="458.0" y="887.5" width="52.5" height="41.3"/></clipPath><clipPath id="cpd1"><rect x="281.7" y="887.5" width="52.5" height="41.3"/></clipPath><clipPath id="cpd2"><rect x="340.3" y="887.5" width="52.5" height="41.3"/></clipPath><clipPath id="cpd4"><rect x="458" y="887.5" width="52.5" height="41.3"/></clipPath><clipPath id="cpt4"><rect x="458" y="842" width="52.5" height="41.3"/></clipPath><filter id="bl1" x="-50%" y="-50%" width="200%" height="200%"><feGaussianBlur stdDeviation="1"/></filter><filter id="bl2" x="-50%" y="-50%" width="200%" height="200%"><feGaussianBlur stdDeviation="2"/></filter><linearGradient id="gd4" x1="0" y1="0" x2="0" y2="1"><stop offset="0" stop-color="#05051a" stop-opacity="0.95"/><stop offset="0.25" stop-color="#05051a" stop-opacity="0.55"/><stop offset="0.5" stop-color="#05051a" stop-opacity="0"/></linearGradient><radialGradient id="gt4" cx="0.68" cy="0.38" r="0.5"><stop offset="0" stop-color="#6a9a5a" stop-opacity="0.3"/><stop offset="1" stop-color="#6a9a6a" stop-opacity="0"/></radialGradient><filter id="soft" x="-5%" y="-5%" width="110%" height="110%"><feGaussianBlur stdDeviation="0.75"/></filter></defs></svg></body></html>
